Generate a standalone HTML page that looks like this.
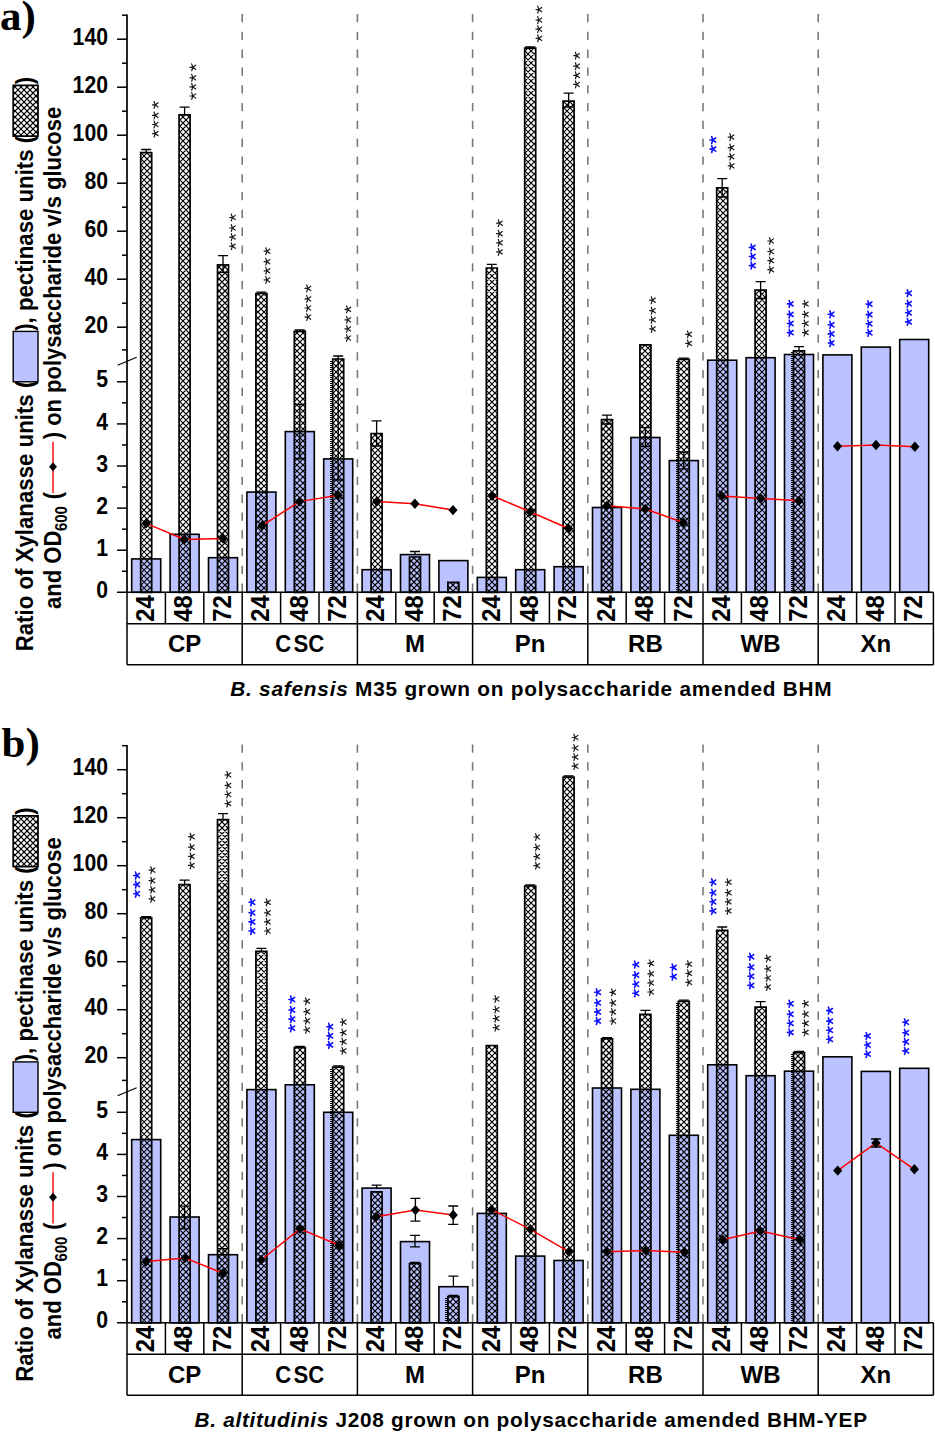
<!DOCTYPE html><html><head><meta charset="utf-8"><style>html,body{margin:0;padding:0;background:#fff;overflow:hidden;width:935px;height:1432px;}svg{display:block;}</style></head><body>
<svg width="935" height="1432" viewBox="0 0 935 1432">
<rect width="935" height="1432" fill="#fff"/>
<text x="0" y="29.6" font-family="'Liberation Serif', serif" font-weight="bold" font-size="43">a)</text>
<line x1="242.2" y1="14" x2="242.2" y2="592.3" stroke="#7a7a7a" stroke-width="1.6" stroke-dasharray="8.3 9.5"/>
<line x1="357.4" y1="14" x2="357.4" y2="592.3" stroke="#7a7a7a" stroke-width="1.6" stroke-dasharray="8.3 9.5"/>
<line x1="472.6" y1="14" x2="472.6" y2="592.3" stroke="#7a7a7a" stroke-width="1.6" stroke-dasharray="8.3 9.5"/>
<line x1="587.8" y1="14" x2="587.8" y2="592.3" stroke="#7a7a7a" stroke-width="1.6" stroke-dasharray="8.3 9.5"/>
<line x1="703" y1="14" x2="703" y2="592.3" stroke="#7a7a7a" stroke-width="1.6" stroke-dasharray="8.3 9.5"/>
<line x1="818.2" y1="14" x2="818.2" y2="592.3" stroke="#7a7a7a" stroke-width="1.6" stroke-dasharray="8.3 9.5"/>
<rect x="131.7" y="558.9" width="29" height="33.4" fill="#bac2ff" stroke="#000" stroke-width="1.6"/>
<rect x="170.1" y="534.3" width="29" height="58" fill="#bac2ff" stroke="#000" stroke-width="1.6"/>
<rect x="208.5" y="557.7" width="29" height="34.6" fill="#bac2ff" stroke="#000" stroke-width="1.6"/>
<rect x="246.9" y="492.1" width="29" height="100.2" fill="#bac2ff" stroke="#000" stroke-width="1.6"/>
<rect x="285.3" y="431.6" width="29" height="160.7" fill="#bac2ff" stroke="#000" stroke-width="1.6"/>
<path d="M294.8 404.3H304.8M299.8 404.3V431.6" stroke="#000" stroke-width="1.3" fill="none"/>
<path d="M294.8 458.9H304.8M299.8 458.9V431.6" stroke="#000" stroke-width="1.3" fill="none"/>
<rect x="323.7" y="458.9" width="29" height="133.4" fill="#bac2ff" stroke="#000" stroke-width="1.6"/>
<rect x="362.1" y="569.7" width="29" height="22.6" fill="#bac2ff" stroke="#000" stroke-width="1.6"/>
<rect x="400.5" y="554.6" width="29" height="37.7" fill="#bac2ff" stroke="#000" stroke-width="1.6"/>
<path d="M410 551.5H420M415 551.5V554.6" stroke="#000" stroke-width="1.3" fill="none"/>
<rect x="438.9" y="560.6" width="29" height="31.7" fill="#bac2ff" stroke="#000" stroke-width="1.6"/>
<rect x="477.3" y="577.4" width="29" height="14.9" fill="#bac2ff" stroke="#000" stroke-width="1.6"/>
<rect x="515.7" y="569.7" width="29" height="22.6" fill="#bac2ff" stroke="#000" stroke-width="1.6"/>
<rect x="554.1" y="566.7" width="29" height="25.6" fill="#bac2ff" stroke="#000" stroke-width="1.6"/>
<rect x="592.5" y="507.5" width="29" height="84.8" fill="#bac2ff" stroke="#000" stroke-width="1.6"/>
<rect x="630.9" y="437.5" width="29" height="154.8" fill="#bac2ff" stroke="#000" stroke-width="1.6"/>
<path d="M640.4 427.5H650.4M645.4 427.5V437.5" stroke="#000" stroke-width="1.3" fill="none"/>
<path d="M640.4 446.5H650.4M645.4 446.5V437.5" stroke="#000" stroke-width="1.3" fill="none"/>
<rect x="669.3" y="460.6" width="29" height="131.7" fill="#bac2ff" stroke="#000" stroke-width="1.6"/>
<path d="M678.8 452H688.8M683.8 452V460.6" stroke="#000" stroke-width="1.3" fill="none"/>
<path d="M678.8 468.8H688.8M683.8 468.8V460.6" stroke="#000" stroke-width="1.3" fill="none"/>
<rect x="707.7" y="360.2" width="29" height="232.1" fill="#bac2ff" stroke="#000" stroke-width="1.6"/>
<rect x="746.1" y="357.7" width="29" height="234.6" fill="#bac2ff" stroke="#000" stroke-width="1.6"/>
<rect x="784.5" y="354.5" width="29" height="237.8" fill="#bac2ff" stroke="#000" stroke-width="1.6"/>
<rect x="822.9" y="354.9" width="29" height="237.4" fill="#bac2ff" stroke="#000" stroke-width="1.6"/>
<rect x="861.3" y="347.1" width="29" height="245.2" fill="#bac2ff" stroke="#000" stroke-width="1.6"/>
<rect x="899.7" y="339.5" width="29" height="252.8" fill="#bac2ff" stroke="#000" stroke-width="1.6"/>
<path d="M141.2 149.5H151.2M146.2 149.5V152.6" stroke="#000" stroke-width="1.3" fill="none"/>
<path d="M179.6 107.2H189.6M184.6 107.2V114.9" stroke="#000" stroke-width="1.3" fill="none"/>
<path d="M218 255.7H228M223 255.7V264.8" stroke="#000" stroke-width="1.3" fill="none"/>
<path d="M218 272.4H228M223 272.4V264.8" stroke="#000" stroke-width="1.3" fill="none"/>
<path d="M256.4 292.2H266.4M261.4 292.2V293.5" stroke="#000" stroke-width="1.3" fill="none"/>
<path d="M294.8 330H304.8M299.8 330V331.3" stroke="#000" stroke-width="1.3" fill="none"/>
<path d="M333.2 356H343.2M338.2 356V359" stroke="#000" stroke-width="1.3" fill="none"/>
<path d="M333.2 480H343.2M338.2 480V359" stroke="#000" stroke-width="1.3" fill="none"/>
<path d="M371.6 420.8H381.6M376.6 420.8V433.5" stroke="#000" stroke-width="1.3" fill="none"/>
<path d="M371.6 446H381.6M376.6 446V433.5" stroke="#000" stroke-width="1.3" fill="none"/>
<path d="M486.8 264.3H496.8M491.8 264.3V268" stroke="#000" stroke-width="1.3" fill="none"/>
<path d="M525.2 47H535.2M530.2 47V48.2" stroke="#000" stroke-width="1.3" fill="none"/>
<path d="M563.6 93.2H573.6M568.6 93.2V101.2" stroke="#000" stroke-width="1.3" fill="none"/>
<path d="M563.6 107H573.6M568.6 107V101.2" stroke="#000" stroke-width="1.3" fill="none"/>
<path d="M602 415.2H612M607 415.2V419.7" stroke="#000" stroke-width="1.3" fill="none"/>
<path d="M602 424H612M607 424V419.7" stroke="#000" stroke-width="1.3" fill="none"/>
<path d="M678.8 358.1H688.8M683.8 358.1V359.3" stroke="#000" stroke-width="1.3" fill="none"/>
<path d="M717.2 178.7H727.2M722.2 178.7V187.9" stroke="#000" stroke-width="1.3" fill="none"/>
<path d="M717.2 197H727.2M722.2 197V187.9" stroke="#000" stroke-width="1.3" fill="none"/>
<path d="M755.6 281.7H765.6M760.6 281.7V290.1" stroke="#000" stroke-width="1.3" fill="none"/>
<path d="M755.6 298.5H765.6M760.6 298.5V290.1" stroke="#000" stroke-width="1.3" fill="none"/>
<path d="M794 346.6H804M799 346.6V350.8" stroke="#000" stroke-width="1.3" fill="none"/>
<path d="M140.7 153.3L141.4 152.6M140.7 159.3L147.4 152.6M140.7 165.3L151.7 154.3M140.7 171.3L151.7 160.3M140.7 177.3L151.7 166.3M140.7 183.3L151.7 172.3M140.7 189.3L151.7 178.3M140.7 195.3L151.7 184.3M140.7 201.3L151.7 190.3M140.7 207.3L151.7 196.3M140.7 213.3L151.7 202.3M140.7 219.3L151.7 208.3M140.7 225.3L151.7 214.3M140.7 231.3L151.7 220.3M140.7 237.3L151.7 226.3M140.7 243.3L151.7 232.3M140.7 249.3L151.7 238.3M140.7 255.3L151.7 244.3M140.7 261.3L151.7 250.3M140.7 267.3L151.7 256.3M140.7 273.3L151.7 262.3M140.7 279.3L151.7 268.3M140.7 285.3L151.7 274.3M140.7 291.3L151.7 280.3M140.7 297.3L151.7 286.3M140.7 303.3L151.7 292.3M140.7 309.3L151.7 298.3M140.7 315.3L151.7 304.3M140.7 321.3L151.7 310.3M140.7 327.3L151.7 316.3M140.7 333.3L151.7 322.3M140.7 339.3L151.7 328.3M140.7 345.3L151.7 334.3M140.7 351.3L151.7 340.3M140.7 357.3L151.7 346.3M140.7 363.3L151.7 352.3M140.7 369.3L151.7 358.3M140.7 375.3L151.7 364.3M140.7 381.3L151.7 370.3M140.7 387.3L151.7 376.3M140.7 393.3L151.7 382.3M140.7 399.3L151.7 388.3M140.7 405.3L151.7 394.3M140.7 411.3L151.7 400.3M140.7 417.3L151.7 406.3M140.7 423.3L151.7 412.3M140.7 429.3L151.7 418.3M140.7 435.3L151.7 424.3M140.7 441.3L151.7 430.3M140.7 447.3L151.7 436.3M140.7 453.3L151.7 442.3M140.7 459.3L151.7 448.3M140.7 465.3L151.7 454.3M140.7 471.3L151.7 460.3M140.7 477.3L151.7 466.3M140.7 483.3L151.7 472.3M140.7 489.3L151.7 478.3M140.7 495.3L151.7 484.3M140.7 501.3L151.7 490.3M140.7 507.3L151.7 496.3M140.7 513.3L151.7 502.3M140.7 519.3L151.7 508.3M140.7 525.3L151.7 514.3M140.7 531.3L151.7 520.3M140.7 537.3L151.7 526.3M140.7 543.3L151.7 532.3M140.7 549.3L151.7 538.3M140.7 555.3L151.7 544.3M140.7 561.3L151.7 550.3M140.7 567.3L151.7 556.3M140.7 573.3L151.7 562.3M140.7 579.3L151.7 568.3M140.7 585.3L151.7 574.3M140.7 591.3L151.7 580.3M145.7 592.3L151.7 586.3M140.7 590.7L142.3 592.3M140.7 584.7L148.3 592.3M140.7 578.7L151.7 589.7M140.7 572.7L151.7 583.7M140.7 566.7L151.7 577.7M140.7 560.7L151.7 571.7M140.7 554.7L151.7 565.7M140.7 548.7L151.7 559.7M140.7 542.7L151.7 553.7M140.7 536.7L151.7 547.7M140.7 530.7L151.7 541.7M140.7 524.7L151.7 535.7M140.7 518.7L151.7 529.7M140.7 512.7L151.7 523.7M140.7 506.7L151.7 517.7M140.7 500.7L151.7 511.7M140.7 494.7L151.7 505.7M140.7 488.7L151.7 499.7M140.7 482.7L151.7 493.7M140.7 476.7L151.7 487.7M140.7 470.7L151.7 481.7M140.7 464.7L151.7 475.7M140.7 458.7L151.7 469.7M140.7 452.7L151.7 463.7M140.7 446.7L151.7 457.7M140.7 440.7L151.7 451.7M140.7 434.7L151.7 445.7M140.7 428.7L151.7 439.7M140.7 422.7L151.7 433.7M140.7 416.7L151.7 427.7M140.7 410.7L151.7 421.7M140.7 404.7L151.7 415.7M140.7 398.7L151.7 409.7M140.7 392.7L151.7 403.7M140.7 386.7L151.7 397.7M140.7 380.7L151.7 391.7M140.7 374.7L151.7 385.7M140.7 368.7L151.7 379.7M140.7 362.7L151.7 373.7M140.7 356.7L151.7 367.7M140.7 350.7L151.7 361.7M140.7 344.7L151.7 355.7M140.7 338.7L151.7 349.7M140.7 332.7L151.7 343.7M140.7 326.7L151.7 337.7M140.7 320.7L151.7 331.7M140.7 314.7L151.7 325.7M140.7 308.7L151.7 319.7M140.7 302.7L151.7 313.7M140.7 296.7L151.7 307.7M140.7 290.7L151.7 301.7M140.7 284.7L151.7 295.7M140.7 278.7L151.7 289.7M140.7 272.7L151.7 283.7M140.7 266.7L151.7 277.7M140.7 260.7L151.7 271.7M140.7 254.7L151.7 265.7M140.7 248.7L151.7 259.7M140.7 242.7L151.7 253.7M140.7 236.7L151.7 247.7M140.7 230.7L151.7 241.7M140.7 224.7L151.7 235.7M140.7 218.7L151.7 229.7M140.7 212.7L151.7 223.7M140.7 206.7L151.7 217.7M140.7 200.7L151.7 211.7M140.7 194.7L151.7 205.7M140.7 188.7L151.7 199.7M140.7 182.7L151.7 193.7M140.7 176.7L151.7 187.7M140.7 170.7L151.7 181.7M140.7 164.7L151.7 175.7M140.7 158.7L151.7 169.7M140.7 152.7L151.7 163.7M146.6 152.6L151.7 157.7M179.1 120.9L185.1 114.9M179.1 126.9L190.1 115.9M179.1 132.9L190.1 121.9M179.1 138.9L190.1 127.9M179.1 144.9L190.1 133.9M179.1 150.9L190.1 139.9M179.1 156.9L190.1 145.9M179.1 162.9L190.1 151.9M179.1 168.9L190.1 157.9M179.1 174.9L190.1 163.9M179.1 180.9L190.1 169.9M179.1 186.9L190.1 175.9M179.1 192.9L190.1 181.9M179.1 198.9L190.1 187.9M179.1 204.9L190.1 193.9M179.1 210.9L190.1 199.9M179.1 216.9L190.1 205.9M179.1 222.9L190.1 211.9M179.1 228.9L190.1 217.9M179.1 234.9L190.1 223.9M179.1 240.9L190.1 229.9M179.1 246.9L190.1 235.9M179.1 252.9L190.1 241.9M179.1 258.9L190.1 247.9M179.1 264.9L190.1 253.9M179.1 270.9L190.1 259.9M179.1 276.9L190.1 265.9M179.1 282.9L190.1 271.9M179.1 288.9L190.1 277.9M179.1 294.9L190.1 283.9M179.1 300.9L190.1 289.9M179.1 306.9L190.1 295.9M179.1 312.9L190.1 301.9M179.1 318.9L190.1 307.9M179.1 324.9L190.1 313.9M179.1 330.9L190.1 319.9M179.1 336.9L190.1 325.9M179.1 342.9L190.1 331.9M179.1 348.9L190.1 337.9M179.1 354.9L190.1 343.9M179.1 360.9L190.1 349.9M179.1 366.9L190.1 355.9M179.1 372.9L190.1 361.9M179.1 378.9L190.1 367.9M179.1 384.9L190.1 373.9M179.1 390.9L190.1 379.9M179.1 396.9L190.1 385.9M179.1 402.9L190.1 391.9M179.1 408.9L190.1 397.9M179.1 414.9L190.1 403.9M179.1 420.9L190.1 409.9M179.1 426.9L190.1 415.9M179.1 432.9L190.1 421.9M179.1 438.9L190.1 427.9M179.1 444.9L190.1 433.9M179.1 450.9L190.1 439.9M179.1 456.9L190.1 445.9M179.1 462.9L190.1 451.9M179.1 468.9L190.1 457.9M179.1 474.9L190.1 463.9M179.1 480.9L190.1 469.9M179.1 486.9L190.1 475.9M179.1 492.9L190.1 481.9M179.1 498.9L190.1 487.9M179.1 504.9L190.1 493.9M179.1 510.9L190.1 499.9M179.1 516.9L190.1 505.9M179.1 522.9L190.1 511.9M179.1 528.9L190.1 517.9M179.1 534.9L190.1 523.9M179.1 540.9L190.1 529.9M179.1 546.9L190.1 535.9M179.1 552.9L190.1 541.9M179.1 558.9L190.1 547.9M179.1 564.9L190.1 553.9M179.1 570.9L190.1 559.9M179.1 576.9L190.1 565.9M179.1 582.9L190.1 571.9M179.1 588.9L190.1 577.9M181.7 592.3L190.1 583.9M187.7 592.3L190.1 589.9M179.1 587.1L184.3 592.3M179.1 581.1L190.1 592.1M179.1 575.1L190.1 586.1M179.1 569.1L190.1 580.1M179.1 563.1L190.1 574.1M179.1 557.1L190.1 568.1M179.1 551.1L190.1 562.1M179.1 545.1L190.1 556.1M179.1 539.1L190.1 550.1M179.1 533.1L190.1 544.1M179.1 527.1L190.1 538.1M179.1 521.1L190.1 532.1M179.1 515.1L190.1 526.1M179.1 509.1L190.1 520.1M179.1 503.1L190.1 514.1M179.1 497.1L190.1 508.1M179.1 491.1L190.1 502.1M179.1 485.1L190.1 496.1M179.1 479.1L190.1 490.1M179.1 473.1L190.1 484.1M179.1 467.1L190.1 478.1M179.1 461.1L190.1 472.1M179.1 455.1L190.1 466.1M179.1 449.1L190.1 460.1M179.1 443.1L190.1 454.1M179.1 437.1L190.1 448.1M179.1 431.1L190.1 442.1M179.1 425.1L190.1 436.1M179.1 419.1L190.1 430.1M179.1 413.1L190.1 424.1M179.1 407.1L190.1 418.1M179.1 401.1L190.1 412.1M179.1 395.1L190.1 406.1M179.1 389.1L190.1 400.1M179.1 383.1L190.1 394.1M179.1 377.1L190.1 388.1M179.1 371.1L190.1 382.1M179.1 365.1L190.1 376.1M179.1 359.1L190.1 370.1M179.1 353.1L190.1 364.1M179.1 347.1L190.1 358.1M179.1 341.1L190.1 352.1M179.1 335.1L190.1 346.1M179.1 329.1L190.1 340.1M179.1 323.1L190.1 334.1M179.1 317.1L190.1 328.1M179.1 311.1L190.1 322.1M179.1 305.1L190.1 316.1M179.1 299.1L190.1 310.1M179.1 293.1L190.1 304.1M179.1 287.1L190.1 298.1M179.1 281.1L190.1 292.1M179.1 275.1L190.1 286.1M179.1 269.1L190.1 280.1M179.1 263.1L190.1 274.1M179.1 257.1L190.1 268.1M179.1 251.1L190.1 262.1M179.1 245.1L190.1 256.1M179.1 239.1L190.1 250.1M179.1 233.1L190.1 244.1M179.1 227.1L190.1 238.1M179.1 221.1L190.1 232.1M179.1 215.1L190.1 226.1M179.1 209.1L190.1 220.1M179.1 203.1L190.1 214.1M179.1 197.1L190.1 208.1M179.1 191.1L190.1 202.1M179.1 185.1L190.1 196.1M179.1 179.1L190.1 190.1M179.1 173.1L190.1 184.1M179.1 167.1L190.1 178.1M179.1 161.1L190.1 172.1M179.1 155.1L190.1 166.1M179.1 149.1L190.1 160.1M179.1 143.1L190.1 154.1M179.1 137.1L190.1 148.1M179.1 131.1L190.1 142.1M179.1 125.1L190.1 136.1M179.1 119.1L190.1 130.1M180.9 114.9L190.1 124.1M186.9 114.9L190.1 118.1M217.5 268.5L221.2 264.8M217.5 274.5L227.2 264.8M217.5 280.5L228.5 269.5M217.5 286.5L228.5 275.5M217.5 292.5L228.5 281.5M217.5 298.5L228.5 287.5M217.5 304.5L228.5 293.5M217.5 310.5L228.5 299.5M217.5 316.5L228.5 305.5M217.5 322.5L228.5 311.5M217.5 328.5L228.5 317.5M217.5 334.5L228.5 323.5M217.5 340.5L228.5 329.5M217.5 346.5L228.5 335.5M217.5 352.5L228.5 341.5M217.5 358.5L228.5 347.5M217.5 364.5L228.5 353.5M217.5 370.5L228.5 359.5M217.5 376.5L228.5 365.5M217.5 382.5L228.5 371.5M217.5 388.5L228.5 377.5M217.5 394.5L228.5 383.5M217.5 400.5L228.5 389.5M217.5 406.5L228.5 395.5M217.5 412.5L228.5 401.5M217.5 418.5L228.5 407.5M217.5 424.5L228.5 413.5M217.5 430.5L228.5 419.5M217.5 436.5L228.5 425.5M217.5 442.5L228.5 431.5M217.5 448.5L228.5 437.5M217.5 454.5L228.5 443.5M217.5 460.5L228.5 449.5M217.5 466.5L228.5 455.5M217.5 472.5L228.5 461.5M217.5 478.5L228.5 467.5M217.5 484.5L228.5 473.5M217.5 490.5L228.5 479.5M217.5 496.5L228.5 485.5M217.5 502.5L228.5 491.5M217.5 508.5L228.5 497.5M217.5 514.5L228.5 503.5M217.5 520.5L228.5 509.5M217.5 526.5L228.5 515.5M217.5 532.5L228.5 521.5M217.5 538.5L228.5 527.5M217.5 544.5L228.5 533.5M217.5 550.5L228.5 539.5M217.5 556.5L228.5 545.5M217.5 562.5L228.5 551.5M217.5 568.5L228.5 557.5M217.5 574.5L228.5 563.5M217.5 580.5L228.5 569.5M217.5 586.5L228.5 575.5M217.7 592.3L228.5 581.5M223.7 592.3L228.5 587.5M217.5 589.5L220.3 592.3M217.5 583.5L226.3 592.3M217.5 577.5L228.5 588.5M217.5 571.5L228.5 582.5M217.5 565.5L228.5 576.5M217.5 559.5L228.5 570.5M217.5 553.5L228.5 564.5M217.5 547.5L228.5 558.5M217.5 541.5L228.5 552.5M217.5 535.5L228.5 546.5M217.5 529.5L228.5 540.5M217.5 523.5L228.5 534.5M217.5 517.5L228.5 528.5M217.5 511.5L228.5 522.5M217.5 505.5L228.5 516.5M217.5 499.5L228.5 510.5M217.5 493.5L228.5 504.5M217.5 487.5L228.5 498.5M217.5 481.5L228.5 492.5M217.5 475.5L228.5 486.5M217.5 469.5L228.5 480.5M217.5 463.5L228.5 474.5M217.5 457.5L228.5 468.5M217.5 451.5L228.5 462.5M217.5 445.5L228.5 456.5M217.5 439.5L228.5 450.5M217.5 433.5L228.5 444.5M217.5 427.5L228.5 438.5M217.5 421.5L228.5 432.5M217.5 415.5L228.5 426.5M217.5 409.5L228.5 420.5M217.5 403.5L228.5 414.5M217.5 397.5L228.5 408.5M217.5 391.5L228.5 402.5M217.5 385.5L228.5 396.5M217.5 379.5L228.5 390.5M217.5 373.5L228.5 384.5M217.5 367.5L228.5 378.5M217.5 361.5L228.5 372.5M217.5 355.5L228.5 366.5M217.5 349.5L228.5 360.5M217.5 343.5L228.5 354.5M217.5 337.5L228.5 348.5M217.5 331.5L228.5 342.5M217.5 325.5L228.5 336.5M217.5 319.5L228.5 330.5M217.5 313.5L228.5 324.5M217.5 307.5L228.5 318.5M217.5 301.5L228.5 312.5M217.5 295.5L228.5 306.5M217.5 289.5L228.5 300.5M217.5 283.5L228.5 294.5M217.5 277.5L228.5 288.5M217.5 271.5L228.5 282.5M217.5 265.5L228.5 276.5M222.8 264.8L228.5 270.5M255.9 296.1L258.5 293.5M255.9 302.1L264.5 293.5M255.9 308.1L266.9 297.1M255.9 314.1L266.9 303.1M255.9 320.1L266.9 309.1M255.9 326.1L266.9 315.1M255.9 332.1L266.9 321.1M255.9 338.1L266.9 327.1M255.9 344.1L266.9 333.1M255.9 350.1L266.9 339.1M255.9 356.1L266.9 345.1M255.9 362.1L266.9 351.1M255.9 368.1L266.9 357.1M255.9 374.1L266.9 363.1M255.9 380.1L266.9 369.1M255.9 386.1L266.9 375.1M255.9 392.1L266.9 381.1M255.9 398.1L266.9 387.1M255.9 404.1L266.9 393.1M255.9 410.1L266.9 399.1M255.9 416.1L266.9 405.1M255.9 422.1L266.9 411.1M255.9 428.1L266.9 417.1M255.9 434.1L266.9 423.1M255.9 440.1L266.9 429.1M255.9 446.1L266.9 435.1M255.9 452.1L266.9 441.1M255.9 458.1L266.9 447.1M255.9 464.1L266.9 453.1M255.9 470.1L266.9 459.1M255.9 476.1L266.9 465.1M255.9 482.1L266.9 471.1M255.9 488.1L266.9 477.1M255.9 494.1L266.9 483.1M255.9 500.1L266.9 489.1M255.9 506.1L266.9 495.1M255.9 512.1L266.9 501.1M255.9 518.1L266.9 507.1M255.9 524.1L266.9 513.1M255.9 530.1L266.9 519.1M255.9 536.1L266.9 525.1M255.9 542.1L266.9 531.1M255.9 548.1L266.9 537.1M255.9 554.1L266.9 543.1M255.9 560.1L266.9 549.1M255.9 566.1L266.9 555.1M255.9 572.1L266.9 561.1M255.9 578.1L266.9 567.1M255.9 584.1L266.9 573.1M255.9 590.1L266.9 579.1M259.7 592.3L266.9 585.1M265.7 592.3L266.9 591.1M255.9 591.9L256.3 592.3M255.9 585.9L262.3 592.3M255.9 579.9L266.9 590.9M255.9 573.9L266.9 584.9M255.9 567.9L266.9 578.9M255.9 561.9L266.9 572.9M255.9 555.9L266.9 566.9M255.9 549.9L266.9 560.9M255.9 543.9L266.9 554.9M255.9 537.9L266.9 548.9M255.9 531.9L266.9 542.9M255.9 525.9L266.9 536.9M255.9 519.9L266.9 530.9M255.9 513.9L266.9 524.9M255.9 507.9L266.9 518.9M255.9 501.9L266.9 512.9M255.9 495.9L266.9 506.9M255.9 489.9L266.9 500.9M255.9 483.9L266.9 494.9M255.9 477.9L266.9 488.9M255.9 471.9L266.9 482.9M255.9 465.9L266.9 476.9M255.9 459.9L266.9 470.9M255.9 453.9L266.9 464.9M255.9 447.9L266.9 458.9M255.9 441.9L266.9 452.9M255.9 435.9L266.9 446.9M255.9 429.9L266.9 440.9M255.9 423.9L266.9 434.9M255.9 417.9L266.9 428.9M255.9 411.9L266.9 422.9M255.9 405.9L266.9 416.9M255.9 399.9L266.9 410.9M255.9 393.9L266.9 404.9M255.9 387.9L266.9 398.9M255.9 381.9L266.9 392.9M255.9 375.9L266.9 386.9M255.9 369.9L266.9 380.9M255.9 363.9L266.9 374.9M255.9 357.9L266.9 368.9M255.9 351.9L266.9 362.9M255.9 345.9L266.9 356.9M255.9 339.9L266.9 350.9M255.9 333.9L266.9 344.9M255.9 327.9L266.9 338.9M255.9 321.9L266.9 332.9M255.9 315.9L266.9 326.9M255.9 309.9L266.9 320.9M255.9 303.9L266.9 314.9M255.9 297.9L266.9 308.9M257.5 293.5L266.9 302.9M263.5 293.5L266.9 296.9M294.3 335.7L298.7 331.3M294.3 341.7L304.7 331.3M294.3 347.7L305.3 336.7M294.3 353.7L305.3 342.7M294.3 359.7L305.3 348.7M294.3 365.7L305.3 354.7M294.3 371.7L305.3 360.7M294.3 377.7L305.3 366.7M294.3 383.7L305.3 372.7M294.3 389.7L305.3 378.7M294.3 395.7L305.3 384.7M294.3 401.7L305.3 390.7M294.3 407.7L305.3 396.7M294.3 413.7L305.3 402.7M294.3 419.7L305.3 408.7M294.3 425.7L305.3 414.7M294.3 431.7L305.3 420.7M294.3 437.7L305.3 426.7M294.3 443.7L305.3 432.7M294.3 449.7L305.3 438.7M294.3 455.7L305.3 444.7M294.3 461.7L305.3 450.7M294.3 467.7L305.3 456.7M294.3 473.7L305.3 462.7M294.3 479.7L305.3 468.7M294.3 485.7L305.3 474.7M294.3 491.7L305.3 480.7M294.3 497.7L305.3 486.7M294.3 503.7L305.3 492.7M294.3 509.7L305.3 498.7M294.3 515.7L305.3 504.7M294.3 521.7L305.3 510.7M294.3 527.7L305.3 516.7M294.3 533.7L305.3 522.7M294.3 539.7L305.3 528.7M294.3 545.7L305.3 534.7M294.3 551.7L305.3 540.7M294.3 557.7L305.3 546.7M294.3 563.7L305.3 552.7M294.3 569.7L305.3 558.7M294.3 575.7L305.3 564.7M294.3 581.7L305.3 570.7M294.3 587.7L305.3 576.7M295.7 592.3L305.3 582.7M301.7 592.3L305.3 588.7M294.3 588.3L298.3 592.3M294.3 582.3L304.3 592.3M294.3 576.3L305.3 587.3M294.3 570.3L305.3 581.3M294.3 564.3L305.3 575.3M294.3 558.3L305.3 569.3M294.3 552.3L305.3 563.3M294.3 546.3L305.3 557.3M294.3 540.3L305.3 551.3M294.3 534.3L305.3 545.3M294.3 528.3L305.3 539.3M294.3 522.3L305.3 533.3M294.3 516.3L305.3 527.3M294.3 510.3L305.3 521.3M294.3 504.3L305.3 515.3M294.3 498.3L305.3 509.3M294.3 492.3L305.3 503.3M294.3 486.3L305.3 497.3M294.3 480.3L305.3 491.3M294.3 474.3L305.3 485.3M294.3 468.3L305.3 479.3M294.3 462.3L305.3 473.3M294.3 456.3L305.3 467.3M294.3 450.3L305.3 461.3M294.3 444.3L305.3 455.3M294.3 438.3L305.3 449.3M294.3 432.3L305.3 443.3M294.3 426.3L305.3 437.3M294.3 420.3L305.3 431.3M294.3 414.3L305.3 425.3M294.3 408.3L305.3 419.3M294.3 402.3L305.3 413.3M294.3 396.3L305.3 407.3M294.3 390.3L305.3 401.3M294.3 384.3L305.3 395.3M294.3 378.3L305.3 389.3M294.3 372.3L305.3 383.3M294.3 366.3L305.3 377.3M294.3 360.3L305.3 371.3M294.3 354.3L305.3 365.3M294.3 348.3L305.3 359.3M294.3 342.3L305.3 353.3M294.3 336.3L305.3 347.3M295.3 331.3L305.3 341.3M301.3 331.3L305.3 335.3M332.7 363.3L337 359M332.7 369.3L343 359M332.7 375.3L343.7 364.3M332.7 381.3L343.7 370.3M332.7 387.3L343.7 376.3M332.7 393.3L343.7 382.3M332.7 399.3L343.7 388.3M332.7 405.3L343.7 394.3M332.7 411.3L343.7 400.3M332.7 417.3L343.7 406.3M332.7 423.3L343.7 412.3M332.7 429.3L343.7 418.3M332.7 435.3L343.7 424.3M332.7 441.3L343.7 430.3M332.7 447.3L343.7 436.3M332.7 453.3L343.7 442.3M332.7 459.3L343.7 448.3M332.7 465.3L343.7 454.3M332.7 471.3L343.7 460.3M332.7 477.3L343.7 466.3M332.7 483.3L343.7 472.3M332.7 489.3L343.7 478.3M332.7 495.3L343.7 484.3M332.7 501.3L343.7 490.3M332.7 507.3L343.7 496.3M332.7 513.3L343.7 502.3M332.7 519.3L343.7 508.3M332.7 525.3L343.7 514.3M332.7 531.3L343.7 520.3M332.7 537.3L343.7 526.3M332.7 543.3L343.7 532.3M332.7 549.3L343.7 538.3M332.7 555.3L343.7 544.3M332.7 561.3L343.7 550.3M332.7 567.3L343.7 556.3M332.7 573.3L343.7 562.3M332.7 579.3L343.7 568.3M332.7 585.3L343.7 574.3M332.7 591.3L343.7 580.3M337.7 592.3L343.7 586.3M332.7 590.7L334.3 592.3M332.7 584.7L340.3 592.3M332.7 578.7L343.7 589.7M332.7 572.7L343.7 583.7M332.7 566.7L343.7 577.7M332.7 560.7L343.7 571.7M332.7 554.7L343.7 565.7M332.7 548.7L343.7 559.7M332.7 542.7L343.7 553.7M332.7 536.7L343.7 547.7M332.7 530.7L343.7 541.7M332.7 524.7L343.7 535.7M332.7 518.7L343.7 529.7M332.7 512.7L343.7 523.7M332.7 506.7L343.7 517.7M332.7 500.7L343.7 511.7M332.7 494.7L343.7 505.7M332.7 488.7L343.7 499.7M332.7 482.7L343.7 493.7M332.7 476.7L343.7 487.7M332.7 470.7L343.7 481.7M332.7 464.7L343.7 475.7M332.7 458.7L343.7 469.7M332.7 452.7L343.7 463.7M332.7 446.7L343.7 457.7M332.7 440.7L343.7 451.7M332.7 434.7L343.7 445.7M332.7 428.7L343.7 439.7M332.7 422.7L343.7 433.7M332.7 416.7L343.7 427.7M332.7 410.7L343.7 421.7M332.7 404.7L343.7 415.7M332.7 398.7L343.7 409.7M332.7 392.7L343.7 403.7M332.7 386.7L343.7 397.7M332.7 380.7L343.7 391.7M332.7 374.7L343.7 385.7M332.7 368.7L343.7 379.7M332.7 362.7L343.7 373.7M335 359L343.7 367.7M341 359L343.7 361.7M371.1 438.9L376.5 433.5M371.1 444.9L382.1 433.9M371.1 450.9L382.1 439.9M371.1 456.9L382.1 445.9M371.1 462.9L382.1 451.9M371.1 468.9L382.1 457.9M371.1 474.9L382.1 463.9M371.1 480.9L382.1 469.9M371.1 486.9L382.1 475.9M371.1 492.9L382.1 481.9M371.1 498.9L382.1 487.9M371.1 504.9L382.1 493.9M371.1 510.9L382.1 499.9M371.1 516.9L382.1 505.9M371.1 522.9L382.1 511.9M371.1 528.9L382.1 517.9M371.1 534.9L382.1 523.9M371.1 540.9L382.1 529.9M371.1 546.9L382.1 535.9M371.1 552.9L382.1 541.9M371.1 558.9L382.1 547.9M371.1 564.9L382.1 553.9M371.1 570.9L382.1 559.9M371.1 576.9L382.1 565.9M371.1 582.9L382.1 571.9M371.1 588.9L382.1 577.9M373.7 592.3L382.1 583.9M379.7 592.3L382.1 589.9M371.1 587.1L376.3 592.3M371.1 581.1L382.1 592.1M371.1 575.1L382.1 586.1M371.1 569.1L382.1 580.1M371.1 563.1L382.1 574.1M371.1 557.1L382.1 568.1M371.1 551.1L382.1 562.1M371.1 545.1L382.1 556.1M371.1 539.1L382.1 550.1M371.1 533.1L382.1 544.1M371.1 527.1L382.1 538.1M371.1 521.1L382.1 532.1M371.1 515.1L382.1 526.1M371.1 509.1L382.1 520.1M371.1 503.1L382.1 514.1M371.1 497.1L382.1 508.1M371.1 491.1L382.1 502.1M371.1 485.1L382.1 496.1M371.1 479.1L382.1 490.1M371.1 473.1L382.1 484.1M371.1 467.1L382.1 478.1M371.1 461.1L382.1 472.1M371.1 455.1L382.1 466.1M371.1 449.1L382.1 460.1M371.1 443.1L382.1 454.1M371.1 437.1L382.1 448.1M373.5 433.5L382.1 442.1M379.5 433.5L382.1 436.1M409.5 562.5L415 557M409.5 568.5L420.5 557.5M409.5 574.5L420.5 563.5M409.5 580.5L420.5 569.5M409.5 586.5L420.5 575.5M409.7 592.3L420.5 581.5M415.7 592.3L420.5 587.5M409.5 589.5L412.3 592.3M409.5 583.5L418.3 592.3M409.5 577.5L420.5 588.5M409.5 571.5L420.5 582.5M409.5 565.5L420.5 576.5M409.5 559.5L420.5 570.5M413 557L420.5 564.5M419 557L420.5 558.5M447.9 584.1L449.6 582.4M447.9 590.1L455.6 582.4M451.7 592.3L458.9 585.1M457.7 592.3L458.9 591.1M447.9 591.9L448.3 592.3M447.9 585.9L454.3 592.3M450.4 582.4L458.9 590.9M456.4 582.4L458.9 584.9M486.3 269.7L488 268M486.3 275.7L494 268M486.3 281.7L497.3 270.7M486.3 287.7L497.3 276.7M486.3 293.7L497.3 282.7M486.3 299.7L497.3 288.7M486.3 305.7L497.3 294.7M486.3 311.7L497.3 300.7M486.3 317.7L497.3 306.7M486.3 323.7L497.3 312.7M486.3 329.7L497.3 318.7M486.3 335.7L497.3 324.7M486.3 341.7L497.3 330.7M486.3 347.7L497.3 336.7M486.3 353.7L497.3 342.7M486.3 359.7L497.3 348.7M486.3 365.7L497.3 354.7M486.3 371.7L497.3 360.7M486.3 377.7L497.3 366.7M486.3 383.7L497.3 372.7M486.3 389.7L497.3 378.7M486.3 395.7L497.3 384.7M486.3 401.7L497.3 390.7M486.3 407.7L497.3 396.7M486.3 413.7L497.3 402.7M486.3 419.7L497.3 408.7M486.3 425.7L497.3 414.7M486.3 431.7L497.3 420.7M486.3 437.7L497.3 426.7M486.3 443.7L497.3 432.7M486.3 449.7L497.3 438.7M486.3 455.7L497.3 444.7M486.3 461.7L497.3 450.7M486.3 467.7L497.3 456.7M486.3 473.7L497.3 462.7M486.3 479.7L497.3 468.7M486.3 485.7L497.3 474.7M486.3 491.7L497.3 480.7M486.3 497.7L497.3 486.7M486.3 503.7L497.3 492.7M486.3 509.7L497.3 498.7M486.3 515.7L497.3 504.7M486.3 521.7L497.3 510.7M486.3 527.7L497.3 516.7M486.3 533.7L497.3 522.7M486.3 539.7L497.3 528.7M486.3 545.7L497.3 534.7M486.3 551.7L497.3 540.7M486.3 557.7L497.3 546.7M486.3 563.7L497.3 552.7M486.3 569.7L497.3 558.7M486.3 575.7L497.3 564.7M486.3 581.7L497.3 570.7M486.3 587.7L497.3 576.7M487.7 592.3L497.3 582.7M493.7 592.3L497.3 588.7M486.3 588.3L490.3 592.3M486.3 582.3L496.3 592.3M486.3 576.3L497.3 587.3M486.3 570.3L497.3 581.3M486.3 564.3L497.3 575.3M486.3 558.3L497.3 569.3M486.3 552.3L497.3 563.3M486.3 546.3L497.3 557.3M486.3 540.3L497.3 551.3M486.3 534.3L497.3 545.3M486.3 528.3L497.3 539.3M486.3 522.3L497.3 533.3M486.3 516.3L497.3 527.3M486.3 510.3L497.3 521.3M486.3 504.3L497.3 515.3M486.3 498.3L497.3 509.3M486.3 492.3L497.3 503.3M486.3 486.3L497.3 497.3M486.3 480.3L497.3 491.3M486.3 474.3L497.3 485.3M486.3 468.3L497.3 479.3M486.3 462.3L497.3 473.3M486.3 456.3L497.3 467.3M486.3 450.3L497.3 461.3M486.3 444.3L497.3 455.3M486.3 438.3L497.3 449.3M486.3 432.3L497.3 443.3M486.3 426.3L497.3 437.3M486.3 420.3L497.3 431.3M486.3 414.3L497.3 425.3M486.3 408.3L497.3 419.3M486.3 402.3L497.3 413.3M486.3 396.3L497.3 407.3M486.3 390.3L497.3 401.3M486.3 384.3L497.3 395.3M486.3 378.3L497.3 389.3M486.3 372.3L497.3 383.3M486.3 366.3L497.3 377.3M486.3 360.3L497.3 371.3M486.3 354.3L497.3 365.3M486.3 348.3L497.3 359.3M486.3 342.3L497.3 353.3M486.3 336.3L497.3 347.3M486.3 330.3L497.3 341.3M486.3 324.3L497.3 335.3M486.3 318.3L497.3 329.3M486.3 312.3L497.3 323.3M486.3 306.3L497.3 317.3M486.3 300.3L497.3 311.3M486.3 294.3L497.3 305.3M486.3 288.3L497.3 299.3M486.3 282.3L497.3 293.3M486.3 276.3L497.3 287.3M486.3 270.3L497.3 281.3M490 268L497.3 275.3M496 268L497.3 269.3M524.7 51.3L527.8 48.2M524.7 57.3L533.8 48.2M524.7 63.3L535.7 52.3M524.7 69.3L535.7 58.3M524.7 75.3L535.7 64.3M524.7 81.3L535.7 70.3M524.7 87.3L535.7 76.3M524.7 93.3L535.7 82.3M524.7 99.3L535.7 88.3M524.7 105.3L535.7 94.3M524.7 111.3L535.7 100.3M524.7 117.3L535.7 106.3M524.7 123.3L535.7 112.3M524.7 129.3L535.7 118.3M524.7 135.3L535.7 124.3M524.7 141.3L535.7 130.3M524.7 147.3L535.7 136.3M524.7 153.3L535.7 142.3M524.7 159.3L535.7 148.3M524.7 165.3L535.7 154.3M524.7 171.3L535.7 160.3M524.7 177.3L535.7 166.3M524.7 183.3L535.7 172.3M524.7 189.3L535.7 178.3M524.7 195.3L535.7 184.3M524.7 201.3L535.7 190.3M524.7 207.3L535.7 196.3M524.7 213.3L535.7 202.3M524.7 219.3L535.7 208.3M524.7 225.3L535.7 214.3M524.7 231.3L535.7 220.3M524.7 237.3L535.7 226.3M524.7 243.3L535.7 232.3M524.7 249.3L535.7 238.3M524.7 255.3L535.7 244.3M524.7 261.3L535.7 250.3M524.7 267.3L535.7 256.3M524.7 273.3L535.7 262.3M524.7 279.3L535.7 268.3M524.7 285.3L535.7 274.3M524.7 291.3L535.7 280.3M524.7 297.3L535.7 286.3M524.7 303.3L535.7 292.3M524.7 309.3L535.7 298.3M524.7 315.3L535.7 304.3M524.7 321.3L535.7 310.3M524.7 327.3L535.7 316.3M524.7 333.3L535.7 322.3M524.7 339.3L535.7 328.3M524.7 345.3L535.7 334.3M524.7 351.3L535.7 340.3M524.7 357.3L535.7 346.3M524.7 363.3L535.7 352.3M524.7 369.3L535.7 358.3M524.7 375.3L535.7 364.3M524.7 381.3L535.7 370.3M524.7 387.3L535.7 376.3M524.7 393.3L535.7 382.3M524.7 399.3L535.7 388.3M524.7 405.3L535.7 394.3M524.7 411.3L535.7 400.3M524.7 417.3L535.7 406.3M524.7 423.3L535.7 412.3M524.7 429.3L535.7 418.3M524.7 435.3L535.7 424.3M524.7 441.3L535.7 430.3M524.7 447.3L535.7 436.3M524.7 453.3L535.7 442.3M524.7 459.3L535.7 448.3M524.7 465.3L535.7 454.3M524.7 471.3L535.7 460.3M524.7 477.3L535.7 466.3M524.7 483.3L535.7 472.3M524.7 489.3L535.7 478.3M524.7 495.3L535.7 484.3M524.7 501.3L535.7 490.3M524.7 507.3L535.7 496.3M524.7 513.3L535.7 502.3M524.7 519.3L535.7 508.3M524.7 525.3L535.7 514.3M524.7 531.3L535.7 520.3M524.7 537.3L535.7 526.3M524.7 543.3L535.7 532.3M524.7 549.3L535.7 538.3M524.7 555.3L535.7 544.3M524.7 561.3L535.7 550.3M524.7 567.3L535.7 556.3M524.7 573.3L535.7 562.3M524.7 579.3L535.7 568.3M524.7 585.3L535.7 574.3M524.7 591.3L535.7 580.3M529.7 592.3L535.7 586.3M524.7 590.7L526.3 592.3M524.7 584.7L532.3 592.3M524.7 578.7L535.7 589.7M524.7 572.7L535.7 583.7M524.7 566.7L535.7 577.7M524.7 560.7L535.7 571.7M524.7 554.7L535.7 565.7M524.7 548.7L535.7 559.7M524.7 542.7L535.7 553.7M524.7 536.7L535.7 547.7M524.7 530.7L535.7 541.7M524.7 524.7L535.7 535.7M524.7 518.7L535.7 529.7M524.7 512.7L535.7 523.7M524.7 506.7L535.7 517.7M524.7 500.7L535.7 511.7M524.7 494.7L535.7 505.7M524.7 488.7L535.7 499.7M524.7 482.7L535.7 493.7M524.7 476.7L535.7 487.7M524.7 470.7L535.7 481.7M524.7 464.7L535.7 475.7M524.7 458.7L535.7 469.7M524.7 452.7L535.7 463.7M524.7 446.7L535.7 457.7M524.7 440.7L535.7 451.7M524.7 434.7L535.7 445.7M524.7 428.7L535.7 439.7M524.7 422.7L535.7 433.7M524.7 416.7L535.7 427.7M524.7 410.7L535.7 421.7M524.7 404.7L535.7 415.7M524.7 398.7L535.7 409.7M524.7 392.7L535.7 403.7M524.7 386.7L535.7 397.7M524.7 380.7L535.7 391.7M524.7 374.7L535.7 385.7M524.7 368.7L535.7 379.7M524.7 362.7L535.7 373.7M524.7 356.7L535.7 367.7M524.7 350.7L535.7 361.7M524.7 344.7L535.7 355.7M524.7 338.7L535.7 349.7M524.7 332.7L535.7 343.7M524.7 326.7L535.7 337.7M524.7 320.7L535.7 331.7M524.7 314.7L535.7 325.7M524.7 308.7L535.7 319.7M524.7 302.7L535.7 313.7M524.7 296.7L535.7 307.7M524.7 290.7L535.7 301.7M524.7 284.7L535.7 295.7M524.7 278.7L535.7 289.7M524.7 272.7L535.7 283.7M524.7 266.7L535.7 277.7M524.7 260.7L535.7 271.7M524.7 254.7L535.7 265.7M524.7 248.7L535.7 259.7M524.7 242.7L535.7 253.7M524.7 236.7L535.7 247.7M524.7 230.7L535.7 241.7M524.7 224.7L535.7 235.7M524.7 218.7L535.7 229.7M524.7 212.7L535.7 223.7M524.7 206.7L535.7 217.7M524.7 200.7L535.7 211.7M524.7 194.7L535.7 205.7M524.7 188.7L535.7 199.7M524.7 182.7L535.7 193.7M524.7 176.7L535.7 187.7M524.7 170.7L535.7 181.7M524.7 164.7L535.7 175.7M524.7 158.7L535.7 169.7M524.7 152.7L535.7 163.7M524.7 146.7L535.7 157.7M524.7 140.7L535.7 151.7M524.7 134.7L535.7 145.7M524.7 128.7L535.7 139.7M524.7 122.7L535.7 133.7M524.7 116.7L535.7 127.7M524.7 110.7L535.7 121.7M524.7 104.7L535.7 115.7M524.7 98.7L535.7 109.7M524.7 92.7L535.7 103.7M524.7 86.7L535.7 97.7M524.7 80.7L535.7 91.7M524.7 74.7L535.7 85.7M524.7 68.7L535.7 79.7M524.7 62.7L535.7 73.7M524.7 56.7L535.7 67.7M524.7 50.7L535.7 61.7M528.2 48.2L535.7 55.7M534.2 48.2L535.7 49.7M563.1 102.9L564.8 101.2M563.1 108.9L570.8 101.2M563.1 114.9L574.1 103.9M563.1 120.9L574.1 109.9M563.1 126.9L574.1 115.9M563.1 132.9L574.1 121.9M563.1 138.9L574.1 127.9M563.1 144.9L574.1 133.9M563.1 150.9L574.1 139.9M563.1 156.9L574.1 145.9M563.1 162.9L574.1 151.9M563.1 168.9L574.1 157.9M563.1 174.9L574.1 163.9M563.1 180.9L574.1 169.9M563.1 186.9L574.1 175.9M563.1 192.9L574.1 181.9M563.1 198.9L574.1 187.9M563.1 204.9L574.1 193.9M563.1 210.9L574.1 199.9M563.1 216.9L574.1 205.9M563.1 222.9L574.1 211.9M563.1 228.9L574.1 217.9M563.1 234.9L574.1 223.9M563.1 240.9L574.1 229.9M563.1 246.9L574.1 235.9M563.1 252.9L574.1 241.9M563.1 258.9L574.1 247.9M563.1 264.9L574.1 253.9M563.1 270.9L574.1 259.9M563.1 276.9L574.1 265.9M563.1 282.9L574.1 271.9M563.1 288.9L574.1 277.9M563.1 294.9L574.1 283.9M563.1 300.9L574.1 289.9M563.1 306.9L574.1 295.9M563.1 312.9L574.1 301.9M563.1 318.9L574.1 307.9M563.1 324.9L574.1 313.9M563.1 330.9L574.1 319.9M563.1 336.9L574.1 325.9M563.1 342.9L574.1 331.9M563.1 348.9L574.1 337.9M563.1 354.9L574.1 343.9M563.1 360.9L574.1 349.9M563.1 366.9L574.1 355.9M563.1 372.9L574.1 361.9M563.1 378.9L574.1 367.9M563.1 384.9L574.1 373.9M563.1 390.9L574.1 379.9M563.1 396.9L574.1 385.9M563.1 402.9L574.1 391.9M563.1 408.9L574.1 397.9M563.1 414.9L574.1 403.9M563.1 420.9L574.1 409.9M563.1 426.9L574.1 415.9M563.1 432.9L574.1 421.9M563.1 438.9L574.1 427.9M563.1 444.9L574.1 433.9M563.1 450.9L574.1 439.9M563.1 456.9L574.1 445.9M563.1 462.9L574.1 451.9M563.1 468.9L574.1 457.9M563.1 474.9L574.1 463.9M563.1 480.9L574.1 469.9M563.1 486.9L574.1 475.9M563.1 492.9L574.1 481.9M563.1 498.9L574.1 487.9M563.1 504.9L574.1 493.9M563.1 510.9L574.1 499.9M563.1 516.9L574.1 505.9M563.1 522.9L574.1 511.9M563.1 528.9L574.1 517.9M563.1 534.9L574.1 523.9M563.1 540.9L574.1 529.9M563.1 546.9L574.1 535.9M563.1 552.9L574.1 541.9M563.1 558.9L574.1 547.9M563.1 564.9L574.1 553.9M563.1 570.9L574.1 559.9M563.1 576.9L574.1 565.9M563.1 582.9L574.1 571.9M563.1 588.9L574.1 577.9M565.7 592.3L574.1 583.9M571.7 592.3L574.1 589.9M563.1 587.1L568.3 592.3M563.1 581.1L574.1 592.1M563.1 575.1L574.1 586.1M563.1 569.1L574.1 580.1M563.1 563.1L574.1 574.1M563.1 557.1L574.1 568.1M563.1 551.1L574.1 562.1M563.1 545.1L574.1 556.1M563.1 539.1L574.1 550.1M563.1 533.1L574.1 544.1M563.1 527.1L574.1 538.1M563.1 521.1L574.1 532.1M563.1 515.1L574.1 526.1M563.1 509.1L574.1 520.1M563.1 503.1L574.1 514.1M563.1 497.1L574.1 508.1M563.1 491.1L574.1 502.1M563.1 485.1L574.1 496.1M563.1 479.1L574.1 490.1M563.1 473.1L574.1 484.1M563.1 467.1L574.1 478.1M563.1 461.1L574.1 472.1M563.1 455.1L574.1 466.1M563.1 449.1L574.1 460.1M563.1 443.1L574.1 454.1M563.1 437.1L574.1 448.1M563.1 431.1L574.1 442.1M563.1 425.1L574.1 436.1M563.1 419.1L574.1 430.1M563.1 413.1L574.1 424.1M563.1 407.1L574.1 418.1M563.1 401.1L574.1 412.1M563.1 395.1L574.1 406.1M563.1 389.1L574.1 400.1M563.1 383.1L574.1 394.1M563.1 377.1L574.1 388.1M563.1 371.1L574.1 382.1M563.1 365.1L574.1 376.1M563.1 359.1L574.1 370.1M563.1 353.1L574.1 364.1M563.1 347.1L574.1 358.1M563.1 341.1L574.1 352.1M563.1 335.1L574.1 346.1M563.1 329.1L574.1 340.1M563.1 323.1L574.1 334.1M563.1 317.1L574.1 328.1M563.1 311.1L574.1 322.1M563.1 305.1L574.1 316.1M563.1 299.1L574.1 310.1M563.1 293.1L574.1 304.1M563.1 287.1L574.1 298.1M563.1 281.1L574.1 292.1M563.1 275.1L574.1 286.1M563.1 269.1L574.1 280.1M563.1 263.1L574.1 274.1M563.1 257.1L574.1 268.1M563.1 251.1L574.1 262.1M563.1 245.1L574.1 256.1M563.1 239.1L574.1 250.1M563.1 233.1L574.1 244.1M563.1 227.1L574.1 238.1M563.1 221.1L574.1 232.1M563.1 215.1L574.1 226.1M563.1 209.1L574.1 220.1M563.1 203.1L574.1 214.1M563.1 197.1L574.1 208.1M563.1 191.1L574.1 202.1M563.1 185.1L574.1 196.1M563.1 179.1L574.1 190.1M563.1 173.1L574.1 184.1M563.1 167.1L574.1 178.1M563.1 161.1L574.1 172.1M563.1 155.1L574.1 166.1M563.1 149.1L574.1 160.1M563.1 143.1L574.1 154.1M563.1 137.1L574.1 148.1M563.1 131.1L574.1 142.1M563.1 125.1L574.1 136.1M563.1 119.1L574.1 130.1M563.1 113.1L574.1 124.1M563.1 107.1L574.1 118.1M563.2 101.2L574.1 112.1M569.2 101.2L574.1 106.1M601.5 424.5L606.3 419.7M601.5 430.5L612.3 419.7M601.5 436.5L612.5 425.5M601.5 442.5L612.5 431.5M601.5 448.5L612.5 437.5M601.5 454.5L612.5 443.5M601.5 460.5L612.5 449.5M601.5 466.5L612.5 455.5M601.5 472.5L612.5 461.5M601.5 478.5L612.5 467.5M601.5 484.5L612.5 473.5M601.5 490.5L612.5 479.5M601.5 496.5L612.5 485.5M601.5 502.5L612.5 491.5M601.5 508.5L612.5 497.5M601.5 514.5L612.5 503.5M601.5 520.5L612.5 509.5M601.5 526.5L612.5 515.5M601.5 532.5L612.5 521.5M601.5 538.5L612.5 527.5M601.5 544.5L612.5 533.5M601.5 550.5L612.5 539.5M601.5 556.5L612.5 545.5M601.5 562.5L612.5 551.5M601.5 568.5L612.5 557.5M601.5 574.5L612.5 563.5M601.5 580.5L612.5 569.5M601.5 586.5L612.5 575.5M601.7 592.3L612.5 581.5M607.7 592.3L612.5 587.5M601.5 589.5L604.3 592.3M601.5 583.5L610.3 592.3M601.5 577.5L612.5 588.5M601.5 571.5L612.5 582.5M601.5 565.5L612.5 576.5M601.5 559.5L612.5 570.5M601.5 553.5L612.5 564.5M601.5 547.5L612.5 558.5M601.5 541.5L612.5 552.5M601.5 535.5L612.5 546.5M601.5 529.5L612.5 540.5M601.5 523.5L612.5 534.5M601.5 517.5L612.5 528.5M601.5 511.5L612.5 522.5M601.5 505.5L612.5 516.5M601.5 499.5L612.5 510.5M601.5 493.5L612.5 504.5M601.5 487.5L612.5 498.5M601.5 481.5L612.5 492.5M601.5 475.5L612.5 486.5M601.5 469.5L612.5 480.5M601.5 463.5L612.5 474.5M601.5 457.5L612.5 468.5M601.5 451.5L612.5 462.5M601.5 445.5L612.5 456.5M601.5 439.5L612.5 450.5M601.5 433.5L612.5 444.5M601.5 427.5L612.5 438.5M601.5 421.5L612.5 432.5M605.7 419.7L612.5 426.5M611.7 419.7L612.5 420.5M639.9 350.1L645.2 344.8M639.9 356.1L650.9 345.1M639.9 362.1L650.9 351.1M639.9 368.1L650.9 357.1M639.9 374.1L650.9 363.1M639.9 380.1L650.9 369.1M639.9 386.1L650.9 375.1M639.9 392.1L650.9 381.1M639.9 398.1L650.9 387.1M639.9 404.1L650.9 393.1M639.9 410.1L650.9 399.1M639.9 416.1L650.9 405.1M639.9 422.1L650.9 411.1M639.9 428.1L650.9 417.1M639.9 434.1L650.9 423.1M639.9 440.1L650.9 429.1M639.9 446.1L650.9 435.1M639.9 452.1L650.9 441.1M639.9 458.1L650.9 447.1M639.9 464.1L650.9 453.1M639.9 470.1L650.9 459.1M639.9 476.1L650.9 465.1M639.9 482.1L650.9 471.1M639.9 488.1L650.9 477.1M639.9 494.1L650.9 483.1M639.9 500.1L650.9 489.1M639.9 506.1L650.9 495.1M639.9 512.1L650.9 501.1M639.9 518.1L650.9 507.1M639.9 524.1L650.9 513.1M639.9 530.1L650.9 519.1M639.9 536.1L650.9 525.1M639.9 542.1L650.9 531.1M639.9 548.1L650.9 537.1M639.9 554.1L650.9 543.1M639.9 560.1L650.9 549.1M639.9 566.1L650.9 555.1M639.9 572.1L650.9 561.1M639.9 578.1L650.9 567.1M639.9 584.1L650.9 573.1M639.9 590.1L650.9 579.1M643.7 592.3L650.9 585.1M649.7 592.3L650.9 591.1M639.9 591.9L640.3 592.3M639.9 585.9L646.3 592.3M639.9 579.9L650.9 590.9M639.9 573.9L650.9 584.9M639.9 567.9L650.9 578.9M639.9 561.9L650.9 572.9M639.9 555.9L650.9 566.9M639.9 549.9L650.9 560.9M639.9 543.9L650.9 554.9M639.9 537.9L650.9 548.9M639.9 531.9L650.9 542.9M639.9 525.9L650.9 536.9M639.9 519.9L650.9 530.9M639.9 513.9L650.9 524.9M639.9 507.9L650.9 518.9M639.9 501.9L650.9 512.9M639.9 495.9L650.9 506.9M639.9 489.9L650.9 500.9M639.9 483.9L650.9 494.9M639.9 477.9L650.9 488.9M639.9 471.9L650.9 482.9M639.9 465.9L650.9 476.9M639.9 459.9L650.9 470.9M639.9 453.9L650.9 464.9M639.9 447.9L650.9 458.9M639.9 441.9L650.9 452.9M639.9 435.9L650.9 446.9M639.9 429.9L650.9 440.9M639.9 423.9L650.9 434.9M639.9 417.9L650.9 428.9M639.9 411.9L650.9 422.9M639.9 405.9L650.9 416.9M639.9 399.9L650.9 410.9M639.9 393.9L650.9 404.9M639.9 387.9L650.9 398.9M639.9 381.9L650.9 392.9M639.9 375.9L650.9 386.9M639.9 369.9L650.9 380.9M639.9 363.9L650.9 374.9M639.9 357.9L650.9 368.9M639.9 351.9L650.9 362.9M639.9 345.9L650.9 356.9M644.8 344.8L650.9 350.9M650.8 344.8L650.9 344.9M678.3 359.7L678.7 359.3M678.3 365.7L684.7 359.3M678.3 371.7L689.3 360.7M678.3 377.7L689.3 366.7M678.3 383.7L689.3 372.7M678.3 389.7L689.3 378.7M678.3 395.7L689.3 384.7M678.3 401.7L689.3 390.7M678.3 407.7L689.3 396.7M678.3 413.7L689.3 402.7M678.3 419.7L689.3 408.7M678.3 425.7L689.3 414.7M678.3 431.7L689.3 420.7M678.3 437.7L689.3 426.7M678.3 443.7L689.3 432.7M678.3 449.7L689.3 438.7M678.3 455.7L689.3 444.7M678.3 461.7L689.3 450.7M678.3 467.7L689.3 456.7M678.3 473.7L689.3 462.7M678.3 479.7L689.3 468.7M678.3 485.7L689.3 474.7M678.3 491.7L689.3 480.7M678.3 497.7L689.3 486.7M678.3 503.7L689.3 492.7M678.3 509.7L689.3 498.7M678.3 515.7L689.3 504.7M678.3 521.7L689.3 510.7M678.3 527.7L689.3 516.7M678.3 533.7L689.3 522.7M678.3 539.7L689.3 528.7M678.3 545.7L689.3 534.7M678.3 551.7L689.3 540.7M678.3 557.7L689.3 546.7M678.3 563.7L689.3 552.7M678.3 569.7L689.3 558.7M678.3 575.7L689.3 564.7M678.3 581.7L689.3 570.7M678.3 587.7L689.3 576.7M679.7 592.3L689.3 582.7M685.7 592.3L689.3 588.7M678.3 588.3L682.3 592.3M678.3 582.3L688.3 592.3M678.3 576.3L689.3 587.3M678.3 570.3L689.3 581.3M678.3 564.3L689.3 575.3M678.3 558.3L689.3 569.3M678.3 552.3L689.3 563.3M678.3 546.3L689.3 557.3M678.3 540.3L689.3 551.3M678.3 534.3L689.3 545.3M678.3 528.3L689.3 539.3M678.3 522.3L689.3 533.3M678.3 516.3L689.3 527.3M678.3 510.3L689.3 521.3M678.3 504.3L689.3 515.3M678.3 498.3L689.3 509.3M678.3 492.3L689.3 503.3M678.3 486.3L689.3 497.3M678.3 480.3L689.3 491.3M678.3 474.3L689.3 485.3M678.3 468.3L689.3 479.3M678.3 462.3L689.3 473.3M678.3 456.3L689.3 467.3M678.3 450.3L689.3 461.3M678.3 444.3L689.3 455.3M678.3 438.3L689.3 449.3M678.3 432.3L689.3 443.3M678.3 426.3L689.3 437.3M678.3 420.3L689.3 431.3M678.3 414.3L689.3 425.3M678.3 408.3L689.3 419.3M678.3 402.3L689.3 413.3M678.3 396.3L689.3 407.3M678.3 390.3L689.3 401.3M678.3 384.3L689.3 395.3M678.3 378.3L689.3 389.3M678.3 372.3L689.3 383.3M678.3 366.3L689.3 377.3M678.3 360.3L689.3 371.3M683.3 359.3L689.3 365.3M716.7 189.3L718.1 187.9M716.7 195.3L724.1 187.9M716.7 201.3L727.7 190.3M716.7 207.3L727.7 196.3M716.7 213.3L727.7 202.3M716.7 219.3L727.7 208.3M716.7 225.3L727.7 214.3M716.7 231.3L727.7 220.3M716.7 237.3L727.7 226.3M716.7 243.3L727.7 232.3M716.7 249.3L727.7 238.3M716.7 255.3L727.7 244.3M716.7 261.3L727.7 250.3M716.7 267.3L727.7 256.3M716.7 273.3L727.7 262.3M716.7 279.3L727.7 268.3M716.7 285.3L727.7 274.3M716.7 291.3L727.7 280.3M716.7 297.3L727.7 286.3M716.7 303.3L727.7 292.3M716.7 309.3L727.7 298.3M716.7 315.3L727.7 304.3M716.7 321.3L727.7 310.3M716.7 327.3L727.7 316.3M716.7 333.3L727.7 322.3M716.7 339.3L727.7 328.3M716.7 345.3L727.7 334.3M716.7 351.3L727.7 340.3M716.7 357.3L727.7 346.3M716.7 363.3L727.7 352.3M716.7 369.3L727.7 358.3M716.7 375.3L727.7 364.3M716.7 381.3L727.7 370.3M716.7 387.3L727.7 376.3M716.7 393.3L727.7 382.3M716.7 399.3L727.7 388.3M716.7 405.3L727.7 394.3M716.7 411.3L727.7 400.3M716.7 417.3L727.7 406.3M716.7 423.3L727.7 412.3M716.7 429.3L727.7 418.3M716.7 435.3L727.7 424.3M716.7 441.3L727.7 430.3M716.7 447.3L727.7 436.3M716.7 453.3L727.7 442.3M716.7 459.3L727.7 448.3M716.7 465.3L727.7 454.3M716.7 471.3L727.7 460.3M716.7 477.3L727.7 466.3M716.7 483.3L727.7 472.3M716.7 489.3L727.7 478.3M716.7 495.3L727.7 484.3M716.7 501.3L727.7 490.3M716.7 507.3L727.7 496.3M716.7 513.3L727.7 502.3M716.7 519.3L727.7 508.3M716.7 525.3L727.7 514.3M716.7 531.3L727.7 520.3M716.7 537.3L727.7 526.3M716.7 543.3L727.7 532.3M716.7 549.3L727.7 538.3M716.7 555.3L727.7 544.3M716.7 561.3L727.7 550.3M716.7 567.3L727.7 556.3M716.7 573.3L727.7 562.3M716.7 579.3L727.7 568.3M716.7 585.3L727.7 574.3M716.7 591.3L727.7 580.3M721.7 592.3L727.7 586.3M716.7 590.7L718.3 592.3M716.7 584.7L724.3 592.3M716.7 578.7L727.7 589.7M716.7 572.7L727.7 583.7M716.7 566.7L727.7 577.7M716.7 560.7L727.7 571.7M716.7 554.7L727.7 565.7M716.7 548.7L727.7 559.7M716.7 542.7L727.7 553.7M716.7 536.7L727.7 547.7M716.7 530.7L727.7 541.7M716.7 524.7L727.7 535.7M716.7 518.7L727.7 529.7M716.7 512.7L727.7 523.7M716.7 506.7L727.7 517.7M716.7 500.7L727.7 511.7M716.7 494.7L727.7 505.7M716.7 488.7L727.7 499.7M716.7 482.7L727.7 493.7M716.7 476.7L727.7 487.7M716.7 470.7L727.7 481.7M716.7 464.7L727.7 475.7M716.7 458.7L727.7 469.7M716.7 452.7L727.7 463.7M716.7 446.7L727.7 457.7M716.7 440.7L727.7 451.7M716.7 434.7L727.7 445.7M716.7 428.7L727.7 439.7M716.7 422.7L727.7 433.7M716.7 416.7L727.7 427.7M716.7 410.7L727.7 421.7M716.7 404.7L727.7 415.7M716.7 398.7L727.7 409.7M716.7 392.7L727.7 403.7M716.7 386.7L727.7 397.7M716.7 380.7L727.7 391.7M716.7 374.7L727.7 385.7M716.7 368.7L727.7 379.7M716.7 362.7L727.7 373.7M716.7 356.7L727.7 367.7M716.7 350.7L727.7 361.7M716.7 344.7L727.7 355.7M716.7 338.7L727.7 349.7M716.7 332.7L727.7 343.7M716.7 326.7L727.7 337.7M716.7 320.7L727.7 331.7M716.7 314.7L727.7 325.7M716.7 308.7L727.7 319.7M716.7 302.7L727.7 313.7M716.7 296.7L727.7 307.7M716.7 290.7L727.7 301.7M716.7 284.7L727.7 295.7M716.7 278.7L727.7 289.7M716.7 272.7L727.7 283.7M716.7 266.7L727.7 277.7M716.7 260.7L727.7 271.7M716.7 254.7L727.7 265.7M716.7 248.7L727.7 259.7M716.7 242.7L727.7 253.7M716.7 236.7L727.7 247.7M716.7 230.7L727.7 241.7M716.7 224.7L727.7 235.7M716.7 218.7L727.7 229.7M716.7 212.7L727.7 223.7M716.7 206.7L727.7 217.7M716.7 200.7L727.7 211.7M716.7 194.7L727.7 205.7M716.7 188.7L727.7 199.7M721.9 187.9L727.7 193.7M755.1 294.9L759.9 290.1M755.1 300.9L765.9 290.1M755.1 306.9L766.1 295.9M755.1 312.9L766.1 301.9M755.1 318.9L766.1 307.9M755.1 324.9L766.1 313.9M755.1 330.9L766.1 319.9M755.1 336.9L766.1 325.9M755.1 342.9L766.1 331.9M755.1 348.9L766.1 337.9M755.1 354.9L766.1 343.9M755.1 360.9L766.1 349.9M755.1 366.9L766.1 355.9M755.1 372.9L766.1 361.9M755.1 378.9L766.1 367.9M755.1 384.9L766.1 373.9M755.1 390.9L766.1 379.9M755.1 396.9L766.1 385.9M755.1 402.9L766.1 391.9M755.1 408.9L766.1 397.9M755.1 414.9L766.1 403.9M755.1 420.9L766.1 409.9M755.1 426.9L766.1 415.9M755.1 432.9L766.1 421.9M755.1 438.9L766.1 427.9M755.1 444.9L766.1 433.9M755.1 450.9L766.1 439.9M755.1 456.9L766.1 445.9M755.1 462.9L766.1 451.9M755.1 468.9L766.1 457.9M755.1 474.9L766.1 463.9M755.1 480.9L766.1 469.9M755.1 486.9L766.1 475.9M755.1 492.9L766.1 481.9M755.1 498.9L766.1 487.9M755.1 504.9L766.1 493.9M755.1 510.9L766.1 499.9M755.1 516.9L766.1 505.9M755.1 522.9L766.1 511.9M755.1 528.9L766.1 517.9M755.1 534.9L766.1 523.9M755.1 540.9L766.1 529.9M755.1 546.9L766.1 535.9M755.1 552.9L766.1 541.9M755.1 558.9L766.1 547.9M755.1 564.9L766.1 553.9M755.1 570.9L766.1 559.9M755.1 576.9L766.1 565.9M755.1 582.9L766.1 571.9M755.1 588.9L766.1 577.9M757.7 592.3L766.1 583.9M763.7 592.3L766.1 589.9M755.1 587.1L760.3 592.3M755.1 581.1L766.1 592.1M755.1 575.1L766.1 586.1M755.1 569.1L766.1 580.1M755.1 563.1L766.1 574.1M755.1 557.1L766.1 568.1M755.1 551.1L766.1 562.1M755.1 545.1L766.1 556.1M755.1 539.1L766.1 550.1M755.1 533.1L766.1 544.1M755.1 527.1L766.1 538.1M755.1 521.1L766.1 532.1M755.1 515.1L766.1 526.1M755.1 509.1L766.1 520.1M755.1 503.1L766.1 514.1M755.1 497.1L766.1 508.1M755.1 491.1L766.1 502.1M755.1 485.1L766.1 496.1M755.1 479.1L766.1 490.1M755.1 473.1L766.1 484.1M755.1 467.1L766.1 478.1M755.1 461.1L766.1 472.1M755.1 455.1L766.1 466.1M755.1 449.1L766.1 460.1M755.1 443.1L766.1 454.1M755.1 437.1L766.1 448.1M755.1 431.1L766.1 442.1M755.1 425.1L766.1 436.1M755.1 419.1L766.1 430.1M755.1 413.1L766.1 424.1M755.1 407.1L766.1 418.1M755.1 401.1L766.1 412.1M755.1 395.1L766.1 406.1M755.1 389.1L766.1 400.1M755.1 383.1L766.1 394.1M755.1 377.1L766.1 388.1M755.1 371.1L766.1 382.1M755.1 365.1L766.1 376.1M755.1 359.1L766.1 370.1M755.1 353.1L766.1 364.1M755.1 347.1L766.1 358.1M755.1 341.1L766.1 352.1M755.1 335.1L766.1 346.1M755.1 329.1L766.1 340.1M755.1 323.1L766.1 334.1M755.1 317.1L766.1 328.1M755.1 311.1L766.1 322.1M755.1 305.1L766.1 316.1M755.1 299.1L766.1 310.1M755.1 293.1L766.1 304.1M758.1 290.1L766.1 298.1M764.1 290.1L766.1 292.1M793.5 352.5L795.2 350.8M793.5 358.5L801.2 350.8M793.5 364.5L804.5 353.5M793.5 370.5L804.5 359.5M793.5 376.5L804.5 365.5M793.5 382.5L804.5 371.5M793.5 388.5L804.5 377.5M793.5 394.5L804.5 383.5M793.5 400.5L804.5 389.5M793.5 406.5L804.5 395.5M793.5 412.5L804.5 401.5M793.5 418.5L804.5 407.5M793.5 424.5L804.5 413.5M793.5 430.5L804.5 419.5M793.5 436.5L804.5 425.5M793.5 442.5L804.5 431.5M793.5 448.5L804.5 437.5M793.5 454.5L804.5 443.5M793.5 460.5L804.5 449.5M793.5 466.5L804.5 455.5M793.5 472.5L804.5 461.5M793.5 478.5L804.5 467.5M793.5 484.5L804.5 473.5M793.5 490.5L804.5 479.5M793.5 496.5L804.5 485.5M793.5 502.5L804.5 491.5M793.5 508.5L804.5 497.5M793.5 514.5L804.5 503.5M793.5 520.5L804.5 509.5M793.5 526.5L804.5 515.5M793.5 532.5L804.5 521.5M793.5 538.5L804.5 527.5M793.5 544.5L804.5 533.5M793.5 550.5L804.5 539.5M793.5 556.5L804.5 545.5M793.5 562.5L804.5 551.5M793.5 568.5L804.5 557.5M793.5 574.5L804.5 563.5M793.5 580.5L804.5 569.5M793.5 586.5L804.5 575.5M793.7 592.3L804.5 581.5M799.7 592.3L804.5 587.5M793.5 589.5L796.3 592.3M793.5 583.5L802.3 592.3M793.5 577.5L804.5 588.5M793.5 571.5L804.5 582.5M793.5 565.5L804.5 576.5M793.5 559.5L804.5 570.5M793.5 553.5L804.5 564.5M793.5 547.5L804.5 558.5M793.5 541.5L804.5 552.5M793.5 535.5L804.5 546.5M793.5 529.5L804.5 540.5M793.5 523.5L804.5 534.5M793.5 517.5L804.5 528.5M793.5 511.5L804.5 522.5M793.5 505.5L804.5 516.5M793.5 499.5L804.5 510.5M793.5 493.5L804.5 504.5M793.5 487.5L804.5 498.5M793.5 481.5L804.5 492.5M793.5 475.5L804.5 486.5M793.5 469.5L804.5 480.5M793.5 463.5L804.5 474.5M793.5 457.5L804.5 468.5M793.5 451.5L804.5 462.5M793.5 445.5L804.5 456.5M793.5 439.5L804.5 450.5M793.5 433.5L804.5 444.5M793.5 427.5L804.5 438.5M793.5 421.5L804.5 432.5M793.5 415.5L804.5 426.5M793.5 409.5L804.5 420.5M793.5 403.5L804.5 414.5M793.5 397.5L804.5 408.5M793.5 391.5L804.5 402.5M793.5 385.5L804.5 396.5M793.5 379.5L804.5 390.5M793.5 373.5L804.5 384.5M793.5 367.5L804.5 378.5M793.5 361.5L804.5 372.5M793.5 355.5L804.5 366.5M794.8 350.8L804.5 360.5M800.8 350.8L804.5 354.5" stroke="#000" stroke-width="1.2" fill="none" shape-rendering="auto"/>
<path d="M140.7 152.6h11v439.7h-11zM179.1 114.9h11v477.4h-11zM217.5 264.8h11v327.5h-11zM255.9 293.5h11v298.8h-11zM294.3 331.3h11v261h-11zM332.7 359h11v233.3h-11zM371.1 433.5h11v158.8h-11zM409.5 557h11v35.3h-11zM447.9 582.4h11v9.9h-11zM486.3 268h11v324.3h-11zM524.7 48.2h11v544.1h-11zM563.1 101.2h11v491.1h-11zM601.5 419.7h11v172.6h-11zM639.9 344.8h11v247.5h-11zM678.3 359.3h11v233h-11zM716.7 187.9h11v404.4h-11zM755.1 290.1h11v302.2h-11zM793.5 350.8h11v241.5h-11z" stroke="#000" stroke-width="1.7" fill="none"/>
<path d="M331.5 361V592M677.5 361V592M792.5 352V592" stroke="#000" stroke-width="3" stroke-dasharray="1 1" fill="none" shape-rendering="crispEdges"/>
<polyline points="146.1,523.4 184.4,539.4 223.1,538.5" fill="none" stroke="#ff0000" stroke-width="1.5"/>
<polyline points="262.1,525.6 299.5,501.6 338,495.2" fill="none" stroke="#ff0000" stroke-width="1.5"/>
<polyline points="376.8,501.6 414.9,503.8 453,510.1" fill="none" stroke="#ff0000" stroke-width="1.5"/>
<polyline points="492.1,495.7 530.1,511.8 568.5,528.5" fill="none" stroke="#ff0000" stroke-width="1.5"/>
<polyline points="606.9,505.7 645.3,509 683.3,522.5" fill="none" stroke="#ff0000" stroke-width="1.5"/>
<polyline points="721.7,496 760.8,498.5 799,500.8" fill="none" stroke="#ff0000" stroke-width="1.5"/>
<polyline points="837.5,446.3 876,445 914.9,446.7" fill="none" stroke="#ff0000" stroke-width="1.5"/>
<path d="M146.1 518.2l4.6 5.2l-4.6 5.2l-4.6 -5.2z" fill="#000"/>
<path d="M184.4 534.2l4.6 5.2l-4.6 5.2l-4.6 -5.2z" fill="#000"/>
<path d="M223.1 533.3l4.6 5.2l-4.6 5.2l-4.6 -5.2z" fill="#000"/>
<path d="M262.1 520.4l4.6 5.2l-4.6 5.2l-4.6 -5.2z" fill="#000"/>
<path d="M299.5 496.4l4.6 5.2l-4.6 5.2l-4.6 -5.2z" fill="#000"/>
<path d="M338 490l4.6 5.2l-4.6 5.2l-4.6 -5.2z" fill="#000"/>
<path d="M376.8 496.4l4.6 5.2l-4.6 5.2l-4.6 -5.2z" fill="#000"/>
<path d="M414.9 498.6l4.6 5.2l-4.6 5.2l-4.6 -5.2z" fill="#000"/>
<path d="M453 504.9l4.6 5.2l-4.6 5.2l-4.6 -5.2z" fill="#000"/>
<path d="M492.1 490.5l4.6 5.2l-4.6 5.2l-4.6 -5.2z" fill="#000"/>
<path d="M530.1 506.6l4.6 5.2l-4.6 5.2l-4.6 -5.2z" fill="#000"/>
<path d="M568.5 523.3l4.6 5.2l-4.6 5.2l-4.6 -5.2z" fill="#000"/>
<path d="M606.9 500.5l4.6 5.2l-4.6 5.2l-4.6 -5.2z" fill="#000"/>
<path d="M645.3 503.8l4.6 5.2l-4.6 5.2l-4.6 -5.2z" fill="#000"/>
<path d="M683.3 517.3l4.6 5.2l-4.6 5.2l-4.6 -5.2z" fill="#000"/>
<path d="M721.7 490.8l4.6 5.2l-4.6 5.2l-4.6 -5.2z" fill="#000"/>
<path d="M760.8 493.3l4.6 5.2l-4.6 5.2l-4.6 -5.2z" fill="#000"/>
<path d="M799 495.6l4.6 5.2l-4.6 5.2l-4.6 -5.2z" fill="#000"/>
<path d="M837.5 441.1l4.6 5.2l-4.6 5.2l-4.6 -5.2z" fill="#000"/>
<path d="M876 439.8l4.6 5.2l-4.6 5.2l-4.6 -5.2z" fill="#000"/>
<path d="M914.9 441.5l4.6 5.2l-4.6 5.2l-4.6 -5.2z" fill="#000"/>
<path d="M155.2 133.6l-2.8 -0M155.2 133.6l-1.11 -3.42M155.2 133.6l-1.11 3.42M155.2 133.6l2.91 -2.12M155.2 133.6l2.91 2.12M155.2 124.5l-2.8 -0M155.2 124.5l-1.11 -3.42M155.2 124.5l-1.11 3.42M155.2 124.5l2.91 -2.12M155.2 124.5l2.91 2.12M155.2 115.4l-2.8 -0M155.2 115.4l-1.11 -3.42M155.2 115.4l-1.11 3.42M155.2 115.4l2.91 -2.12M155.2 115.4l2.91 2.12M155.2 104.9l-2.8 -0M155.2 104.9l-1.11 -3.42M155.2 104.9l-1.11 3.42M155.2 104.9l2.91 -2.12M155.2 104.9l2.91 2.12" stroke="#1a1a1a" stroke-width="1.2" stroke-linecap="round" fill="none"/>
<path d="M192.8 96l-2.8 -0M192.8 96l-1.11 -3.42M192.8 96l-1.11 3.42M192.8 96l2.91 -2.12M192.8 96l2.91 2.12M192.8 86.9l-2.8 -0M192.8 86.9l-1.11 -3.42M192.8 86.9l-1.11 3.42M192.8 86.9l2.91 -2.12M192.8 86.9l2.91 2.12M192.8 77.8l-2.8 -0M192.8 77.8l-1.11 -3.42M192.8 77.8l-1.11 3.42M192.8 77.8l2.91 -2.12M192.8 77.8l2.91 2.12M192.8 67.3l-2.8 -0M192.8 67.3l-1.11 -3.42M192.8 67.3l-1.11 3.42M192.8 67.3l2.91 -2.12M192.8 67.3l2.91 2.12" stroke="#1a1a1a" stroke-width="1.2" stroke-linecap="round" fill="none"/>
<path d="M232.4 246.2l-2.8 -0M232.4 246.2l-1.11 -3.42M232.4 246.2l-1.11 3.42M232.4 246.2l2.91 -2.12M232.4 246.2l2.91 2.12M232.4 237.1l-2.8 -0M232.4 237.1l-1.11 -3.42M232.4 237.1l-1.11 3.42M232.4 237.1l2.91 -2.12M232.4 237.1l2.91 2.12M232.4 228l-2.8 -0M232.4 228l-1.11 -3.42M232.4 228l-1.11 3.42M232.4 228l2.91 -2.12M232.4 228l2.91 2.12M232.4 217.5l-2.8 -0M232.4 217.5l-1.11 -3.42M232.4 217.5l-1.11 3.42M232.4 217.5l2.91 -2.12M232.4 217.5l2.91 2.12" stroke="#1a1a1a" stroke-width="1.2" stroke-linecap="round" fill="none"/>
<path d="M266.9 279.9l-2.8 -0M266.9 279.9l-1.11 -3.42M266.9 279.9l-1.11 3.42M266.9 279.9l2.91 -2.12M266.9 279.9l2.91 2.12M266.9 270.8l-2.8 -0M266.9 270.8l-1.11 -3.42M266.9 270.8l-1.11 3.42M266.9 270.8l2.91 -2.12M266.9 270.8l2.91 2.12M266.9 261.7l-2.8 -0M266.9 261.7l-1.11 -3.42M266.9 261.7l-1.11 3.42M266.9 261.7l2.91 -2.12M266.9 261.7l2.91 2.12M266.9 251.2l-2.8 -0M266.9 251.2l-1.11 -3.42M266.9 251.2l-1.11 3.42M266.9 251.2l2.91 -2.12M266.9 251.2l2.91 2.12" stroke="#1a1a1a" stroke-width="1.2" stroke-linecap="round" fill="none"/>
<path d="M307.8 317.1l-2.8 -0M307.8 317.1l-1.11 -3.42M307.8 317.1l-1.11 3.42M307.8 317.1l2.91 -2.12M307.8 317.1l2.91 2.12M307.8 308l-2.8 -0M307.8 308l-1.11 -3.42M307.8 308l-1.11 3.42M307.8 308l2.91 -2.12M307.8 308l2.91 2.12M307.8 298.9l-2.8 -0M307.8 298.9l-1.11 -3.42M307.8 298.9l-1.11 3.42M307.8 298.9l2.91 -2.12M307.8 298.9l2.91 2.12M307.8 288.4l-2.8 -0M307.8 288.4l-1.11 -3.42M307.8 288.4l-1.11 3.42M307.8 288.4l2.91 -2.12M307.8 288.4l2.91 2.12" stroke="#1a1a1a" stroke-width="1.2" stroke-linecap="round" fill="none"/>
<path d="M347.7 338l-2.8 -0M347.7 338l-1.11 -3.42M347.7 338l-1.11 3.42M347.7 338l2.91 -2.12M347.7 338l2.91 2.12M347.7 328.9l-2.8 -0M347.7 328.9l-1.11 -3.42M347.7 328.9l-1.11 3.42M347.7 328.9l2.91 -2.12M347.7 328.9l2.91 2.12M347.7 319.8l-2.8 -0M347.7 319.8l-1.11 -3.42M347.7 319.8l-1.11 3.42M347.7 319.8l2.91 -2.12M347.7 319.8l2.91 2.12M347.7 309.3l-2.8 -0M347.7 309.3l-1.11 -3.42M347.7 309.3l-1.11 3.42M347.7 309.3l2.91 -2.12M347.7 309.3l2.91 2.12" stroke="#1a1a1a" stroke-width="1.2" stroke-linecap="round" fill="none"/>
<path d="M499.4 251.9l-2.8 -0M499.4 251.9l-1.11 -3.42M499.4 251.9l-1.11 3.42M499.4 251.9l2.91 -2.12M499.4 251.9l2.91 2.12M499.4 242.8l-2.8 -0M499.4 242.8l-1.11 -3.42M499.4 242.8l-1.11 3.42M499.4 242.8l2.91 -2.12M499.4 242.8l2.91 2.12M499.4 233.7l-2.8 -0M499.4 233.7l-1.11 -3.42M499.4 233.7l-1.11 3.42M499.4 233.7l2.91 -2.12M499.4 233.7l2.91 2.12M499.4 223.2l-2.8 -0M499.4 223.2l-1.11 -3.42M499.4 223.2l-1.11 3.42M499.4 223.2l2.91 -2.12M499.4 223.2l2.91 2.12" stroke="#1a1a1a" stroke-width="1.2" stroke-linecap="round" fill="none"/>
<path d="M538.8 38.3l-2.8 -0M538.8 38.3l-1.11 -3.42M538.8 38.3l-1.11 3.42M538.8 38.3l2.91 -2.12M538.8 38.3l2.91 2.12M538.8 29.2l-2.8 -0M538.8 29.2l-1.11 -3.42M538.8 29.2l-1.11 3.42M538.8 29.2l2.91 -2.12M538.8 29.2l2.91 2.12M538.8 20.1l-2.8 -0M538.8 20.1l-1.11 -3.42M538.8 20.1l-1.11 3.42M538.8 20.1l2.91 -2.12M538.8 20.1l2.91 2.12M538.8 9.6l-2.8 -0M538.8 9.6l-1.11 -3.42M538.8 9.6l-1.11 3.42M538.8 9.6l2.91 -2.12M538.8 9.6l2.91 2.12" stroke="#1a1a1a" stroke-width="1.2" stroke-linecap="round" fill="none"/>
<path d="M576.5 84.4l-2.8 -0M576.5 84.4l-1.11 -3.42M576.5 84.4l-1.11 3.42M576.5 84.4l2.91 -2.12M576.5 84.4l2.91 2.12M576.5 75.3l-2.8 -0M576.5 75.3l-1.11 -3.42M576.5 75.3l-1.11 3.42M576.5 75.3l2.91 -2.12M576.5 75.3l2.91 2.12M576.5 66.2l-2.8 -0M576.5 66.2l-1.11 -3.42M576.5 66.2l-1.11 3.42M576.5 66.2l2.91 -2.12M576.5 66.2l2.91 2.12M576.5 55.7l-2.8 -0M576.5 55.7l-1.11 -3.42M576.5 55.7l-1.11 3.42M576.5 55.7l2.91 -2.12M576.5 55.7l2.91 2.12" stroke="#1a1a1a" stroke-width="1.2" stroke-linecap="round" fill="none"/>
<path d="M652.4 328.9l-2.8 -0M652.4 328.9l-1.11 -3.42M652.4 328.9l-1.11 3.42M652.4 328.9l2.91 -2.12M652.4 328.9l2.91 2.12M652.4 319.8l-2.8 -0M652.4 319.8l-1.11 -3.42M652.4 319.8l-1.11 3.42M652.4 319.8l2.91 -2.12M652.4 319.8l2.91 2.12M652.4 310.7l-2.8 -0M652.4 310.7l-1.11 -3.42M652.4 310.7l-1.11 3.42M652.4 310.7l2.91 -2.12M652.4 310.7l2.91 2.12M652.4 300.2l-2.8 -0M652.4 300.2l-1.11 -3.42M652.4 300.2l-1.11 3.42M652.4 300.2l2.91 -2.12M652.4 300.2l2.91 2.12" stroke="#1a1a1a" stroke-width="1.2" stroke-linecap="round" fill="none"/>
<path d="M688.6 343.4l-2.8 -0M688.6 343.4l-1.11 -3.42M688.6 343.4l-1.11 3.42M688.6 343.4l2.91 -2.12M688.6 343.4l2.91 2.12M688.6 334.3l-2.8 -0M688.6 334.3l-1.11 -3.42M688.6 334.3l-1.11 3.42M688.6 334.3l2.91 -2.12M688.6 334.3l2.91 2.12" stroke="#1a1a1a" stroke-width="1.2" stroke-linecap="round" fill="none"/>
<path d="M712.8 149.1l-2.8 -0M712.8 149.1l-1.11 -3.42M712.8 149.1l-1.11 3.42M712.8 149.1l2.91 -2.12M712.8 149.1l2.91 2.12M712.8 140l-2.8 -0M712.8 140l-1.11 -3.42M712.8 140l-1.11 3.42M712.8 140l2.91 -2.12M712.8 140l2.91 2.12" stroke="#1010ff" stroke-width="1.6" stroke-linecap="round" fill="none"/>
<path d="M731 165.8l-2.8 -0M731 165.8l-1.11 -3.42M731 165.8l-1.11 3.42M731 165.8l2.91 -2.12M731 165.8l2.91 2.12M731 156.7l-2.8 -0M731 156.7l-1.11 -3.42M731 156.7l-1.11 3.42M731 156.7l2.91 -2.12M731 156.7l2.91 2.12M731 147.6l-2.8 -0M731 147.6l-1.11 -3.42M731 147.6l-1.11 3.42M731 147.6l2.91 -2.12M731 147.6l2.91 2.12M731 137.1l-2.8 -0M731 137.1l-1.11 -3.42M731 137.1l-1.11 3.42M731 137.1l2.91 -2.12M731 137.1l2.91 2.12" stroke="#1a1a1a" stroke-width="1.2" stroke-linecap="round" fill="none"/>
<path d="M752.2 265.6l-2.8 -0M752.2 265.6l-1.11 -3.42M752.2 265.6l-1.11 3.42M752.2 265.6l2.91 -2.12M752.2 265.6l2.91 2.12M752.2 256.5l-2.8 -0M752.2 256.5l-1.11 -3.42M752.2 256.5l-1.11 3.42M752.2 256.5l2.91 -2.12M752.2 256.5l2.91 2.12M752.2 247.4l-2.8 -0M752.2 247.4l-1.11 -3.42M752.2 247.4l-1.11 3.42M752.2 247.4l2.91 -2.12M752.2 247.4l2.91 2.12" stroke="#1010ff" stroke-width="1.6" stroke-linecap="round" fill="none"/>
<path d="M770.6 269.7l-2.8 -0M770.6 269.7l-1.11 -3.42M770.6 269.7l-1.11 3.42M770.6 269.7l2.91 -2.12M770.6 269.7l2.91 2.12M770.6 260.6l-2.8 -0M770.6 260.6l-1.11 -3.42M770.6 260.6l-1.11 3.42M770.6 260.6l2.91 -2.12M770.6 260.6l2.91 2.12M770.6 251.5l-2.8 -0M770.6 251.5l-1.11 -3.42M770.6 251.5l-1.11 3.42M770.6 251.5l2.91 -2.12M770.6 251.5l2.91 2.12M770.6 241l-2.8 -0M770.6 241l-1.11 -3.42M770.6 241l-1.11 3.42M770.6 241l2.91 -2.12M770.6 241l2.91 2.12" stroke="#1a1a1a" stroke-width="1.2" stroke-linecap="round" fill="none"/>
<path d="M790.2 332.6l-2.8 -0M790.2 332.6l-1.11 -3.42M790.2 332.6l-1.11 3.42M790.2 332.6l2.91 -2.12M790.2 332.6l2.91 2.12M790.2 323.5l-2.8 -0M790.2 323.5l-1.11 -3.42M790.2 323.5l-1.11 3.42M790.2 323.5l2.91 -2.12M790.2 323.5l2.91 2.12M790.2 314.4l-2.8 -0M790.2 314.4l-1.11 -3.42M790.2 314.4l-1.11 3.42M790.2 314.4l2.91 -2.12M790.2 314.4l2.91 2.12M790.2 303.9l-2.8 -0M790.2 303.9l-1.11 -3.42M790.2 303.9l-1.11 3.42M790.2 303.9l2.91 -2.12M790.2 303.9l2.91 2.12" stroke="#1010ff" stroke-width="1.6" stroke-linecap="round" fill="none"/>
<path d="M805.3 332.6l-2.8 -0M805.3 332.6l-1.11 -3.42M805.3 332.6l-1.11 3.42M805.3 332.6l2.91 -2.12M805.3 332.6l2.91 2.12M805.3 323.5l-2.8 -0M805.3 323.5l-1.11 -3.42M805.3 323.5l-1.11 3.42M805.3 323.5l2.91 -2.12M805.3 323.5l2.91 2.12M805.3 314.4l-2.8 -0M805.3 314.4l-1.11 -3.42M805.3 314.4l-1.11 3.42M805.3 314.4l2.91 -2.12M805.3 314.4l2.91 2.12M805.3 303.9l-2.8 -0M805.3 303.9l-1.11 -3.42M805.3 303.9l-1.11 3.42M805.3 303.9l2.91 -2.12M805.3 303.9l2.91 2.12" stroke="#1a1a1a" stroke-width="1.2" stroke-linecap="round" fill="none"/>
<path d="M831 343l-2.8 -0M831 343l-1.11 -3.42M831 343l-1.11 3.42M831 343l2.91 -2.12M831 343l2.91 2.12M831 333.9l-2.8 -0M831 333.9l-1.11 -3.42M831 333.9l-1.11 3.42M831 333.9l2.91 -2.12M831 333.9l2.91 2.12M831 324.8l-2.8 -0M831 324.8l-1.11 -3.42M831 324.8l-1.11 3.42M831 324.8l2.91 -2.12M831 324.8l2.91 2.12M831 314.3l-2.8 -0M831 314.3l-1.11 -3.42M831 314.3l-1.11 3.42M831 314.3l2.91 -2.12M831 314.3l2.91 2.12" stroke="#1010ff" stroke-width="1.6" stroke-linecap="round" fill="none"/>
<path d="M869 332.8l-2.8 -0M869 332.8l-1.11 -3.42M869 332.8l-1.11 3.42M869 332.8l2.91 -2.12M869 332.8l2.91 2.12M869 323.7l-2.8 -0M869 323.7l-1.11 -3.42M869 323.7l-1.11 3.42M869 323.7l2.91 -2.12M869 323.7l2.91 2.12M869 314.6l-2.8 -0M869 314.6l-1.11 -3.42M869 314.6l-1.11 3.42M869 314.6l2.91 -2.12M869 314.6l2.91 2.12M869 304.1l-2.8 -0M869 304.1l-1.11 -3.42M869 304.1l-1.11 3.42M869 304.1l2.91 -2.12M869 304.1l2.91 2.12" stroke="#1010ff" stroke-width="1.6" stroke-linecap="round" fill="none"/>
<path d="M908.4 321.9l-2.8 -0M908.4 321.9l-1.11 -3.42M908.4 321.9l-1.11 3.42M908.4 321.9l2.91 -2.12M908.4 321.9l2.91 2.12M908.4 312.8l-2.8 -0M908.4 312.8l-1.11 -3.42M908.4 312.8l-1.11 3.42M908.4 312.8l2.91 -2.12M908.4 312.8l2.91 2.12M908.4 303.7l-2.8 -0M908.4 303.7l-1.11 -3.42M908.4 303.7l-1.11 3.42M908.4 303.7l2.91 -2.12M908.4 303.7l2.91 2.12M908.4 293.2l-2.8 -0M908.4 293.2l-1.11 -3.42M908.4 293.2l-1.11 3.42M908.4 293.2l2.91 -2.12M908.4 293.2l2.91 2.12" stroke="#1010ff" stroke-width="1.6" stroke-linecap="round" fill="none"/>
<line x1="127" y1="14.5" x2="127" y2="592.3" stroke="#000" stroke-width="1.7"/>
<line x1="122" y1="349.9" x2="127" y2="349.9" stroke="#000" stroke-width="1.5"/>
<line x1="117" y1="327.2" x2="127" y2="327.2" stroke="#000" stroke-width="1.5"/>
<text transform="translate(108 332.8) scale(0.9 1)" text-anchor="end" font-family="'Liberation Sans', sans-serif" font-weight="bold" font-size="23.6">20</text>
<line x1="122" y1="303.2" x2="127" y2="303.2" stroke="#000" stroke-width="1.5"/>
<line x1="117" y1="279.2" x2="127" y2="279.2" stroke="#000" stroke-width="1.5"/>
<text transform="translate(108 284.8) scale(0.9 1)" text-anchor="end" font-family="'Liberation Sans', sans-serif" font-weight="bold" font-size="23.6">40</text>
<line x1="122" y1="255.2" x2="127" y2="255.2" stroke="#000" stroke-width="1.5"/>
<line x1="117" y1="231.2" x2="127" y2="231.2" stroke="#000" stroke-width="1.5"/>
<text transform="translate(108 236.8) scale(0.9 1)" text-anchor="end" font-family="'Liberation Sans', sans-serif" font-weight="bold" font-size="23.6">60</text>
<line x1="122" y1="207.2" x2="127" y2="207.2" stroke="#000" stroke-width="1.5"/>
<line x1="117" y1="183.2" x2="127" y2="183.2" stroke="#000" stroke-width="1.5"/>
<text transform="translate(108 188.8) scale(0.9 1)" text-anchor="end" font-family="'Liberation Sans', sans-serif" font-weight="bold" font-size="23.6">80</text>
<line x1="122" y1="159.2" x2="127" y2="159.2" stroke="#000" stroke-width="1.5"/>
<line x1="117" y1="135.2" x2="127" y2="135.2" stroke="#000" stroke-width="1.5"/>
<text transform="translate(108 140.8) scale(0.9 1)" text-anchor="end" font-family="'Liberation Sans', sans-serif" font-weight="bold" font-size="23.6">100</text>
<line x1="122" y1="111.2" x2="127" y2="111.2" stroke="#000" stroke-width="1.5"/>
<line x1="117" y1="87.2" x2="127" y2="87.2" stroke="#000" stroke-width="1.5"/>
<text transform="translate(108 92.8) scale(0.9 1)" text-anchor="end" font-family="'Liberation Sans', sans-serif" font-weight="bold" font-size="23.6">120</text>
<line x1="122" y1="63.2" x2="127" y2="63.2" stroke="#000" stroke-width="1.5"/>
<line x1="117" y1="39.2" x2="127" y2="39.2" stroke="#000" stroke-width="1.5"/>
<text transform="translate(108 44.8) scale(0.9 1)" text-anchor="end" font-family="'Liberation Sans', sans-serif" font-weight="bold" font-size="23.6">140</text>
<line x1="122" y1="15.2" x2="127" y2="15.2" stroke="#000" stroke-width="1.5"/>
<line x1="122" y1="571.25" x2="127" y2="571.25" stroke="#000" stroke-width="1.5"/>
<line x1="117" y1="550.2" x2="127" y2="550.2" stroke="#000" stroke-width="1.5"/>
<line x1="122" y1="529.15" x2="127" y2="529.15" stroke="#000" stroke-width="1.5"/>
<line x1="117" y1="508.1" x2="127" y2="508.1" stroke="#000" stroke-width="1.5"/>
<line x1="122" y1="487.05" x2="127" y2="487.05" stroke="#000" stroke-width="1.5"/>
<line x1="117" y1="466" x2="127" y2="466" stroke="#000" stroke-width="1.5"/>
<line x1="122" y1="444.95" x2="127" y2="444.95" stroke="#000" stroke-width="1.5"/>
<line x1="117" y1="423.9" x2="127" y2="423.9" stroke="#000" stroke-width="1.5"/>
<line x1="122" y1="402.85" x2="127" y2="402.85" stroke="#000" stroke-width="1.5"/>
<line x1="117" y1="381.8" x2="127" y2="381.8" stroke="#000" stroke-width="1.5"/>
<text transform="translate(108 597.9) scale(0.9 1)" text-anchor="end" font-family="'Liberation Sans', sans-serif" font-weight="bold" font-size="23.6">0</text>
<text transform="translate(108 555.8) scale(0.9 1)" text-anchor="end" font-family="'Liberation Sans', sans-serif" font-weight="bold" font-size="23.6">1</text>
<text transform="translate(108 513.7) scale(0.9 1)" text-anchor="end" font-family="'Liberation Sans', sans-serif" font-weight="bold" font-size="23.6">2</text>
<text transform="translate(108 471.6) scale(0.9 1)" text-anchor="end" font-family="'Liberation Sans', sans-serif" font-weight="bold" font-size="23.6">3</text>
<text transform="translate(108 429.5) scale(0.9 1)" text-anchor="end" font-family="'Liberation Sans', sans-serif" font-weight="bold" font-size="23.6">4</text>
<text transform="translate(108 387.4) scale(0.9 1)" text-anchor="end" font-family="'Liberation Sans', sans-serif" font-weight="bold" font-size="23.6">5</text>
<line x1="117.6" y1="365.2" x2="136.7" y2="357.2" stroke="#000" stroke-width="1.2"/>
<line x1="117" y1="592.3" x2="933.4" y2="592.3" stroke="#000" stroke-width="1.6"/>
<path d="M127 623.8H933.4M127 664.8H933.4" stroke="#000" stroke-width="1.6"/>
<path d="M127 592.3V664.8M165.4 592.3V623.8M203.8 592.3V623.8M242.2 592.3V664.8M280.6 592.3V623.8M319 592.3V623.8M357.4 592.3V664.8M395.8 592.3V623.8M434.2 592.3V623.8M472.6 592.3V664.8M511 592.3V623.8M549.4 592.3V623.8M587.8 592.3V664.8M626.2 592.3V623.8M664.6 592.3V623.8M703 592.3V664.8M741.4 592.3V623.8M779.8 592.3V623.8M818.2 592.3V664.8M856.6 592.3V623.8M895 592.3V623.8M933.4 592.3V664.8" stroke="#000" stroke-width="1.5"/>
<text transform="translate(154 608.5) rotate(-90) scale(1 1.07)" text-anchor="middle" font-family="'Liberation Sans', sans-serif" font-weight="bold" font-size="24">24</text>
<text transform="translate(192.4 608.5) rotate(-90) scale(1 1.07)" text-anchor="middle" font-family="'Liberation Sans', sans-serif" font-weight="bold" font-size="24">48</text>
<text transform="translate(230.8 608.5) rotate(-90) scale(1 1.07)" text-anchor="middle" font-family="'Liberation Sans', sans-serif" font-weight="bold" font-size="24">72</text>
<text x="184.6" y="652" text-anchor="middle" font-family="'Liberation Sans', sans-serif" font-weight="bold" font-size="24">CP</text>
<text transform="translate(269.2 608.5) rotate(-90) scale(1 1.07)" text-anchor="middle" font-family="'Liberation Sans', sans-serif" font-weight="bold" font-size="24">24</text>
<text transform="translate(307.6 608.5) rotate(-90) scale(1 1.07)" text-anchor="middle" font-family="'Liberation Sans', sans-serif" font-weight="bold" font-size="24">48</text>
<text transform="translate(346 608.5) rotate(-90) scale(1 1.07)" text-anchor="middle" font-family="'Liberation Sans', sans-serif" font-weight="bold" font-size="24">72</text>
<text x="299.8" y="652" text-anchor="middle" font-family="'Liberation Sans', sans-serif" font-weight="bold" font-size="24" textLength="49" lengthAdjust="spacingAndGlyphs">C<tspan dx="2.5">SC</tspan></text>
<text transform="translate(384.4 608.5) rotate(-90) scale(1 1.07)" text-anchor="middle" font-family="'Liberation Sans', sans-serif" font-weight="bold" font-size="24">24</text>
<text transform="translate(422.8 608.5) rotate(-90) scale(1 1.07)" text-anchor="middle" font-family="'Liberation Sans', sans-serif" font-weight="bold" font-size="24">48</text>
<text transform="translate(461.2 608.5) rotate(-90) scale(1 1.07)" text-anchor="middle" font-family="'Liberation Sans', sans-serif" font-weight="bold" font-size="24">72</text>
<text x="415" y="652" text-anchor="middle" font-family="'Liberation Sans', sans-serif" font-weight="bold" font-size="24">M</text>
<text transform="translate(499.6 608.5) rotate(-90) scale(1 1.07)" text-anchor="middle" font-family="'Liberation Sans', sans-serif" font-weight="bold" font-size="24">24</text>
<text transform="translate(538 608.5) rotate(-90) scale(1 1.07)" text-anchor="middle" font-family="'Liberation Sans', sans-serif" font-weight="bold" font-size="24">48</text>
<text transform="translate(576.4 608.5) rotate(-90) scale(1 1.07)" text-anchor="middle" font-family="'Liberation Sans', sans-serif" font-weight="bold" font-size="24">72</text>
<text x="530.2" y="652" text-anchor="middle" font-family="'Liberation Sans', sans-serif" font-weight="bold" font-size="24">Pn</text>
<text transform="translate(614.8 608.5) rotate(-90) scale(1 1.07)" text-anchor="middle" font-family="'Liberation Sans', sans-serif" font-weight="bold" font-size="24">24</text>
<text transform="translate(653.2 608.5) rotate(-90) scale(1 1.07)" text-anchor="middle" font-family="'Liberation Sans', sans-serif" font-weight="bold" font-size="24">48</text>
<text transform="translate(691.6 608.5) rotate(-90) scale(1 1.07)" text-anchor="middle" font-family="'Liberation Sans', sans-serif" font-weight="bold" font-size="24">72</text>
<text x="645.4" y="652" text-anchor="middle" font-family="'Liberation Sans', sans-serif" font-weight="bold" font-size="24">RB</text>
<text transform="translate(730 608.5) rotate(-90) scale(1 1.07)" text-anchor="middle" font-family="'Liberation Sans', sans-serif" font-weight="bold" font-size="24">24</text>
<text transform="translate(768.4 608.5) rotate(-90) scale(1 1.07)" text-anchor="middle" font-family="'Liberation Sans', sans-serif" font-weight="bold" font-size="24">48</text>
<text transform="translate(806.8 608.5) rotate(-90) scale(1 1.07)" text-anchor="middle" font-family="'Liberation Sans', sans-serif" font-weight="bold" font-size="24">72</text>
<text x="760.6" y="652" text-anchor="middle" font-family="'Liberation Sans', sans-serif" font-weight="bold" font-size="24">WB</text>
<text transform="translate(845.2 608.5) rotate(-90) scale(1 1.07)" text-anchor="middle" font-family="'Liberation Sans', sans-serif" font-weight="bold" font-size="24">24</text>
<text transform="translate(883.6 608.5) rotate(-90) scale(1 1.07)" text-anchor="middle" font-family="'Liberation Sans', sans-serif" font-weight="bold" font-size="24">48</text>
<text transform="translate(922 608.5) rotate(-90) scale(1 1.07)" text-anchor="middle" font-family="'Liberation Sans', sans-serif" font-weight="bold" font-size="24">72</text>
<text x="875.8" y="652" text-anchor="middle" font-family="'Liberation Sans', sans-serif" font-weight="bold" font-size="24">Xn</text>
<text x="230.2" y="696.2" font-family="'Liberation Sans', sans-serif" font-weight="bold" font-size="20.8" textLength="601.5" lengthAdjust="spacing"><tspan font-style="italic">B. safensis</tspan> M35 grown on polysaccharide amended BHM</text>
<text transform="translate(32.6 651.3) rotate(-90) scale(1 1.05)" font-family="'Liberation Sans', sans-serif" font-weight="bold" font-size="22" textLength="270.6" lengthAdjust="spacingAndGlyphs">Ratio of Xylanasse units (</text>
<text transform="translate(32.6 330.8) rotate(-90) scale(1 1.05)" font-family="'Liberation Sans', sans-serif" font-weight="bold" font-size="22" textLength="194.9" lengthAdjust="spacingAndGlyphs">), pectinase units (</text>
<text transform="translate(32.6 84.2) rotate(-90) scale(1 1.05)" font-family="'Liberation Sans', sans-serif" font-weight="bold" font-size="22">)</text>
<rect x="13.2" y="331.4" width="24.8" height="50.4" fill="#bac2ff" stroke="#000" stroke-width="1.4"/>
<rect x="13.2" y="85.4" width="24.8" height="50.8" fill="#fff"/>
<path d="M13.2 88.8L16.6 85.4M13.2 94.8L22.6 85.4M13.2 100.8L28.6 85.4M13.2 106.8L34.6 85.4M13.2 112.8L38 88M13.2 118.8L38 94M13.2 124.8L38 100M13.2 130.8L38 106M13.8 136.2L38 112M19.8 136.2L38 118M25.8 136.2L38 124M31.8 136.2L38 130M37.8 136.2L38 136M13.2 133.2L16.2 136.2M13.2 127.2L22.2 136.2M13.2 121.2L28.2 136.2M13.2 115.2L34.2 136.2M13.2 109.2L38 134M13.2 103.2L38 128M13.2 97.2L38 122M13.2 91.2L38 116M13.4 85.4L38 110M19.4 85.4L38 104M25.4 85.4L38 98M31.4 85.4L38 92M37.4 85.4L38 86" stroke="#000" stroke-width="1.2" fill="none" shape-rendering="auto"/>
<path d="M13.2 85.4h24.8v50.8h-24.8z" stroke="#000" stroke-width="1.7" fill="none"/>
<text transform="translate(61 608.9) rotate(-90) scale(1 1.05)" font-family="'Liberation Sans', sans-serif" font-weight="bold" font-size="22">and OD</text>
<text transform="translate(67.3 531.1) rotate(-90) scale(1 1.05)" font-family="'Liberation Sans', sans-serif" font-weight="bold" font-size="15">600</text>
<text transform="translate(61 499.3) rotate(-90) scale(1 1.05)" font-family="'Liberation Sans', sans-serif" font-weight="bold" font-size="22">(</text>
<text transform="translate(61 439.3) rotate(-90) scale(1 1.05)" font-family="'Liberation Sans', sans-serif" font-weight="bold" font-size="22">) on polysaccharide v/s glucose</text>
<line x1="53" y1="441.7" x2="53" y2="493" stroke="#ff0000" stroke-width="1.4"/>
<path d="M53 462.2l4 4.5l-4 4.5l-4 -4.5z" fill="#000"/>
<text x="1.5" y="757.2" font-family="'Liberation Serif', serif" font-weight="bold" font-size="43">b)</text>
<line x1="242.2" y1="744.5" x2="242.2" y2="1322.8" stroke="#7a7a7a" stroke-width="1.6" stroke-dasharray="8.3 9.5"/>
<line x1="357.4" y1="744.5" x2="357.4" y2="1322.8" stroke="#7a7a7a" stroke-width="1.6" stroke-dasharray="8.3 9.5"/>
<line x1="472.6" y1="744.5" x2="472.6" y2="1322.8" stroke="#7a7a7a" stroke-width="1.6" stroke-dasharray="8.3 9.5"/>
<line x1="587.8" y1="744.5" x2="587.8" y2="1322.8" stroke="#7a7a7a" stroke-width="1.6" stroke-dasharray="8.3 9.5"/>
<line x1="703" y1="744.5" x2="703" y2="1322.8" stroke="#7a7a7a" stroke-width="1.6" stroke-dasharray="8.3 9.5"/>
<line x1="818.2" y1="744.5" x2="818.2" y2="1322.8" stroke="#7a7a7a" stroke-width="1.6" stroke-dasharray="8.3 9.5"/>
<rect x="131.7" y="1139.6" width="29" height="183.2" fill="#bac2ff" stroke="#000" stroke-width="1.6"/>
<rect x="170.1" y="1217" width="29" height="105.8" fill="#bac2ff" stroke="#000" stroke-width="1.6"/>
<path d="M179.6 1206.2H189.6M184.6 1206.2V1217" stroke="#000" stroke-width="1.3" fill="none"/>
<path d="M179.6 1228.9H189.6M184.6 1228.9V1217" stroke="#000" stroke-width="1.3" fill="none"/>
<rect x="208.5" y="1254.7" width="29" height="68.1" fill="#bac2ff" stroke="#000" stroke-width="1.6"/>
<path d="M218 1248.7H228M223 1248.7V1254.7" stroke="#000" stroke-width="1.3" fill="none"/>
<rect x="246.9" y="1089.6" width="29" height="233.2" fill="#bac2ff" stroke="#000" stroke-width="1.6"/>
<rect x="285.3" y="1084.8" width="29" height="238" fill="#bac2ff" stroke="#000" stroke-width="1.6"/>
<rect x="323.7" y="1112.3" width="29" height="210.5" fill="#bac2ff" stroke="#000" stroke-width="1.6"/>
<rect x="362.1" y="1188.1" width="29" height="134.7" fill="#bac2ff" stroke="#000" stroke-width="1.6"/>
<path d="M371.6 1185.1H381.6M376.6 1185.1V1188.1" stroke="#000" stroke-width="1.3" fill="none"/>
<rect x="400.5" y="1241.6" width="29" height="81.2" fill="#bac2ff" stroke="#000" stroke-width="1.6"/>
<path d="M410 1235.3H420M415 1235.3V1241.6" stroke="#000" stroke-width="1.3" fill="none"/>
<path d="M410 1246.9H420M415 1246.9V1241.6" stroke="#000" stroke-width="1.3" fill="none"/>
<rect x="438.9" y="1286.7" width="29" height="36.1" fill="#bac2ff" stroke="#000" stroke-width="1.6"/>
<path d="M448.4 1276.1H458.4M453.4 1276.1V1286.7" stroke="#000" stroke-width="1.3" fill="none"/>
<rect x="477.3" y="1213.4" width="29" height="109.4" fill="#bac2ff" stroke="#000" stroke-width="1.6"/>
<rect x="515.7" y="1256.1" width="29" height="66.7" fill="#bac2ff" stroke="#000" stroke-width="1.6"/>
<rect x="554.1" y="1260.5" width="29" height="62.3" fill="#bac2ff" stroke="#000" stroke-width="1.6"/>
<rect x="592.5" y="1088" width="29" height="234.8" fill="#bac2ff" stroke="#000" stroke-width="1.6"/>
<rect x="630.9" y="1089.3" width="29" height="233.5" fill="#bac2ff" stroke="#000" stroke-width="1.6"/>
<rect x="669.3" y="1135.3" width="29" height="187.5" fill="#bac2ff" stroke="#000" stroke-width="1.6"/>
<rect x="707.7" y="1064.8" width="29" height="258" fill="#bac2ff" stroke="#000" stroke-width="1.6"/>
<rect x="746.1" y="1075.7" width="29" height="247.1" fill="#bac2ff" stroke="#000" stroke-width="1.6"/>
<rect x="784.5" y="1071.2" width="29" height="251.6" fill="#bac2ff" stroke="#000" stroke-width="1.6"/>
<rect x="822.9" y="1056.8" width="29" height="266" fill="#bac2ff" stroke="#000" stroke-width="1.6"/>
<rect x="861.3" y="1071.4" width="29" height="251.4" fill="#bac2ff" stroke="#000" stroke-width="1.6"/>
<rect x="899.7" y="1068.3" width="29" height="254.5" fill="#bac2ff" stroke="#000" stroke-width="1.6"/>
<path d="M141.2 916.6H151.2M146.2 916.6V917.8" stroke="#000" stroke-width="1.3" fill="none"/>
<path d="M179.6 880.1H189.6M184.6 880.1V884.7" stroke="#000" stroke-width="1.3" fill="none"/>
<path d="M218 813.7H228M223 813.7V819.7" stroke="#000" stroke-width="1.3" fill="none"/>
<path d="M256.4 948.3H266.4M261.4 948.3V951.3" stroke="#000" stroke-width="1.3" fill="none"/>
<path d="M294.8 1046.5H304.8M299.8 1046.5V1047.7" stroke="#000" stroke-width="1.3" fill="none"/>
<path d="M333.2 1065.9H343.2M338.2 1065.9V1067.1" stroke="#000" stroke-width="1.3" fill="none"/>
<path d="M410 1262.3H420M415 1262.3V1263.5" stroke="#000" stroke-width="1.3" fill="none"/>
<path d="M448.4 1295.4H458.4M453.4 1295.4V1296.6" stroke="#000" stroke-width="1.3" fill="none"/>
<path d="M525.2 884.8H535.2M530.2 884.8V886" stroke="#000" stroke-width="1.3" fill="none"/>
<path d="M563.6 775.9H573.6M568.6 775.9V777.1" stroke="#000" stroke-width="1.3" fill="none"/>
<path d="M602 1037.7H612M607 1037.7V1038.9" stroke="#000" stroke-width="1.3" fill="none"/>
<path d="M640.4 1010.4H650.4M645.4 1010.4V1014.3" stroke="#000" stroke-width="1.3" fill="none"/>
<path d="M678.8 1000.2H688.8M683.8 1000.2V1001.4" stroke="#000" stroke-width="1.3" fill="none"/>
<path d="M717.2 927H727.2M722.2 927V930.4" stroke="#000" stroke-width="1.3" fill="none"/>
<path d="M755.6 1001.6H765.6M760.6 1001.6V1007.1" stroke="#000" stroke-width="1.3" fill="none"/>
<path d="M794 1051.5H804M799 1051.5V1052.7" stroke="#000" stroke-width="1.3" fill="none"/>
<path d="M140.7 921.3L144.2 917.8M140.7 927.3L150.2 917.8M140.7 933.3L151.7 922.3M140.7 939.3L151.7 928.3M140.7 945.3L151.7 934.3M140.7 951.3L151.7 940.3M140.7 957.3L151.7 946.3M140.7 963.3L151.7 952.3M140.7 969.3L151.7 958.3M140.7 975.3L151.7 964.3M140.7 981.3L151.7 970.3M140.7 987.3L151.7 976.3M140.7 993.3L151.7 982.3M140.7 999.3L151.7 988.3M140.7 1005.3L151.7 994.3M140.7 1011.3L151.7 1000.3M140.7 1017.3L151.7 1006.3M140.7 1023.3L151.7 1012.3M140.7 1029.3L151.7 1018.3M140.7 1035.3L151.7 1024.3M140.7 1041.3L151.7 1030.3M140.7 1047.3L151.7 1036.3M140.7 1053.3L151.7 1042.3M140.7 1059.3L151.7 1048.3M140.7 1065.3L151.7 1054.3M140.7 1071.3L151.7 1060.3M140.7 1077.3L151.7 1066.3M140.7 1083.3L151.7 1072.3M140.7 1089.3L151.7 1078.3M140.7 1095.3L151.7 1084.3M140.7 1101.3L151.7 1090.3M140.7 1107.3L151.7 1096.3M140.7 1113.3L151.7 1102.3M140.7 1119.3L151.7 1108.3M140.7 1125.3L151.7 1114.3M140.7 1131.3L151.7 1120.3M140.7 1137.3L151.7 1126.3M140.7 1143.3L151.7 1132.3M140.7 1149.3L151.7 1138.3M140.7 1155.3L151.7 1144.3M140.7 1161.3L151.7 1150.3M140.7 1167.3L151.7 1156.3M140.7 1173.3L151.7 1162.3M140.7 1179.3L151.7 1168.3M140.7 1185.3L151.7 1174.3M140.7 1191.3L151.7 1180.3M140.7 1197.3L151.7 1186.3M140.7 1203.3L151.7 1192.3M140.7 1209.3L151.7 1198.3M140.7 1215.3L151.7 1204.3M140.7 1221.3L151.7 1210.3M140.7 1227.3L151.7 1216.3M140.7 1233.3L151.7 1222.3M140.7 1239.3L151.7 1228.3M140.7 1245.3L151.7 1234.3M140.7 1251.3L151.7 1240.3M140.7 1257.3L151.7 1246.3M140.7 1263.3L151.7 1252.3M140.7 1269.3L151.7 1258.3M140.7 1275.3L151.7 1264.3M140.7 1281.3L151.7 1270.3M140.7 1287.3L151.7 1276.3M140.7 1293.3L151.7 1282.3M140.7 1299.3L151.7 1288.3M140.7 1305.3L151.7 1294.3M140.7 1311.3L151.7 1300.3M140.7 1317.3L151.7 1306.3M141.2 1322.8L151.7 1312.3M147.2 1322.8L151.7 1318.3M140.7 1322.7L140.8 1322.8M140.7 1316.7L146.8 1322.8M140.7 1310.7L151.7 1321.7M140.7 1304.7L151.7 1315.7M140.7 1298.7L151.7 1309.7M140.7 1292.7L151.7 1303.7M140.7 1286.7L151.7 1297.7M140.7 1280.7L151.7 1291.7M140.7 1274.7L151.7 1285.7M140.7 1268.7L151.7 1279.7M140.7 1262.7L151.7 1273.7M140.7 1256.7L151.7 1267.7M140.7 1250.7L151.7 1261.7M140.7 1244.7L151.7 1255.7M140.7 1238.7L151.7 1249.7M140.7 1232.7L151.7 1243.7M140.7 1226.7L151.7 1237.7M140.7 1220.7L151.7 1231.7M140.7 1214.7L151.7 1225.7M140.7 1208.7L151.7 1219.7M140.7 1202.7L151.7 1213.7M140.7 1196.7L151.7 1207.7M140.7 1190.7L151.7 1201.7M140.7 1184.7L151.7 1195.7M140.7 1178.7L151.7 1189.7M140.7 1172.7L151.7 1183.7M140.7 1166.7L151.7 1177.7M140.7 1160.7L151.7 1171.7M140.7 1154.7L151.7 1165.7M140.7 1148.7L151.7 1159.7M140.7 1142.7L151.7 1153.7M140.7 1136.7L151.7 1147.7M140.7 1130.7L151.7 1141.7M140.7 1124.7L151.7 1135.7M140.7 1118.7L151.7 1129.7M140.7 1112.7L151.7 1123.7M140.7 1106.7L151.7 1117.7M140.7 1100.7L151.7 1111.7M140.7 1094.7L151.7 1105.7M140.7 1088.7L151.7 1099.7M140.7 1082.7L151.7 1093.7M140.7 1076.7L151.7 1087.7M140.7 1070.7L151.7 1081.7M140.7 1064.7L151.7 1075.7M140.7 1058.7L151.7 1069.7M140.7 1052.7L151.7 1063.7M140.7 1046.7L151.7 1057.7M140.7 1040.7L151.7 1051.7M140.7 1034.7L151.7 1045.7M140.7 1028.7L151.7 1039.7M140.7 1022.7L151.7 1033.7M140.7 1016.7L151.7 1027.7M140.7 1010.7L151.7 1021.7M140.7 1004.7L151.7 1015.7M140.7 998.7L151.7 1009.7M140.7 992.7L151.7 1003.7M140.7 986.7L151.7 997.7M140.7 980.7L151.7 991.7M140.7 974.7L151.7 985.7M140.7 968.7L151.7 979.7M140.7 962.7L151.7 973.7M140.7 956.7L151.7 967.7M140.7 950.7L151.7 961.7M140.7 944.7L151.7 955.7M140.7 938.7L151.7 949.7M140.7 932.7L151.7 943.7M140.7 926.7L151.7 937.7M140.7 920.7L151.7 931.7M143.8 917.8L151.7 925.7M149.8 917.8L151.7 919.7M179.1 888.9L183.3 884.7M179.1 894.9L189.3 884.7M179.1 900.9L190.1 889.9M179.1 906.9L190.1 895.9M179.1 912.9L190.1 901.9M179.1 918.9L190.1 907.9M179.1 924.9L190.1 913.9M179.1 930.9L190.1 919.9M179.1 936.9L190.1 925.9M179.1 942.9L190.1 931.9M179.1 948.9L190.1 937.9M179.1 954.9L190.1 943.9M179.1 960.9L190.1 949.9M179.1 966.9L190.1 955.9M179.1 972.9L190.1 961.9M179.1 978.9L190.1 967.9M179.1 984.9L190.1 973.9M179.1 990.9L190.1 979.9M179.1 996.9L190.1 985.9M179.1 1002.9L190.1 991.9M179.1 1008.9L190.1 997.9M179.1 1014.9L190.1 1003.9M179.1 1020.9L190.1 1009.9M179.1 1026.9L190.1 1015.9M179.1 1032.9L190.1 1021.9M179.1 1038.9L190.1 1027.9M179.1 1044.9L190.1 1033.9M179.1 1050.9L190.1 1039.9M179.1 1056.9L190.1 1045.9M179.1 1062.9L190.1 1051.9M179.1 1068.9L190.1 1057.9M179.1 1074.9L190.1 1063.9M179.1 1080.9L190.1 1069.9M179.1 1086.9L190.1 1075.9M179.1 1092.9L190.1 1081.9M179.1 1098.9L190.1 1087.9M179.1 1104.9L190.1 1093.9M179.1 1110.9L190.1 1099.9M179.1 1116.9L190.1 1105.9M179.1 1122.9L190.1 1111.9M179.1 1128.9L190.1 1117.9M179.1 1134.9L190.1 1123.9M179.1 1140.9L190.1 1129.9M179.1 1146.9L190.1 1135.9M179.1 1152.9L190.1 1141.9M179.1 1158.9L190.1 1147.9M179.1 1164.9L190.1 1153.9M179.1 1170.9L190.1 1159.9M179.1 1176.9L190.1 1165.9M179.1 1182.9L190.1 1171.9M179.1 1188.9L190.1 1177.9M179.1 1194.9L190.1 1183.9M179.1 1200.9L190.1 1189.9M179.1 1206.9L190.1 1195.9M179.1 1212.9L190.1 1201.9M179.1 1218.9L190.1 1207.9M179.1 1224.9L190.1 1213.9M179.1 1230.9L190.1 1219.9M179.1 1236.9L190.1 1225.9M179.1 1242.9L190.1 1231.9M179.1 1248.9L190.1 1237.9M179.1 1254.9L190.1 1243.9M179.1 1260.9L190.1 1249.9M179.1 1266.9L190.1 1255.9M179.1 1272.9L190.1 1261.9M179.1 1278.9L190.1 1267.9M179.1 1284.9L190.1 1273.9M179.1 1290.9L190.1 1279.9M179.1 1296.9L190.1 1285.9M179.1 1302.9L190.1 1291.9M179.1 1308.9L190.1 1297.9M179.1 1314.9L190.1 1303.9M179.1 1320.9L190.1 1309.9M183.2 1322.8L190.1 1315.9M189.2 1322.8L190.1 1321.9M179.1 1319.1L182.8 1322.8M179.1 1313.1L188.8 1322.8M179.1 1307.1L190.1 1318.1M179.1 1301.1L190.1 1312.1M179.1 1295.1L190.1 1306.1M179.1 1289.1L190.1 1300.1M179.1 1283.1L190.1 1294.1M179.1 1277.1L190.1 1288.1M179.1 1271.1L190.1 1282.1M179.1 1265.1L190.1 1276.1M179.1 1259.1L190.1 1270.1M179.1 1253.1L190.1 1264.1M179.1 1247.1L190.1 1258.1M179.1 1241.1L190.1 1252.1M179.1 1235.1L190.1 1246.1M179.1 1229.1L190.1 1240.1M179.1 1223.1L190.1 1234.1M179.1 1217.1L190.1 1228.1M179.1 1211.1L190.1 1222.1M179.1 1205.1L190.1 1216.1M179.1 1199.1L190.1 1210.1M179.1 1193.1L190.1 1204.1M179.1 1187.1L190.1 1198.1M179.1 1181.1L190.1 1192.1M179.1 1175.1L190.1 1186.1M179.1 1169.1L190.1 1180.1M179.1 1163.1L190.1 1174.1M179.1 1157.1L190.1 1168.1M179.1 1151.1L190.1 1162.1M179.1 1145.1L190.1 1156.1M179.1 1139.1L190.1 1150.1M179.1 1133.1L190.1 1144.1M179.1 1127.1L190.1 1138.1M179.1 1121.1L190.1 1132.1M179.1 1115.1L190.1 1126.1M179.1 1109.1L190.1 1120.1M179.1 1103.1L190.1 1114.1M179.1 1097.1L190.1 1108.1M179.1 1091.1L190.1 1102.1M179.1 1085.1L190.1 1096.1M179.1 1079.1L190.1 1090.1M179.1 1073.1L190.1 1084.1M179.1 1067.1L190.1 1078.1M179.1 1061.1L190.1 1072.1M179.1 1055.1L190.1 1066.1M179.1 1049.1L190.1 1060.1M179.1 1043.1L190.1 1054.1M179.1 1037.1L190.1 1048.1M179.1 1031.1L190.1 1042.1M179.1 1025.1L190.1 1036.1M179.1 1019.1L190.1 1030.1M179.1 1013.1L190.1 1024.1M179.1 1007.1L190.1 1018.1M179.1 1001.1L190.1 1012.1M179.1 995.1L190.1 1006.1M179.1 989.1L190.1 1000.1M179.1 983.1L190.1 994.1M179.1 977.1L190.1 988.1M179.1 971.1L190.1 982.1M179.1 965.1L190.1 976.1M179.1 959.1L190.1 970.1M179.1 953.1L190.1 964.1M179.1 947.1L190.1 958.1M179.1 941.1L190.1 952.1M179.1 935.1L190.1 946.1M179.1 929.1L190.1 940.1M179.1 923.1L190.1 934.1M179.1 917.1L190.1 928.1M179.1 911.1L190.1 922.1M179.1 905.1L190.1 916.1M179.1 899.1L190.1 910.1M179.1 893.1L190.1 904.1M179.1 887.1L190.1 898.1M182.7 884.7L190.1 892.1M188.7 884.7L190.1 886.1M217.5 820.5L218.3 819.7M217.5 826.5L224.3 819.7M217.5 832.5L228.5 821.5M217.5 838.5L228.5 827.5M217.5 844.5L228.5 833.5M217.5 850.5L228.5 839.5M217.5 856.5L228.5 845.5M217.5 862.5L228.5 851.5M217.5 868.5L228.5 857.5M217.5 874.5L228.5 863.5M217.5 880.5L228.5 869.5M217.5 886.5L228.5 875.5M217.5 892.5L228.5 881.5M217.5 898.5L228.5 887.5M217.5 904.5L228.5 893.5M217.5 910.5L228.5 899.5M217.5 916.5L228.5 905.5M217.5 922.5L228.5 911.5M217.5 928.5L228.5 917.5M217.5 934.5L228.5 923.5M217.5 940.5L228.5 929.5M217.5 946.5L228.5 935.5M217.5 952.5L228.5 941.5M217.5 958.5L228.5 947.5M217.5 964.5L228.5 953.5M217.5 970.5L228.5 959.5M217.5 976.5L228.5 965.5M217.5 982.5L228.5 971.5M217.5 988.5L228.5 977.5M217.5 994.5L228.5 983.5M217.5 1000.5L228.5 989.5M217.5 1006.5L228.5 995.5M217.5 1012.5L228.5 1001.5M217.5 1018.5L228.5 1007.5M217.5 1024.5L228.5 1013.5M217.5 1030.5L228.5 1019.5M217.5 1036.5L228.5 1025.5M217.5 1042.5L228.5 1031.5M217.5 1048.5L228.5 1037.5M217.5 1054.5L228.5 1043.5M217.5 1060.5L228.5 1049.5M217.5 1066.5L228.5 1055.5M217.5 1072.5L228.5 1061.5M217.5 1078.5L228.5 1067.5M217.5 1084.5L228.5 1073.5M217.5 1090.5L228.5 1079.5M217.5 1096.5L228.5 1085.5M217.5 1102.5L228.5 1091.5M217.5 1108.5L228.5 1097.5M217.5 1114.5L228.5 1103.5M217.5 1120.5L228.5 1109.5M217.5 1126.5L228.5 1115.5M217.5 1132.5L228.5 1121.5M217.5 1138.5L228.5 1127.5M217.5 1144.5L228.5 1133.5M217.5 1150.5L228.5 1139.5M217.5 1156.5L228.5 1145.5M217.5 1162.5L228.5 1151.5M217.5 1168.5L228.5 1157.5M217.5 1174.5L228.5 1163.5M217.5 1180.5L228.5 1169.5M217.5 1186.5L228.5 1175.5M217.5 1192.5L228.5 1181.5M217.5 1198.5L228.5 1187.5M217.5 1204.5L228.5 1193.5M217.5 1210.5L228.5 1199.5M217.5 1216.5L228.5 1205.5M217.5 1222.5L228.5 1211.5M217.5 1228.5L228.5 1217.5M217.5 1234.5L228.5 1223.5M217.5 1240.5L228.5 1229.5M217.5 1246.5L228.5 1235.5M217.5 1252.5L228.5 1241.5M217.5 1258.5L228.5 1247.5M217.5 1264.5L228.5 1253.5M217.5 1270.5L228.5 1259.5M217.5 1276.5L228.5 1265.5M217.5 1282.5L228.5 1271.5M217.5 1288.5L228.5 1277.5M217.5 1294.5L228.5 1283.5M217.5 1300.5L228.5 1289.5M217.5 1306.5L228.5 1295.5M217.5 1312.5L228.5 1301.5M217.5 1318.5L228.5 1307.5M219.2 1322.8L228.5 1313.5M225.2 1322.8L228.5 1319.5M217.5 1321.5L218.8 1322.8M217.5 1315.5L224.8 1322.8M217.5 1309.5L228.5 1320.5M217.5 1303.5L228.5 1314.5M217.5 1297.5L228.5 1308.5M217.5 1291.5L228.5 1302.5M217.5 1285.5L228.5 1296.5M217.5 1279.5L228.5 1290.5M217.5 1273.5L228.5 1284.5M217.5 1267.5L228.5 1278.5M217.5 1261.5L228.5 1272.5M217.5 1255.5L228.5 1266.5M217.5 1249.5L228.5 1260.5M217.5 1243.5L228.5 1254.5M217.5 1237.5L228.5 1248.5M217.5 1231.5L228.5 1242.5M217.5 1225.5L228.5 1236.5M217.5 1219.5L228.5 1230.5M217.5 1213.5L228.5 1224.5M217.5 1207.5L228.5 1218.5M217.5 1201.5L228.5 1212.5M217.5 1195.5L228.5 1206.5M217.5 1189.5L228.5 1200.5M217.5 1183.5L228.5 1194.5M217.5 1177.5L228.5 1188.5M217.5 1171.5L228.5 1182.5M217.5 1165.5L228.5 1176.5M217.5 1159.5L228.5 1170.5M217.5 1153.5L228.5 1164.5M217.5 1147.5L228.5 1158.5M217.5 1141.5L228.5 1152.5M217.5 1135.5L228.5 1146.5M217.5 1129.5L228.5 1140.5M217.5 1123.5L228.5 1134.5M217.5 1117.5L228.5 1128.5M217.5 1111.5L228.5 1122.5M217.5 1105.5L228.5 1116.5M217.5 1099.5L228.5 1110.5M217.5 1093.5L228.5 1104.5M217.5 1087.5L228.5 1098.5M217.5 1081.5L228.5 1092.5M217.5 1075.5L228.5 1086.5M217.5 1069.5L228.5 1080.5M217.5 1063.5L228.5 1074.5M217.5 1057.5L228.5 1068.5M217.5 1051.5L228.5 1062.5M217.5 1045.5L228.5 1056.5M217.5 1039.5L228.5 1050.5M217.5 1033.5L228.5 1044.5M217.5 1027.5L228.5 1038.5M217.5 1021.5L228.5 1032.5M217.5 1015.5L228.5 1026.5M217.5 1009.5L228.5 1020.5M217.5 1003.5L228.5 1014.5M217.5 997.5L228.5 1008.5M217.5 991.5L228.5 1002.5M217.5 985.5L228.5 996.5M217.5 979.5L228.5 990.5M217.5 973.5L228.5 984.5M217.5 967.5L228.5 978.5M217.5 961.5L228.5 972.5M217.5 955.5L228.5 966.5M217.5 949.5L228.5 960.5M217.5 943.5L228.5 954.5M217.5 937.5L228.5 948.5M217.5 931.5L228.5 942.5M217.5 925.5L228.5 936.5M217.5 919.5L228.5 930.5M217.5 913.5L228.5 924.5M217.5 907.5L228.5 918.5M217.5 901.5L228.5 912.5M217.5 895.5L228.5 906.5M217.5 889.5L228.5 900.5M217.5 883.5L228.5 894.5M217.5 877.5L228.5 888.5M217.5 871.5L228.5 882.5M217.5 865.5L228.5 876.5M217.5 859.5L228.5 870.5M217.5 853.5L228.5 864.5M217.5 847.5L228.5 858.5M217.5 841.5L228.5 852.5M217.5 835.5L228.5 846.5M217.5 829.5L228.5 840.5M217.5 823.5L228.5 834.5M219.7 819.7L228.5 828.5M225.7 819.7L228.5 822.5M255.9 956.1L260.7 951.3M255.9 962.1L266.7 951.3M255.9 968.1L266.9 957.1M255.9 974.1L266.9 963.1M255.9 980.1L266.9 969.1M255.9 986.1L266.9 975.1M255.9 992.1L266.9 981.1M255.9 998.1L266.9 987.1M255.9 1004.1L266.9 993.1M255.9 1010.1L266.9 999.1M255.9 1016.1L266.9 1005.1M255.9 1022.1L266.9 1011.1M255.9 1028.1L266.9 1017.1M255.9 1034.1L266.9 1023.1M255.9 1040.1L266.9 1029.1M255.9 1046.1L266.9 1035.1M255.9 1052.1L266.9 1041.1M255.9 1058.1L266.9 1047.1M255.9 1064.1L266.9 1053.1M255.9 1070.1L266.9 1059.1M255.9 1076.1L266.9 1065.1M255.9 1082.1L266.9 1071.1M255.9 1088.1L266.9 1077.1M255.9 1094.1L266.9 1083.1M255.9 1100.1L266.9 1089.1M255.9 1106.1L266.9 1095.1M255.9 1112.1L266.9 1101.1M255.9 1118.1L266.9 1107.1M255.9 1124.1L266.9 1113.1M255.9 1130.1L266.9 1119.1M255.9 1136.1L266.9 1125.1M255.9 1142.1L266.9 1131.1M255.9 1148.1L266.9 1137.1M255.9 1154.1L266.9 1143.1M255.9 1160.1L266.9 1149.1M255.9 1166.1L266.9 1155.1M255.9 1172.1L266.9 1161.1M255.9 1178.1L266.9 1167.1M255.9 1184.1L266.9 1173.1M255.9 1190.1L266.9 1179.1M255.9 1196.1L266.9 1185.1M255.9 1202.1L266.9 1191.1M255.9 1208.1L266.9 1197.1M255.9 1214.1L266.9 1203.1M255.9 1220.1L266.9 1209.1M255.9 1226.1L266.9 1215.1M255.9 1232.1L266.9 1221.1M255.9 1238.1L266.9 1227.1M255.9 1244.1L266.9 1233.1M255.9 1250.1L266.9 1239.1M255.9 1256.1L266.9 1245.1M255.9 1262.1L266.9 1251.1M255.9 1268.1L266.9 1257.1M255.9 1274.1L266.9 1263.1M255.9 1280.1L266.9 1269.1M255.9 1286.1L266.9 1275.1M255.9 1292.1L266.9 1281.1M255.9 1298.1L266.9 1287.1M255.9 1304.1L266.9 1293.1M255.9 1310.1L266.9 1299.1M255.9 1316.1L266.9 1305.1M255.9 1322.1L266.9 1311.1M261.2 1322.8L266.9 1317.1M255.9 1317.9L260.8 1322.8M255.9 1311.9L266.8 1322.8M255.9 1305.9L266.9 1316.9M255.9 1299.9L266.9 1310.9M255.9 1293.9L266.9 1304.9M255.9 1287.9L266.9 1298.9M255.9 1281.9L266.9 1292.9M255.9 1275.9L266.9 1286.9M255.9 1269.9L266.9 1280.9M255.9 1263.9L266.9 1274.9M255.9 1257.9L266.9 1268.9M255.9 1251.9L266.9 1262.9M255.9 1245.9L266.9 1256.9M255.9 1239.9L266.9 1250.9M255.9 1233.9L266.9 1244.9M255.9 1227.9L266.9 1238.9M255.9 1221.9L266.9 1232.9M255.9 1215.9L266.9 1226.9M255.9 1209.9L266.9 1220.9M255.9 1203.9L266.9 1214.9M255.9 1197.9L266.9 1208.9M255.9 1191.9L266.9 1202.9M255.9 1185.9L266.9 1196.9M255.9 1179.9L266.9 1190.9M255.9 1173.9L266.9 1184.9M255.9 1167.9L266.9 1178.9M255.9 1161.9L266.9 1172.9M255.9 1155.9L266.9 1166.9M255.9 1149.9L266.9 1160.9M255.9 1143.9L266.9 1154.9M255.9 1137.9L266.9 1148.9M255.9 1131.9L266.9 1142.9M255.9 1125.9L266.9 1136.9M255.9 1119.9L266.9 1130.9M255.9 1113.9L266.9 1124.9M255.9 1107.9L266.9 1118.9M255.9 1101.9L266.9 1112.9M255.9 1095.9L266.9 1106.9M255.9 1089.9L266.9 1100.9M255.9 1083.9L266.9 1094.9M255.9 1077.9L266.9 1088.9M255.9 1071.9L266.9 1082.9M255.9 1065.9L266.9 1076.9M255.9 1059.9L266.9 1070.9M255.9 1053.9L266.9 1064.9M255.9 1047.9L266.9 1058.9M255.9 1041.9L266.9 1052.9M255.9 1035.9L266.9 1046.9M255.9 1029.9L266.9 1040.9M255.9 1023.9L266.9 1034.9M255.9 1017.9L266.9 1028.9M255.9 1011.9L266.9 1022.9M255.9 1005.9L266.9 1016.9M255.9 999.9L266.9 1010.9M255.9 993.9L266.9 1004.9M255.9 987.9L266.9 998.9M255.9 981.9L266.9 992.9M255.9 975.9L266.9 986.9M255.9 969.9L266.9 980.9M255.9 963.9L266.9 974.9M255.9 957.9L266.9 968.9M255.9 951.9L266.9 962.9M261.3 951.3L266.9 956.9M294.3 1049.7L296.3 1047.7M294.3 1055.7L302.3 1047.7M294.3 1061.7L305.3 1050.7M294.3 1067.7L305.3 1056.7M294.3 1073.7L305.3 1062.7M294.3 1079.7L305.3 1068.7M294.3 1085.7L305.3 1074.7M294.3 1091.7L305.3 1080.7M294.3 1097.7L305.3 1086.7M294.3 1103.7L305.3 1092.7M294.3 1109.7L305.3 1098.7M294.3 1115.7L305.3 1104.7M294.3 1121.7L305.3 1110.7M294.3 1127.7L305.3 1116.7M294.3 1133.7L305.3 1122.7M294.3 1139.7L305.3 1128.7M294.3 1145.7L305.3 1134.7M294.3 1151.7L305.3 1140.7M294.3 1157.7L305.3 1146.7M294.3 1163.7L305.3 1152.7M294.3 1169.7L305.3 1158.7M294.3 1175.7L305.3 1164.7M294.3 1181.7L305.3 1170.7M294.3 1187.7L305.3 1176.7M294.3 1193.7L305.3 1182.7M294.3 1199.7L305.3 1188.7M294.3 1205.7L305.3 1194.7M294.3 1211.7L305.3 1200.7M294.3 1217.7L305.3 1206.7M294.3 1223.7L305.3 1212.7M294.3 1229.7L305.3 1218.7M294.3 1235.7L305.3 1224.7M294.3 1241.7L305.3 1230.7M294.3 1247.7L305.3 1236.7M294.3 1253.7L305.3 1242.7M294.3 1259.7L305.3 1248.7M294.3 1265.7L305.3 1254.7M294.3 1271.7L305.3 1260.7M294.3 1277.7L305.3 1266.7M294.3 1283.7L305.3 1272.7M294.3 1289.7L305.3 1278.7M294.3 1295.7L305.3 1284.7M294.3 1301.7L305.3 1290.7M294.3 1307.7L305.3 1296.7M294.3 1313.7L305.3 1302.7M294.3 1319.7L305.3 1308.7M297.2 1322.8L305.3 1314.7M303.2 1322.8L305.3 1320.7M294.3 1320.3L296.8 1322.8M294.3 1314.3L302.8 1322.8M294.3 1308.3L305.3 1319.3M294.3 1302.3L305.3 1313.3M294.3 1296.3L305.3 1307.3M294.3 1290.3L305.3 1301.3M294.3 1284.3L305.3 1295.3M294.3 1278.3L305.3 1289.3M294.3 1272.3L305.3 1283.3M294.3 1266.3L305.3 1277.3M294.3 1260.3L305.3 1271.3M294.3 1254.3L305.3 1265.3M294.3 1248.3L305.3 1259.3M294.3 1242.3L305.3 1253.3M294.3 1236.3L305.3 1247.3M294.3 1230.3L305.3 1241.3M294.3 1224.3L305.3 1235.3M294.3 1218.3L305.3 1229.3M294.3 1212.3L305.3 1223.3M294.3 1206.3L305.3 1217.3M294.3 1200.3L305.3 1211.3M294.3 1194.3L305.3 1205.3M294.3 1188.3L305.3 1199.3M294.3 1182.3L305.3 1193.3M294.3 1176.3L305.3 1187.3M294.3 1170.3L305.3 1181.3M294.3 1164.3L305.3 1175.3M294.3 1158.3L305.3 1169.3M294.3 1152.3L305.3 1163.3M294.3 1146.3L305.3 1157.3M294.3 1140.3L305.3 1151.3M294.3 1134.3L305.3 1145.3M294.3 1128.3L305.3 1139.3M294.3 1122.3L305.3 1133.3M294.3 1116.3L305.3 1127.3M294.3 1110.3L305.3 1121.3M294.3 1104.3L305.3 1115.3M294.3 1098.3L305.3 1109.3M294.3 1092.3L305.3 1103.3M294.3 1086.3L305.3 1097.3M294.3 1080.3L305.3 1091.3M294.3 1074.3L305.3 1085.3M294.3 1068.3L305.3 1079.3M294.3 1062.3L305.3 1073.3M294.3 1056.3L305.3 1067.3M294.3 1050.3L305.3 1061.3M297.7 1047.7L305.3 1055.3M303.7 1047.7L305.3 1049.3M332.7 1071.3L336.9 1067.1M332.7 1077.3L342.9 1067.1M332.7 1083.3L343.7 1072.3M332.7 1089.3L343.7 1078.3M332.7 1095.3L343.7 1084.3M332.7 1101.3L343.7 1090.3M332.7 1107.3L343.7 1096.3M332.7 1113.3L343.7 1102.3M332.7 1119.3L343.7 1108.3M332.7 1125.3L343.7 1114.3M332.7 1131.3L343.7 1120.3M332.7 1137.3L343.7 1126.3M332.7 1143.3L343.7 1132.3M332.7 1149.3L343.7 1138.3M332.7 1155.3L343.7 1144.3M332.7 1161.3L343.7 1150.3M332.7 1167.3L343.7 1156.3M332.7 1173.3L343.7 1162.3M332.7 1179.3L343.7 1168.3M332.7 1185.3L343.7 1174.3M332.7 1191.3L343.7 1180.3M332.7 1197.3L343.7 1186.3M332.7 1203.3L343.7 1192.3M332.7 1209.3L343.7 1198.3M332.7 1215.3L343.7 1204.3M332.7 1221.3L343.7 1210.3M332.7 1227.3L343.7 1216.3M332.7 1233.3L343.7 1222.3M332.7 1239.3L343.7 1228.3M332.7 1245.3L343.7 1234.3M332.7 1251.3L343.7 1240.3M332.7 1257.3L343.7 1246.3M332.7 1263.3L343.7 1252.3M332.7 1269.3L343.7 1258.3M332.7 1275.3L343.7 1264.3M332.7 1281.3L343.7 1270.3M332.7 1287.3L343.7 1276.3M332.7 1293.3L343.7 1282.3M332.7 1299.3L343.7 1288.3M332.7 1305.3L343.7 1294.3M332.7 1311.3L343.7 1300.3M332.7 1317.3L343.7 1306.3M333.2 1322.8L343.7 1312.3M339.2 1322.8L343.7 1318.3M332.7 1322.7L332.8 1322.8M332.7 1316.7L338.8 1322.8M332.7 1310.7L343.7 1321.7M332.7 1304.7L343.7 1315.7M332.7 1298.7L343.7 1309.7M332.7 1292.7L343.7 1303.7M332.7 1286.7L343.7 1297.7M332.7 1280.7L343.7 1291.7M332.7 1274.7L343.7 1285.7M332.7 1268.7L343.7 1279.7M332.7 1262.7L343.7 1273.7M332.7 1256.7L343.7 1267.7M332.7 1250.7L343.7 1261.7M332.7 1244.7L343.7 1255.7M332.7 1238.7L343.7 1249.7M332.7 1232.7L343.7 1243.7M332.7 1226.7L343.7 1237.7M332.7 1220.7L343.7 1231.7M332.7 1214.7L343.7 1225.7M332.7 1208.7L343.7 1219.7M332.7 1202.7L343.7 1213.7M332.7 1196.7L343.7 1207.7M332.7 1190.7L343.7 1201.7M332.7 1184.7L343.7 1195.7M332.7 1178.7L343.7 1189.7M332.7 1172.7L343.7 1183.7M332.7 1166.7L343.7 1177.7M332.7 1160.7L343.7 1171.7M332.7 1154.7L343.7 1165.7M332.7 1148.7L343.7 1159.7M332.7 1142.7L343.7 1153.7M332.7 1136.7L343.7 1147.7M332.7 1130.7L343.7 1141.7M332.7 1124.7L343.7 1135.7M332.7 1118.7L343.7 1129.7M332.7 1112.7L343.7 1123.7M332.7 1106.7L343.7 1117.7M332.7 1100.7L343.7 1111.7M332.7 1094.7L343.7 1105.7M332.7 1088.7L343.7 1099.7M332.7 1082.7L343.7 1093.7M332.7 1076.7L343.7 1087.7M332.7 1070.7L343.7 1081.7M335.1 1067.1L343.7 1075.7M341.1 1067.1L343.7 1069.7M371.1 1194.9L374.2 1191.8M371.1 1200.9L380.2 1191.8M371.1 1206.9L382.1 1195.9M371.1 1212.9L382.1 1201.9M371.1 1218.9L382.1 1207.9M371.1 1224.9L382.1 1213.9M371.1 1230.9L382.1 1219.9M371.1 1236.9L382.1 1225.9M371.1 1242.9L382.1 1231.9M371.1 1248.9L382.1 1237.9M371.1 1254.9L382.1 1243.9M371.1 1260.9L382.1 1249.9M371.1 1266.9L382.1 1255.9M371.1 1272.9L382.1 1261.9M371.1 1278.9L382.1 1267.9M371.1 1284.9L382.1 1273.9M371.1 1290.9L382.1 1279.9M371.1 1296.9L382.1 1285.9M371.1 1302.9L382.1 1291.9M371.1 1308.9L382.1 1297.9M371.1 1314.9L382.1 1303.9M371.1 1320.9L382.1 1309.9M375.2 1322.8L382.1 1315.9M381.2 1322.8L382.1 1321.9M371.1 1319.1L374.8 1322.8M371.1 1313.1L380.8 1322.8M371.1 1307.1L382.1 1318.1M371.1 1301.1L382.1 1312.1M371.1 1295.1L382.1 1306.1M371.1 1289.1L382.1 1300.1M371.1 1283.1L382.1 1294.1M371.1 1277.1L382.1 1288.1M371.1 1271.1L382.1 1282.1M371.1 1265.1L382.1 1276.1M371.1 1259.1L382.1 1270.1M371.1 1253.1L382.1 1264.1M371.1 1247.1L382.1 1258.1M371.1 1241.1L382.1 1252.1M371.1 1235.1L382.1 1246.1M371.1 1229.1L382.1 1240.1M371.1 1223.1L382.1 1234.1M371.1 1217.1L382.1 1228.1M371.1 1211.1L382.1 1222.1M371.1 1205.1L382.1 1216.1M371.1 1199.1L382.1 1210.1M371.1 1193.1L382.1 1204.1M375.8 1191.8L382.1 1198.1M381.8 1191.8L382.1 1192.1M409.5 1264.5L410.5 1263.5M409.5 1270.5L416.5 1263.5M409.5 1276.5L420.5 1265.5M409.5 1282.5L420.5 1271.5M409.5 1288.5L420.5 1277.5M409.5 1294.5L420.5 1283.5M409.5 1300.5L420.5 1289.5M409.5 1306.5L420.5 1295.5M409.5 1312.5L420.5 1301.5M409.5 1318.5L420.5 1307.5M411.2 1322.8L420.5 1313.5M417.2 1322.8L420.5 1319.5M409.5 1321.5L410.8 1322.8M409.5 1315.5L416.8 1322.8M409.5 1309.5L420.5 1320.5M409.5 1303.5L420.5 1314.5M409.5 1297.5L420.5 1308.5M409.5 1291.5L420.5 1302.5M409.5 1285.5L420.5 1296.5M409.5 1279.5L420.5 1290.5M409.5 1273.5L420.5 1284.5M409.5 1267.5L420.5 1278.5M411.5 1263.5L420.5 1272.5M417.5 1263.5L420.5 1266.5M447.9 1298.1L449.4 1296.6M447.9 1304.1L455.4 1296.6M447.9 1310.1L458.9 1299.1M447.9 1316.1L458.9 1305.1M447.9 1322.1L458.9 1311.1M453.2 1322.8L458.9 1317.1M447.9 1317.9L452.8 1322.8M447.9 1311.9L458.8 1322.8M447.9 1305.9L458.9 1316.9M447.9 1299.9L458.9 1310.9M450.6 1296.6L458.9 1304.9M456.6 1296.6L458.9 1298.9M486.3 1049.7L490.5 1045.5M486.3 1055.7L496.5 1045.5M486.3 1061.7L497.3 1050.7M486.3 1067.7L497.3 1056.7M486.3 1073.7L497.3 1062.7M486.3 1079.7L497.3 1068.7M486.3 1085.7L497.3 1074.7M486.3 1091.7L497.3 1080.7M486.3 1097.7L497.3 1086.7M486.3 1103.7L497.3 1092.7M486.3 1109.7L497.3 1098.7M486.3 1115.7L497.3 1104.7M486.3 1121.7L497.3 1110.7M486.3 1127.7L497.3 1116.7M486.3 1133.7L497.3 1122.7M486.3 1139.7L497.3 1128.7M486.3 1145.7L497.3 1134.7M486.3 1151.7L497.3 1140.7M486.3 1157.7L497.3 1146.7M486.3 1163.7L497.3 1152.7M486.3 1169.7L497.3 1158.7M486.3 1175.7L497.3 1164.7M486.3 1181.7L497.3 1170.7M486.3 1187.7L497.3 1176.7M486.3 1193.7L497.3 1182.7M486.3 1199.7L497.3 1188.7M486.3 1205.7L497.3 1194.7M486.3 1211.7L497.3 1200.7M486.3 1217.7L497.3 1206.7M486.3 1223.7L497.3 1212.7M486.3 1229.7L497.3 1218.7M486.3 1235.7L497.3 1224.7M486.3 1241.7L497.3 1230.7M486.3 1247.7L497.3 1236.7M486.3 1253.7L497.3 1242.7M486.3 1259.7L497.3 1248.7M486.3 1265.7L497.3 1254.7M486.3 1271.7L497.3 1260.7M486.3 1277.7L497.3 1266.7M486.3 1283.7L497.3 1272.7M486.3 1289.7L497.3 1278.7M486.3 1295.7L497.3 1284.7M486.3 1301.7L497.3 1290.7M486.3 1307.7L497.3 1296.7M486.3 1313.7L497.3 1302.7M486.3 1319.7L497.3 1308.7M489.2 1322.8L497.3 1314.7M495.2 1322.8L497.3 1320.7M486.3 1320.3L488.8 1322.8M486.3 1314.3L494.8 1322.8M486.3 1308.3L497.3 1319.3M486.3 1302.3L497.3 1313.3M486.3 1296.3L497.3 1307.3M486.3 1290.3L497.3 1301.3M486.3 1284.3L497.3 1295.3M486.3 1278.3L497.3 1289.3M486.3 1272.3L497.3 1283.3M486.3 1266.3L497.3 1277.3M486.3 1260.3L497.3 1271.3M486.3 1254.3L497.3 1265.3M486.3 1248.3L497.3 1259.3M486.3 1242.3L497.3 1253.3M486.3 1236.3L497.3 1247.3M486.3 1230.3L497.3 1241.3M486.3 1224.3L497.3 1235.3M486.3 1218.3L497.3 1229.3M486.3 1212.3L497.3 1223.3M486.3 1206.3L497.3 1217.3M486.3 1200.3L497.3 1211.3M486.3 1194.3L497.3 1205.3M486.3 1188.3L497.3 1199.3M486.3 1182.3L497.3 1193.3M486.3 1176.3L497.3 1187.3M486.3 1170.3L497.3 1181.3M486.3 1164.3L497.3 1175.3M486.3 1158.3L497.3 1169.3M486.3 1152.3L497.3 1163.3M486.3 1146.3L497.3 1157.3M486.3 1140.3L497.3 1151.3M486.3 1134.3L497.3 1145.3M486.3 1128.3L497.3 1139.3M486.3 1122.3L497.3 1133.3M486.3 1116.3L497.3 1127.3M486.3 1110.3L497.3 1121.3M486.3 1104.3L497.3 1115.3M486.3 1098.3L497.3 1109.3M486.3 1092.3L497.3 1103.3M486.3 1086.3L497.3 1097.3M486.3 1080.3L497.3 1091.3M486.3 1074.3L497.3 1085.3M486.3 1068.3L497.3 1079.3M486.3 1062.3L497.3 1073.3M486.3 1056.3L497.3 1067.3M486.3 1050.3L497.3 1061.3M487.5 1045.5L497.3 1055.3M493.5 1045.5L497.3 1049.3M524.7 891.3L530 886M524.7 897.3L535.7 886.3M524.7 903.3L535.7 892.3M524.7 909.3L535.7 898.3M524.7 915.3L535.7 904.3M524.7 921.3L535.7 910.3M524.7 927.3L535.7 916.3M524.7 933.3L535.7 922.3M524.7 939.3L535.7 928.3M524.7 945.3L535.7 934.3M524.7 951.3L535.7 940.3M524.7 957.3L535.7 946.3M524.7 963.3L535.7 952.3M524.7 969.3L535.7 958.3M524.7 975.3L535.7 964.3M524.7 981.3L535.7 970.3M524.7 987.3L535.7 976.3M524.7 993.3L535.7 982.3M524.7 999.3L535.7 988.3M524.7 1005.3L535.7 994.3M524.7 1011.3L535.7 1000.3M524.7 1017.3L535.7 1006.3M524.7 1023.3L535.7 1012.3M524.7 1029.3L535.7 1018.3M524.7 1035.3L535.7 1024.3M524.7 1041.3L535.7 1030.3M524.7 1047.3L535.7 1036.3M524.7 1053.3L535.7 1042.3M524.7 1059.3L535.7 1048.3M524.7 1065.3L535.7 1054.3M524.7 1071.3L535.7 1060.3M524.7 1077.3L535.7 1066.3M524.7 1083.3L535.7 1072.3M524.7 1089.3L535.7 1078.3M524.7 1095.3L535.7 1084.3M524.7 1101.3L535.7 1090.3M524.7 1107.3L535.7 1096.3M524.7 1113.3L535.7 1102.3M524.7 1119.3L535.7 1108.3M524.7 1125.3L535.7 1114.3M524.7 1131.3L535.7 1120.3M524.7 1137.3L535.7 1126.3M524.7 1143.3L535.7 1132.3M524.7 1149.3L535.7 1138.3M524.7 1155.3L535.7 1144.3M524.7 1161.3L535.7 1150.3M524.7 1167.3L535.7 1156.3M524.7 1173.3L535.7 1162.3M524.7 1179.3L535.7 1168.3M524.7 1185.3L535.7 1174.3M524.7 1191.3L535.7 1180.3M524.7 1197.3L535.7 1186.3M524.7 1203.3L535.7 1192.3M524.7 1209.3L535.7 1198.3M524.7 1215.3L535.7 1204.3M524.7 1221.3L535.7 1210.3M524.7 1227.3L535.7 1216.3M524.7 1233.3L535.7 1222.3M524.7 1239.3L535.7 1228.3M524.7 1245.3L535.7 1234.3M524.7 1251.3L535.7 1240.3M524.7 1257.3L535.7 1246.3M524.7 1263.3L535.7 1252.3M524.7 1269.3L535.7 1258.3M524.7 1275.3L535.7 1264.3M524.7 1281.3L535.7 1270.3M524.7 1287.3L535.7 1276.3M524.7 1293.3L535.7 1282.3M524.7 1299.3L535.7 1288.3M524.7 1305.3L535.7 1294.3M524.7 1311.3L535.7 1300.3M524.7 1317.3L535.7 1306.3M525.2 1322.8L535.7 1312.3M531.2 1322.8L535.7 1318.3M524.7 1322.7L524.8 1322.8M524.7 1316.7L530.8 1322.8M524.7 1310.7L535.7 1321.7M524.7 1304.7L535.7 1315.7M524.7 1298.7L535.7 1309.7M524.7 1292.7L535.7 1303.7M524.7 1286.7L535.7 1297.7M524.7 1280.7L535.7 1291.7M524.7 1274.7L535.7 1285.7M524.7 1268.7L535.7 1279.7M524.7 1262.7L535.7 1273.7M524.7 1256.7L535.7 1267.7M524.7 1250.7L535.7 1261.7M524.7 1244.7L535.7 1255.7M524.7 1238.7L535.7 1249.7M524.7 1232.7L535.7 1243.7M524.7 1226.7L535.7 1237.7M524.7 1220.7L535.7 1231.7M524.7 1214.7L535.7 1225.7M524.7 1208.7L535.7 1219.7M524.7 1202.7L535.7 1213.7M524.7 1196.7L535.7 1207.7M524.7 1190.7L535.7 1201.7M524.7 1184.7L535.7 1195.7M524.7 1178.7L535.7 1189.7M524.7 1172.7L535.7 1183.7M524.7 1166.7L535.7 1177.7M524.7 1160.7L535.7 1171.7M524.7 1154.7L535.7 1165.7M524.7 1148.7L535.7 1159.7M524.7 1142.7L535.7 1153.7M524.7 1136.7L535.7 1147.7M524.7 1130.7L535.7 1141.7M524.7 1124.7L535.7 1135.7M524.7 1118.7L535.7 1129.7M524.7 1112.7L535.7 1123.7M524.7 1106.7L535.7 1117.7M524.7 1100.7L535.7 1111.7M524.7 1094.7L535.7 1105.7M524.7 1088.7L535.7 1099.7M524.7 1082.7L535.7 1093.7M524.7 1076.7L535.7 1087.7M524.7 1070.7L535.7 1081.7M524.7 1064.7L535.7 1075.7M524.7 1058.7L535.7 1069.7M524.7 1052.7L535.7 1063.7M524.7 1046.7L535.7 1057.7M524.7 1040.7L535.7 1051.7M524.7 1034.7L535.7 1045.7M524.7 1028.7L535.7 1039.7M524.7 1022.7L535.7 1033.7M524.7 1016.7L535.7 1027.7M524.7 1010.7L535.7 1021.7M524.7 1004.7L535.7 1015.7M524.7 998.7L535.7 1009.7M524.7 992.7L535.7 1003.7M524.7 986.7L535.7 997.7M524.7 980.7L535.7 991.7M524.7 974.7L535.7 985.7M524.7 968.7L535.7 979.7M524.7 962.7L535.7 973.7M524.7 956.7L535.7 967.7M524.7 950.7L535.7 961.7M524.7 944.7L535.7 955.7M524.7 938.7L535.7 949.7M524.7 932.7L535.7 943.7M524.7 926.7L535.7 937.7M524.7 920.7L535.7 931.7M524.7 914.7L535.7 925.7M524.7 908.7L535.7 919.7M524.7 902.7L535.7 913.7M524.7 896.7L535.7 907.7M524.7 890.7L535.7 901.7M526 886L535.7 895.7M532 886L535.7 889.7M563.1 780.9L566.9 777.1M563.1 786.9L572.9 777.1M563.1 792.9L574.1 781.9M563.1 798.9L574.1 787.9M563.1 804.9L574.1 793.9M563.1 810.9L574.1 799.9M563.1 816.9L574.1 805.9M563.1 822.9L574.1 811.9M563.1 828.9L574.1 817.9M563.1 834.9L574.1 823.9M563.1 840.9L574.1 829.9M563.1 846.9L574.1 835.9M563.1 852.9L574.1 841.9M563.1 858.9L574.1 847.9M563.1 864.9L574.1 853.9M563.1 870.9L574.1 859.9M563.1 876.9L574.1 865.9M563.1 882.9L574.1 871.9M563.1 888.9L574.1 877.9M563.1 894.9L574.1 883.9M563.1 900.9L574.1 889.9M563.1 906.9L574.1 895.9M563.1 912.9L574.1 901.9M563.1 918.9L574.1 907.9M563.1 924.9L574.1 913.9M563.1 930.9L574.1 919.9M563.1 936.9L574.1 925.9M563.1 942.9L574.1 931.9M563.1 948.9L574.1 937.9M563.1 954.9L574.1 943.9M563.1 960.9L574.1 949.9M563.1 966.9L574.1 955.9M563.1 972.9L574.1 961.9M563.1 978.9L574.1 967.9M563.1 984.9L574.1 973.9M563.1 990.9L574.1 979.9M563.1 996.9L574.1 985.9M563.1 1002.9L574.1 991.9M563.1 1008.9L574.1 997.9M563.1 1014.9L574.1 1003.9M563.1 1020.9L574.1 1009.9M563.1 1026.9L574.1 1015.9M563.1 1032.9L574.1 1021.9M563.1 1038.9L574.1 1027.9M563.1 1044.9L574.1 1033.9M563.1 1050.9L574.1 1039.9M563.1 1056.9L574.1 1045.9M563.1 1062.9L574.1 1051.9M563.1 1068.9L574.1 1057.9M563.1 1074.9L574.1 1063.9M563.1 1080.9L574.1 1069.9M563.1 1086.9L574.1 1075.9M563.1 1092.9L574.1 1081.9M563.1 1098.9L574.1 1087.9M563.1 1104.9L574.1 1093.9M563.1 1110.9L574.1 1099.9M563.1 1116.9L574.1 1105.9M563.1 1122.9L574.1 1111.9M563.1 1128.9L574.1 1117.9M563.1 1134.9L574.1 1123.9M563.1 1140.9L574.1 1129.9M563.1 1146.9L574.1 1135.9M563.1 1152.9L574.1 1141.9M563.1 1158.9L574.1 1147.9M563.1 1164.9L574.1 1153.9M563.1 1170.9L574.1 1159.9M563.1 1176.9L574.1 1165.9M563.1 1182.9L574.1 1171.9M563.1 1188.9L574.1 1177.9M563.1 1194.9L574.1 1183.9M563.1 1200.9L574.1 1189.9M563.1 1206.9L574.1 1195.9M563.1 1212.9L574.1 1201.9M563.1 1218.9L574.1 1207.9M563.1 1224.9L574.1 1213.9M563.1 1230.9L574.1 1219.9M563.1 1236.9L574.1 1225.9M563.1 1242.9L574.1 1231.9M563.1 1248.9L574.1 1237.9M563.1 1254.9L574.1 1243.9M563.1 1260.9L574.1 1249.9M563.1 1266.9L574.1 1255.9M563.1 1272.9L574.1 1261.9M563.1 1278.9L574.1 1267.9M563.1 1284.9L574.1 1273.9M563.1 1290.9L574.1 1279.9M563.1 1296.9L574.1 1285.9M563.1 1302.9L574.1 1291.9M563.1 1308.9L574.1 1297.9M563.1 1314.9L574.1 1303.9M563.1 1320.9L574.1 1309.9M567.2 1322.8L574.1 1315.9M573.2 1322.8L574.1 1321.9M563.1 1319.1L566.8 1322.8M563.1 1313.1L572.8 1322.8M563.1 1307.1L574.1 1318.1M563.1 1301.1L574.1 1312.1M563.1 1295.1L574.1 1306.1M563.1 1289.1L574.1 1300.1M563.1 1283.1L574.1 1294.1M563.1 1277.1L574.1 1288.1M563.1 1271.1L574.1 1282.1M563.1 1265.1L574.1 1276.1M563.1 1259.1L574.1 1270.1M563.1 1253.1L574.1 1264.1M563.1 1247.1L574.1 1258.1M563.1 1241.1L574.1 1252.1M563.1 1235.1L574.1 1246.1M563.1 1229.1L574.1 1240.1M563.1 1223.1L574.1 1234.1M563.1 1217.1L574.1 1228.1M563.1 1211.1L574.1 1222.1M563.1 1205.1L574.1 1216.1M563.1 1199.1L574.1 1210.1M563.1 1193.1L574.1 1204.1M563.1 1187.1L574.1 1198.1M563.1 1181.1L574.1 1192.1M563.1 1175.1L574.1 1186.1M563.1 1169.1L574.1 1180.1M563.1 1163.1L574.1 1174.1M563.1 1157.1L574.1 1168.1M563.1 1151.1L574.1 1162.1M563.1 1145.1L574.1 1156.1M563.1 1139.1L574.1 1150.1M563.1 1133.1L574.1 1144.1M563.1 1127.1L574.1 1138.1M563.1 1121.1L574.1 1132.1M563.1 1115.1L574.1 1126.1M563.1 1109.1L574.1 1120.1M563.1 1103.1L574.1 1114.1M563.1 1097.1L574.1 1108.1M563.1 1091.1L574.1 1102.1M563.1 1085.1L574.1 1096.1M563.1 1079.1L574.1 1090.1M563.1 1073.1L574.1 1084.1M563.1 1067.1L574.1 1078.1M563.1 1061.1L574.1 1072.1M563.1 1055.1L574.1 1066.1M563.1 1049.1L574.1 1060.1M563.1 1043.1L574.1 1054.1M563.1 1037.1L574.1 1048.1M563.1 1031.1L574.1 1042.1M563.1 1025.1L574.1 1036.1M563.1 1019.1L574.1 1030.1M563.1 1013.1L574.1 1024.1M563.1 1007.1L574.1 1018.1M563.1 1001.1L574.1 1012.1M563.1 995.1L574.1 1006.1M563.1 989.1L574.1 1000.1M563.1 983.1L574.1 994.1M563.1 977.1L574.1 988.1M563.1 971.1L574.1 982.1M563.1 965.1L574.1 976.1M563.1 959.1L574.1 970.1M563.1 953.1L574.1 964.1M563.1 947.1L574.1 958.1M563.1 941.1L574.1 952.1M563.1 935.1L574.1 946.1M563.1 929.1L574.1 940.1M563.1 923.1L574.1 934.1M563.1 917.1L574.1 928.1M563.1 911.1L574.1 922.1M563.1 905.1L574.1 916.1M563.1 899.1L574.1 910.1M563.1 893.1L574.1 904.1M563.1 887.1L574.1 898.1M563.1 881.1L574.1 892.1M563.1 875.1L574.1 886.1M563.1 869.1L574.1 880.1M563.1 863.1L574.1 874.1M563.1 857.1L574.1 868.1M563.1 851.1L574.1 862.1M563.1 845.1L574.1 856.1M563.1 839.1L574.1 850.1M563.1 833.1L574.1 844.1M563.1 827.1L574.1 838.1M563.1 821.1L574.1 832.1M563.1 815.1L574.1 826.1M563.1 809.1L574.1 820.1M563.1 803.1L574.1 814.1M563.1 797.1L574.1 808.1M563.1 791.1L574.1 802.1M563.1 785.1L574.1 796.1M563.1 779.1L574.1 790.1M567.1 777.1L574.1 784.1M573.1 777.1L574.1 778.1M601.5 1042.5L605.1 1038.9M601.5 1048.5L611.1 1038.9M601.5 1054.5L612.5 1043.5M601.5 1060.5L612.5 1049.5M601.5 1066.5L612.5 1055.5M601.5 1072.5L612.5 1061.5M601.5 1078.5L612.5 1067.5M601.5 1084.5L612.5 1073.5M601.5 1090.5L612.5 1079.5M601.5 1096.5L612.5 1085.5M601.5 1102.5L612.5 1091.5M601.5 1108.5L612.5 1097.5M601.5 1114.5L612.5 1103.5M601.5 1120.5L612.5 1109.5M601.5 1126.5L612.5 1115.5M601.5 1132.5L612.5 1121.5M601.5 1138.5L612.5 1127.5M601.5 1144.5L612.5 1133.5M601.5 1150.5L612.5 1139.5M601.5 1156.5L612.5 1145.5M601.5 1162.5L612.5 1151.5M601.5 1168.5L612.5 1157.5M601.5 1174.5L612.5 1163.5M601.5 1180.5L612.5 1169.5M601.5 1186.5L612.5 1175.5M601.5 1192.5L612.5 1181.5M601.5 1198.5L612.5 1187.5M601.5 1204.5L612.5 1193.5M601.5 1210.5L612.5 1199.5M601.5 1216.5L612.5 1205.5M601.5 1222.5L612.5 1211.5M601.5 1228.5L612.5 1217.5M601.5 1234.5L612.5 1223.5M601.5 1240.5L612.5 1229.5M601.5 1246.5L612.5 1235.5M601.5 1252.5L612.5 1241.5M601.5 1258.5L612.5 1247.5M601.5 1264.5L612.5 1253.5M601.5 1270.5L612.5 1259.5M601.5 1276.5L612.5 1265.5M601.5 1282.5L612.5 1271.5M601.5 1288.5L612.5 1277.5M601.5 1294.5L612.5 1283.5M601.5 1300.5L612.5 1289.5M601.5 1306.5L612.5 1295.5M601.5 1312.5L612.5 1301.5M601.5 1318.5L612.5 1307.5M603.2 1322.8L612.5 1313.5M609.2 1322.8L612.5 1319.5M601.5 1321.5L602.8 1322.8M601.5 1315.5L608.8 1322.8M601.5 1309.5L612.5 1320.5M601.5 1303.5L612.5 1314.5M601.5 1297.5L612.5 1308.5M601.5 1291.5L612.5 1302.5M601.5 1285.5L612.5 1296.5M601.5 1279.5L612.5 1290.5M601.5 1273.5L612.5 1284.5M601.5 1267.5L612.5 1278.5M601.5 1261.5L612.5 1272.5M601.5 1255.5L612.5 1266.5M601.5 1249.5L612.5 1260.5M601.5 1243.5L612.5 1254.5M601.5 1237.5L612.5 1248.5M601.5 1231.5L612.5 1242.5M601.5 1225.5L612.5 1236.5M601.5 1219.5L612.5 1230.5M601.5 1213.5L612.5 1224.5M601.5 1207.5L612.5 1218.5M601.5 1201.5L612.5 1212.5M601.5 1195.5L612.5 1206.5M601.5 1189.5L612.5 1200.5M601.5 1183.5L612.5 1194.5M601.5 1177.5L612.5 1188.5M601.5 1171.5L612.5 1182.5M601.5 1165.5L612.5 1176.5M601.5 1159.5L612.5 1170.5M601.5 1153.5L612.5 1164.5M601.5 1147.5L612.5 1158.5M601.5 1141.5L612.5 1152.5M601.5 1135.5L612.5 1146.5M601.5 1129.5L612.5 1140.5M601.5 1123.5L612.5 1134.5M601.5 1117.5L612.5 1128.5M601.5 1111.5L612.5 1122.5M601.5 1105.5L612.5 1116.5M601.5 1099.5L612.5 1110.5M601.5 1093.5L612.5 1104.5M601.5 1087.5L612.5 1098.5M601.5 1081.5L612.5 1092.5M601.5 1075.5L612.5 1086.5M601.5 1069.5L612.5 1080.5M601.5 1063.5L612.5 1074.5M601.5 1057.5L612.5 1068.5M601.5 1051.5L612.5 1062.5M601.5 1045.5L612.5 1056.5M601.5 1039.5L612.5 1050.5M606.9 1038.9L612.5 1044.5M639.9 1016.1L641.7 1014.3M639.9 1022.1L647.7 1014.3M639.9 1028.1L650.9 1017.1M639.9 1034.1L650.9 1023.1M639.9 1040.1L650.9 1029.1M639.9 1046.1L650.9 1035.1M639.9 1052.1L650.9 1041.1M639.9 1058.1L650.9 1047.1M639.9 1064.1L650.9 1053.1M639.9 1070.1L650.9 1059.1M639.9 1076.1L650.9 1065.1M639.9 1082.1L650.9 1071.1M639.9 1088.1L650.9 1077.1M639.9 1094.1L650.9 1083.1M639.9 1100.1L650.9 1089.1M639.9 1106.1L650.9 1095.1M639.9 1112.1L650.9 1101.1M639.9 1118.1L650.9 1107.1M639.9 1124.1L650.9 1113.1M639.9 1130.1L650.9 1119.1M639.9 1136.1L650.9 1125.1M639.9 1142.1L650.9 1131.1M639.9 1148.1L650.9 1137.1M639.9 1154.1L650.9 1143.1M639.9 1160.1L650.9 1149.1M639.9 1166.1L650.9 1155.1M639.9 1172.1L650.9 1161.1M639.9 1178.1L650.9 1167.1M639.9 1184.1L650.9 1173.1M639.9 1190.1L650.9 1179.1M639.9 1196.1L650.9 1185.1M639.9 1202.1L650.9 1191.1M639.9 1208.1L650.9 1197.1M639.9 1214.1L650.9 1203.1M639.9 1220.1L650.9 1209.1M639.9 1226.1L650.9 1215.1M639.9 1232.1L650.9 1221.1M639.9 1238.1L650.9 1227.1M639.9 1244.1L650.9 1233.1M639.9 1250.1L650.9 1239.1M639.9 1256.1L650.9 1245.1M639.9 1262.1L650.9 1251.1M639.9 1268.1L650.9 1257.1M639.9 1274.1L650.9 1263.1M639.9 1280.1L650.9 1269.1M639.9 1286.1L650.9 1275.1M639.9 1292.1L650.9 1281.1M639.9 1298.1L650.9 1287.1M639.9 1304.1L650.9 1293.1M639.9 1310.1L650.9 1299.1M639.9 1316.1L650.9 1305.1M639.9 1322.1L650.9 1311.1M645.2 1322.8L650.9 1317.1M639.9 1317.9L644.8 1322.8M639.9 1311.9L650.8 1322.8M639.9 1305.9L650.9 1316.9M639.9 1299.9L650.9 1310.9M639.9 1293.9L650.9 1304.9M639.9 1287.9L650.9 1298.9M639.9 1281.9L650.9 1292.9M639.9 1275.9L650.9 1286.9M639.9 1269.9L650.9 1280.9M639.9 1263.9L650.9 1274.9M639.9 1257.9L650.9 1268.9M639.9 1251.9L650.9 1262.9M639.9 1245.9L650.9 1256.9M639.9 1239.9L650.9 1250.9M639.9 1233.9L650.9 1244.9M639.9 1227.9L650.9 1238.9M639.9 1221.9L650.9 1232.9M639.9 1215.9L650.9 1226.9M639.9 1209.9L650.9 1220.9M639.9 1203.9L650.9 1214.9M639.9 1197.9L650.9 1208.9M639.9 1191.9L650.9 1202.9M639.9 1185.9L650.9 1196.9M639.9 1179.9L650.9 1190.9M639.9 1173.9L650.9 1184.9M639.9 1167.9L650.9 1178.9M639.9 1161.9L650.9 1172.9M639.9 1155.9L650.9 1166.9M639.9 1149.9L650.9 1160.9M639.9 1143.9L650.9 1154.9M639.9 1137.9L650.9 1148.9M639.9 1131.9L650.9 1142.9M639.9 1125.9L650.9 1136.9M639.9 1119.9L650.9 1130.9M639.9 1113.9L650.9 1124.9M639.9 1107.9L650.9 1118.9M639.9 1101.9L650.9 1112.9M639.9 1095.9L650.9 1106.9M639.9 1089.9L650.9 1100.9M639.9 1083.9L650.9 1094.9M639.9 1077.9L650.9 1088.9M639.9 1071.9L650.9 1082.9M639.9 1065.9L650.9 1076.9M639.9 1059.9L650.9 1070.9M639.9 1053.9L650.9 1064.9M639.9 1047.9L650.9 1058.9M639.9 1041.9L650.9 1052.9M639.9 1035.9L650.9 1046.9M639.9 1029.9L650.9 1040.9M639.9 1023.9L650.9 1034.9M639.9 1017.9L650.9 1028.9M642.3 1014.3L650.9 1022.9M648.3 1014.3L650.9 1016.9M678.3 1001.7L678.6 1001.4M678.3 1007.7L684.6 1001.4M678.3 1013.7L689.3 1002.7M678.3 1019.7L689.3 1008.7M678.3 1025.7L689.3 1014.7M678.3 1031.7L689.3 1020.7M678.3 1037.7L689.3 1026.7M678.3 1043.7L689.3 1032.7M678.3 1049.7L689.3 1038.7M678.3 1055.7L689.3 1044.7M678.3 1061.7L689.3 1050.7M678.3 1067.7L689.3 1056.7M678.3 1073.7L689.3 1062.7M678.3 1079.7L689.3 1068.7M678.3 1085.7L689.3 1074.7M678.3 1091.7L689.3 1080.7M678.3 1097.7L689.3 1086.7M678.3 1103.7L689.3 1092.7M678.3 1109.7L689.3 1098.7M678.3 1115.7L689.3 1104.7M678.3 1121.7L689.3 1110.7M678.3 1127.7L689.3 1116.7M678.3 1133.7L689.3 1122.7M678.3 1139.7L689.3 1128.7M678.3 1145.7L689.3 1134.7M678.3 1151.7L689.3 1140.7M678.3 1157.7L689.3 1146.7M678.3 1163.7L689.3 1152.7M678.3 1169.7L689.3 1158.7M678.3 1175.7L689.3 1164.7M678.3 1181.7L689.3 1170.7M678.3 1187.7L689.3 1176.7M678.3 1193.7L689.3 1182.7M678.3 1199.7L689.3 1188.7M678.3 1205.7L689.3 1194.7M678.3 1211.7L689.3 1200.7M678.3 1217.7L689.3 1206.7M678.3 1223.7L689.3 1212.7M678.3 1229.7L689.3 1218.7M678.3 1235.7L689.3 1224.7M678.3 1241.7L689.3 1230.7M678.3 1247.7L689.3 1236.7M678.3 1253.7L689.3 1242.7M678.3 1259.7L689.3 1248.7M678.3 1265.7L689.3 1254.7M678.3 1271.7L689.3 1260.7M678.3 1277.7L689.3 1266.7M678.3 1283.7L689.3 1272.7M678.3 1289.7L689.3 1278.7M678.3 1295.7L689.3 1284.7M678.3 1301.7L689.3 1290.7M678.3 1307.7L689.3 1296.7M678.3 1313.7L689.3 1302.7M678.3 1319.7L689.3 1308.7M681.2 1322.8L689.3 1314.7M687.2 1322.8L689.3 1320.7M678.3 1320.3L680.8 1322.8M678.3 1314.3L686.8 1322.8M678.3 1308.3L689.3 1319.3M678.3 1302.3L689.3 1313.3M678.3 1296.3L689.3 1307.3M678.3 1290.3L689.3 1301.3M678.3 1284.3L689.3 1295.3M678.3 1278.3L689.3 1289.3M678.3 1272.3L689.3 1283.3M678.3 1266.3L689.3 1277.3M678.3 1260.3L689.3 1271.3M678.3 1254.3L689.3 1265.3M678.3 1248.3L689.3 1259.3M678.3 1242.3L689.3 1253.3M678.3 1236.3L689.3 1247.3M678.3 1230.3L689.3 1241.3M678.3 1224.3L689.3 1235.3M678.3 1218.3L689.3 1229.3M678.3 1212.3L689.3 1223.3M678.3 1206.3L689.3 1217.3M678.3 1200.3L689.3 1211.3M678.3 1194.3L689.3 1205.3M678.3 1188.3L689.3 1199.3M678.3 1182.3L689.3 1193.3M678.3 1176.3L689.3 1187.3M678.3 1170.3L689.3 1181.3M678.3 1164.3L689.3 1175.3M678.3 1158.3L689.3 1169.3M678.3 1152.3L689.3 1163.3M678.3 1146.3L689.3 1157.3M678.3 1140.3L689.3 1151.3M678.3 1134.3L689.3 1145.3M678.3 1128.3L689.3 1139.3M678.3 1122.3L689.3 1133.3M678.3 1116.3L689.3 1127.3M678.3 1110.3L689.3 1121.3M678.3 1104.3L689.3 1115.3M678.3 1098.3L689.3 1109.3M678.3 1092.3L689.3 1103.3M678.3 1086.3L689.3 1097.3M678.3 1080.3L689.3 1091.3M678.3 1074.3L689.3 1085.3M678.3 1068.3L689.3 1079.3M678.3 1062.3L689.3 1073.3M678.3 1056.3L689.3 1067.3M678.3 1050.3L689.3 1061.3M678.3 1044.3L689.3 1055.3M678.3 1038.3L689.3 1049.3M678.3 1032.3L689.3 1043.3M678.3 1026.3L689.3 1037.3M678.3 1020.3L689.3 1031.3M678.3 1014.3L689.3 1025.3M678.3 1008.3L689.3 1019.3M678.3 1002.3L689.3 1013.3M683.4 1001.4L689.3 1007.3M716.7 933.3L719.6 930.4M716.7 939.3L725.6 930.4M716.7 945.3L727.7 934.3M716.7 951.3L727.7 940.3M716.7 957.3L727.7 946.3M716.7 963.3L727.7 952.3M716.7 969.3L727.7 958.3M716.7 975.3L727.7 964.3M716.7 981.3L727.7 970.3M716.7 987.3L727.7 976.3M716.7 993.3L727.7 982.3M716.7 999.3L727.7 988.3M716.7 1005.3L727.7 994.3M716.7 1011.3L727.7 1000.3M716.7 1017.3L727.7 1006.3M716.7 1023.3L727.7 1012.3M716.7 1029.3L727.7 1018.3M716.7 1035.3L727.7 1024.3M716.7 1041.3L727.7 1030.3M716.7 1047.3L727.7 1036.3M716.7 1053.3L727.7 1042.3M716.7 1059.3L727.7 1048.3M716.7 1065.3L727.7 1054.3M716.7 1071.3L727.7 1060.3M716.7 1077.3L727.7 1066.3M716.7 1083.3L727.7 1072.3M716.7 1089.3L727.7 1078.3M716.7 1095.3L727.7 1084.3M716.7 1101.3L727.7 1090.3M716.7 1107.3L727.7 1096.3M716.7 1113.3L727.7 1102.3M716.7 1119.3L727.7 1108.3M716.7 1125.3L727.7 1114.3M716.7 1131.3L727.7 1120.3M716.7 1137.3L727.7 1126.3M716.7 1143.3L727.7 1132.3M716.7 1149.3L727.7 1138.3M716.7 1155.3L727.7 1144.3M716.7 1161.3L727.7 1150.3M716.7 1167.3L727.7 1156.3M716.7 1173.3L727.7 1162.3M716.7 1179.3L727.7 1168.3M716.7 1185.3L727.7 1174.3M716.7 1191.3L727.7 1180.3M716.7 1197.3L727.7 1186.3M716.7 1203.3L727.7 1192.3M716.7 1209.3L727.7 1198.3M716.7 1215.3L727.7 1204.3M716.7 1221.3L727.7 1210.3M716.7 1227.3L727.7 1216.3M716.7 1233.3L727.7 1222.3M716.7 1239.3L727.7 1228.3M716.7 1245.3L727.7 1234.3M716.7 1251.3L727.7 1240.3M716.7 1257.3L727.7 1246.3M716.7 1263.3L727.7 1252.3M716.7 1269.3L727.7 1258.3M716.7 1275.3L727.7 1264.3M716.7 1281.3L727.7 1270.3M716.7 1287.3L727.7 1276.3M716.7 1293.3L727.7 1282.3M716.7 1299.3L727.7 1288.3M716.7 1305.3L727.7 1294.3M716.7 1311.3L727.7 1300.3M716.7 1317.3L727.7 1306.3M717.2 1322.8L727.7 1312.3M723.2 1322.8L727.7 1318.3M716.7 1322.7L716.8 1322.8M716.7 1316.7L722.8 1322.8M716.7 1310.7L727.7 1321.7M716.7 1304.7L727.7 1315.7M716.7 1298.7L727.7 1309.7M716.7 1292.7L727.7 1303.7M716.7 1286.7L727.7 1297.7M716.7 1280.7L727.7 1291.7M716.7 1274.7L727.7 1285.7M716.7 1268.7L727.7 1279.7M716.7 1262.7L727.7 1273.7M716.7 1256.7L727.7 1267.7M716.7 1250.7L727.7 1261.7M716.7 1244.7L727.7 1255.7M716.7 1238.7L727.7 1249.7M716.7 1232.7L727.7 1243.7M716.7 1226.7L727.7 1237.7M716.7 1220.7L727.7 1231.7M716.7 1214.7L727.7 1225.7M716.7 1208.7L727.7 1219.7M716.7 1202.7L727.7 1213.7M716.7 1196.7L727.7 1207.7M716.7 1190.7L727.7 1201.7M716.7 1184.7L727.7 1195.7M716.7 1178.7L727.7 1189.7M716.7 1172.7L727.7 1183.7M716.7 1166.7L727.7 1177.7M716.7 1160.7L727.7 1171.7M716.7 1154.7L727.7 1165.7M716.7 1148.7L727.7 1159.7M716.7 1142.7L727.7 1153.7M716.7 1136.7L727.7 1147.7M716.7 1130.7L727.7 1141.7M716.7 1124.7L727.7 1135.7M716.7 1118.7L727.7 1129.7M716.7 1112.7L727.7 1123.7M716.7 1106.7L727.7 1117.7M716.7 1100.7L727.7 1111.7M716.7 1094.7L727.7 1105.7M716.7 1088.7L727.7 1099.7M716.7 1082.7L727.7 1093.7M716.7 1076.7L727.7 1087.7M716.7 1070.7L727.7 1081.7M716.7 1064.7L727.7 1075.7M716.7 1058.7L727.7 1069.7M716.7 1052.7L727.7 1063.7M716.7 1046.7L727.7 1057.7M716.7 1040.7L727.7 1051.7M716.7 1034.7L727.7 1045.7M716.7 1028.7L727.7 1039.7M716.7 1022.7L727.7 1033.7M716.7 1016.7L727.7 1027.7M716.7 1010.7L727.7 1021.7M716.7 1004.7L727.7 1015.7M716.7 998.7L727.7 1009.7M716.7 992.7L727.7 1003.7M716.7 986.7L727.7 997.7M716.7 980.7L727.7 991.7M716.7 974.7L727.7 985.7M716.7 968.7L727.7 979.7M716.7 962.7L727.7 973.7M716.7 956.7L727.7 967.7M716.7 950.7L727.7 961.7M716.7 944.7L727.7 955.7M716.7 938.7L727.7 949.7M716.7 932.7L727.7 943.7M720.4 930.4L727.7 937.7M726.4 930.4L727.7 931.7M755.1 1008.9L756.9 1007.1M755.1 1014.9L762.9 1007.1M755.1 1020.9L766.1 1009.9M755.1 1026.9L766.1 1015.9M755.1 1032.9L766.1 1021.9M755.1 1038.9L766.1 1027.9M755.1 1044.9L766.1 1033.9M755.1 1050.9L766.1 1039.9M755.1 1056.9L766.1 1045.9M755.1 1062.9L766.1 1051.9M755.1 1068.9L766.1 1057.9M755.1 1074.9L766.1 1063.9M755.1 1080.9L766.1 1069.9M755.1 1086.9L766.1 1075.9M755.1 1092.9L766.1 1081.9M755.1 1098.9L766.1 1087.9M755.1 1104.9L766.1 1093.9M755.1 1110.9L766.1 1099.9M755.1 1116.9L766.1 1105.9M755.1 1122.9L766.1 1111.9M755.1 1128.9L766.1 1117.9M755.1 1134.9L766.1 1123.9M755.1 1140.9L766.1 1129.9M755.1 1146.9L766.1 1135.9M755.1 1152.9L766.1 1141.9M755.1 1158.9L766.1 1147.9M755.1 1164.9L766.1 1153.9M755.1 1170.9L766.1 1159.9M755.1 1176.9L766.1 1165.9M755.1 1182.9L766.1 1171.9M755.1 1188.9L766.1 1177.9M755.1 1194.9L766.1 1183.9M755.1 1200.9L766.1 1189.9M755.1 1206.9L766.1 1195.9M755.1 1212.9L766.1 1201.9M755.1 1218.9L766.1 1207.9M755.1 1224.9L766.1 1213.9M755.1 1230.9L766.1 1219.9M755.1 1236.9L766.1 1225.9M755.1 1242.9L766.1 1231.9M755.1 1248.9L766.1 1237.9M755.1 1254.9L766.1 1243.9M755.1 1260.9L766.1 1249.9M755.1 1266.9L766.1 1255.9M755.1 1272.9L766.1 1261.9M755.1 1278.9L766.1 1267.9M755.1 1284.9L766.1 1273.9M755.1 1290.9L766.1 1279.9M755.1 1296.9L766.1 1285.9M755.1 1302.9L766.1 1291.9M755.1 1308.9L766.1 1297.9M755.1 1314.9L766.1 1303.9M755.1 1320.9L766.1 1309.9M759.2 1322.8L766.1 1315.9M765.2 1322.8L766.1 1321.9M755.1 1319.1L758.8 1322.8M755.1 1313.1L764.8 1322.8M755.1 1307.1L766.1 1318.1M755.1 1301.1L766.1 1312.1M755.1 1295.1L766.1 1306.1M755.1 1289.1L766.1 1300.1M755.1 1283.1L766.1 1294.1M755.1 1277.1L766.1 1288.1M755.1 1271.1L766.1 1282.1M755.1 1265.1L766.1 1276.1M755.1 1259.1L766.1 1270.1M755.1 1253.1L766.1 1264.1M755.1 1247.1L766.1 1258.1M755.1 1241.1L766.1 1252.1M755.1 1235.1L766.1 1246.1M755.1 1229.1L766.1 1240.1M755.1 1223.1L766.1 1234.1M755.1 1217.1L766.1 1228.1M755.1 1211.1L766.1 1222.1M755.1 1205.1L766.1 1216.1M755.1 1199.1L766.1 1210.1M755.1 1193.1L766.1 1204.1M755.1 1187.1L766.1 1198.1M755.1 1181.1L766.1 1192.1M755.1 1175.1L766.1 1186.1M755.1 1169.1L766.1 1180.1M755.1 1163.1L766.1 1174.1M755.1 1157.1L766.1 1168.1M755.1 1151.1L766.1 1162.1M755.1 1145.1L766.1 1156.1M755.1 1139.1L766.1 1150.1M755.1 1133.1L766.1 1144.1M755.1 1127.1L766.1 1138.1M755.1 1121.1L766.1 1132.1M755.1 1115.1L766.1 1126.1M755.1 1109.1L766.1 1120.1M755.1 1103.1L766.1 1114.1M755.1 1097.1L766.1 1108.1M755.1 1091.1L766.1 1102.1M755.1 1085.1L766.1 1096.1M755.1 1079.1L766.1 1090.1M755.1 1073.1L766.1 1084.1M755.1 1067.1L766.1 1078.1M755.1 1061.1L766.1 1072.1M755.1 1055.1L766.1 1066.1M755.1 1049.1L766.1 1060.1M755.1 1043.1L766.1 1054.1M755.1 1037.1L766.1 1048.1M755.1 1031.1L766.1 1042.1M755.1 1025.1L766.1 1036.1M755.1 1019.1L766.1 1030.1M755.1 1013.1L766.1 1024.1M755.1 1007.1L766.1 1018.1M761.1 1007.1L766.1 1012.1M793.5 1054.5L795.3 1052.7M793.5 1060.5L801.3 1052.7M793.5 1066.5L804.5 1055.5M793.5 1072.5L804.5 1061.5M793.5 1078.5L804.5 1067.5M793.5 1084.5L804.5 1073.5M793.5 1090.5L804.5 1079.5M793.5 1096.5L804.5 1085.5M793.5 1102.5L804.5 1091.5M793.5 1108.5L804.5 1097.5M793.5 1114.5L804.5 1103.5M793.5 1120.5L804.5 1109.5M793.5 1126.5L804.5 1115.5M793.5 1132.5L804.5 1121.5M793.5 1138.5L804.5 1127.5M793.5 1144.5L804.5 1133.5M793.5 1150.5L804.5 1139.5M793.5 1156.5L804.5 1145.5M793.5 1162.5L804.5 1151.5M793.5 1168.5L804.5 1157.5M793.5 1174.5L804.5 1163.5M793.5 1180.5L804.5 1169.5M793.5 1186.5L804.5 1175.5M793.5 1192.5L804.5 1181.5M793.5 1198.5L804.5 1187.5M793.5 1204.5L804.5 1193.5M793.5 1210.5L804.5 1199.5M793.5 1216.5L804.5 1205.5M793.5 1222.5L804.5 1211.5M793.5 1228.5L804.5 1217.5M793.5 1234.5L804.5 1223.5M793.5 1240.5L804.5 1229.5M793.5 1246.5L804.5 1235.5M793.5 1252.5L804.5 1241.5M793.5 1258.5L804.5 1247.5M793.5 1264.5L804.5 1253.5M793.5 1270.5L804.5 1259.5M793.5 1276.5L804.5 1265.5M793.5 1282.5L804.5 1271.5M793.5 1288.5L804.5 1277.5M793.5 1294.5L804.5 1283.5M793.5 1300.5L804.5 1289.5M793.5 1306.5L804.5 1295.5M793.5 1312.5L804.5 1301.5M793.5 1318.5L804.5 1307.5M795.2 1322.8L804.5 1313.5M801.2 1322.8L804.5 1319.5M793.5 1321.5L794.8 1322.8M793.5 1315.5L800.8 1322.8M793.5 1309.5L804.5 1320.5M793.5 1303.5L804.5 1314.5M793.5 1297.5L804.5 1308.5M793.5 1291.5L804.5 1302.5M793.5 1285.5L804.5 1296.5M793.5 1279.5L804.5 1290.5M793.5 1273.5L804.5 1284.5M793.5 1267.5L804.5 1278.5M793.5 1261.5L804.5 1272.5M793.5 1255.5L804.5 1266.5M793.5 1249.5L804.5 1260.5M793.5 1243.5L804.5 1254.5M793.5 1237.5L804.5 1248.5M793.5 1231.5L804.5 1242.5M793.5 1225.5L804.5 1236.5M793.5 1219.5L804.5 1230.5M793.5 1213.5L804.5 1224.5M793.5 1207.5L804.5 1218.5M793.5 1201.5L804.5 1212.5M793.5 1195.5L804.5 1206.5M793.5 1189.5L804.5 1200.5M793.5 1183.5L804.5 1194.5M793.5 1177.5L804.5 1188.5M793.5 1171.5L804.5 1182.5M793.5 1165.5L804.5 1176.5M793.5 1159.5L804.5 1170.5M793.5 1153.5L804.5 1164.5M793.5 1147.5L804.5 1158.5M793.5 1141.5L804.5 1152.5M793.5 1135.5L804.5 1146.5M793.5 1129.5L804.5 1140.5M793.5 1123.5L804.5 1134.5M793.5 1117.5L804.5 1128.5M793.5 1111.5L804.5 1122.5M793.5 1105.5L804.5 1116.5M793.5 1099.5L804.5 1110.5M793.5 1093.5L804.5 1104.5M793.5 1087.5L804.5 1098.5M793.5 1081.5L804.5 1092.5M793.5 1075.5L804.5 1086.5M793.5 1069.5L804.5 1080.5M793.5 1063.5L804.5 1074.5M793.5 1057.5L804.5 1068.5M794.7 1052.7L804.5 1062.5M800.7 1052.7L804.5 1056.5" stroke="#000" stroke-width="1.2" fill="none" shape-rendering="auto"/>
<path d="M140.7 917.8h11v405h-11zM179.1 884.7h11v438.1h-11zM217.5 819.7h11v503.1h-11zM255.9 951.3h11v371.5h-11zM294.3 1047.7h11v275.1h-11zM332.7 1067.1h11v255.7h-11zM371.1 1191.8h11v131h-11zM409.5 1263.5h11v59.3h-11zM447.9 1296.6h11v26.2h-11zM486.3 1045.5h11v277.3h-11zM524.7 886h11v436.8h-11zM563.1 777.1h11v545.7h-11zM601.5 1038.9h11v283.9h-11zM639.9 1014.3h11v308.5h-11zM678.3 1001.4h11v321.4h-11zM716.7 930.4h11v392.4h-11zM755.1 1007.1h11v315.7h-11zM793.5 1052.7h11v270.1h-11z" stroke="#000" stroke-width="1.7" fill="none"/>
<path d="M331.5 1069V1322M446.5 1298V1322M677.5 1003V1322M792.5 1054V1322" stroke="#000" stroke-width="3" stroke-dasharray="1 1" fill="none" shape-rendering="crispEdges"/>
<polyline points="146.1,1261.5 185,1258.1 223.1,1273.2" fill="none" stroke="#ff0000" stroke-width="1.5"/>
<polyline points="261.1,1260 300,1228.9 339.1,1245.3" fill="none" stroke="#ff0000" stroke-width="1.5"/>
<polyline points="376.2,1216.7 415.4,1210.1 453.2,1215" fill="none" stroke="#ff0000" stroke-width="1.5"/>
<polyline points="491.5,1209.7 530.4,1229.3 569,1251.8" fill="none" stroke="#ff0000" stroke-width="1.5"/>
<polyline points="607,1251.7 645.8,1250.4 684.6,1252.2" fill="none" stroke="#ff0000" stroke-width="1.5"/>
<polyline points="722.6,1239.7 760.3,1230.9 799.8,1239.7" fill="none" stroke="#ff0000" stroke-width="1.5"/>
<polyline points="837.7,1170.6 875.9,1142.9 914.4,1169.3" fill="none" stroke="#ff0000" stroke-width="1.5"/>
<path d="M410.4 1198.4H420.4M410.4 1221.2H420.4M415.4 1198.4V1221.2" stroke="#000" stroke-width="1.3" fill="none"/>
<path d="M448.2 1206H458.2M448.2 1224.3H458.2M453.2 1206V1224.3" stroke="#000" stroke-width="1.3" fill="none"/>
<path d="M870.9 1139H880.9M870.9 1147H880.9M875.9 1139V1147" stroke="#000" stroke-width="1.3" fill="none"/>
<path d="M146.1 1256.3l4.6 5.2l-4.6 5.2l-4.6 -5.2z" fill="#000"/>
<path d="M185 1252.9l4.6 5.2l-4.6 5.2l-4.6 -5.2z" fill="#000"/>
<path d="M223.1 1268l4.6 5.2l-4.6 5.2l-4.6 -5.2z" fill="#000"/>
<path d="M261.1 1254.8l4.6 5.2l-4.6 5.2l-4.6 -5.2z" fill="#000"/>
<path d="M300 1223.7l4.6 5.2l-4.6 5.2l-4.6 -5.2z" fill="#000"/>
<path d="M339.1 1240.1l4.6 5.2l-4.6 5.2l-4.6 -5.2z" fill="#000"/>
<path d="M376.2 1211.5l4.6 5.2l-4.6 5.2l-4.6 -5.2z" fill="#000"/>
<path d="M415.4 1204.9l4.6 5.2l-4.6 5.2l-4.6 -5.2z" fill="#000"/>
<path d="M453.2 1209.8l4.6 5.2l-4.6 5.2l-4.6 -5.2z" fill="#000"/>
<path d="M491.5 1204.5l4.6 5.2l-4.6 5.2l-4.6 -5.2z" fill="#000"/>
<path d="M530.4 1224.1l4.6 5.2l-4.6 5.2l-4.6 -5.2z" fill="#000"/>
<path d="M569 1246.6l4.6 5.2l-4.6 5.2l-4.6 -5.2z" fill="#000"/>
<path d="M607 1246.5l4.6 5.2l-4.6 5.2l-4.6 -5.2z" fill="#000"/>
<path d="M645.8 1245.2l4.6 5.2l-4.6 5.2l-4.6 -5.2z" fill="#000"/>
<path d="M684.6 1247l4.6 5.2l-4.6 5.2l-4.6 -5.2z" fill="#000"/>
<path d="M722.6 1234.5l4.6 5.2l-4.6 5.2l-4.6 -5.2z" fill="#000"/>
<path d="M760.3 1225.7l4.6 5.2l-4.6 5.2l-4.6 -5.2z" fill="#000"/>
<path d="M799.8 1234.5l4.6 5.2l-4.6 5.2l-4.6 -5.2z" fill="#000"/>
<path d="M837.7 1165.4l4.6 5.2l-4.6 5.2l-4.6 -5.2z" fill="#000"/>
<path d="M875.9 1137.7l4.6 5.2l-4.6 5.2l-4.6 -5.2z" fill="#000"/>
<path d="M914.4 1164.1l4.6 5.2l-4.6 5.2l-4.6 -5.2z" fill="#000"/>
<path d="M136.6 893.7l-2.8 -0M136.6 893.7l-1.11 -3.42M136.6 893.7l-1.11 3.42M136.6 893.7l2.91 -2.12M136.6 893.7l2.91 2.12M136.6 884.6l-2.8 -0M136.6 884.6l-1.11 -3.42M136.6 884.6l-1.11 3.42M136.6 884.6l2.91 -2.12M136.6 884.6l2.91 2.12M136.6 875.5l-2.8 -0M136.6 875.5l-1.11 -3.42M136.6 875.5l-1.11 3.42M136.6 875.5l2.91 -2.12M136.6 875.5l2.91 2.12" stroke="#1010ff" stroke-width="1.6" stroke-linecap="round" fill="none"/>
<path d="M151.9 898.9l-2.8 -0M151.9 898.9l-1.11 -3.42M151.9 898.9l-1.11 3.42M151.9 898.9l2.91 -2.12M151.9 898.9l2.91 2.12M151.9 889.8l-2.8 -0M151.9 889.8l-1.11 -3.42M151.9 889.8l-1.11 3.42M151.9 889.8l2.91 -2.12M151.9 889.8l2.91 2.12M151.9 880.7l-2.8 -0M151.9 880.7l-1.11 -3.42M151.9 880.7l-1.11 3.42M151.9 880.7l2.91 -2.12M151.9 880.7l2.91 2.12M151.9 870.2l-2.8 -0M151.9 870.2l-1.11 -3.42M151.9 870.2l-1.11 3.42M151.9 870.2l2.91 -2.12M151.9 870.2l2.91 2.12" stroke="#1a1a1a" stroke-width="1.2" stroke-linecap="round" fill="none"/>
<path d="M191.3 865.4l-2.8 -0M191.3 865.4l-1.11 -3.42M191.3 865.4l-1.11 3.42M191.3 865.4l2.91 -2.12M191.3 865.4l2.91 2.12M191.3 856.3l-2.8 -0M191.3 856.3l-1.11 -3.42M191.3 856.3l-1.11 3.42M191.3 856.3l2.91 -2.12M191.3 856.3l2.91 2.12M191.3 847.2l-2.8 -0M191.3 847.2l-1.11 -3.42M191.3 847.2l-1.11 3.42M191.3 847.2l2.91 -2.12M191.3 847.2l2.91 2.12M191.3 836.7l-2.8 -0M191.3 836.7l-1.11 -3.42M191.3 836.7l-1.11 3.42M191.3 836.7l2.91 -2.12M191.3 836.7l2.91 2.12" stroke="#1a1a1a" stroke-width="1.2" stroke-linecap="round" fill="none"/>
<path d="M227.9 803.6l-2.8 -0M227.9 803.6l-1.11 -3.42M227.9 803.6l-1.11 3.42M227.9 803.6l2.91 -2.12M227.9 803.6l2.91 2.12M227.9 794.5l-2.8 -0M227.9 794.5l-1.11 -3.42M227.9 794.5l-1.11 3.42M227.9 794.5l2.91 -2.12M227.9 794.5l2.91 2.12M227.9 785.4l-2.8 -0M227.9 785.4l-1.11 -3.42M227.9 785.4l-1.11 3.42M227.9 785.4l2.91 -2.12M227.9 785.4l2.91 2.12M227.9 774.9l-2.8 -0M227.9 774.9l-1.11 -3.42M227.9 774.9l-1.11 3.42M227.9 774.9l2.91 -2.12M227.9 774.9l2.91 2.12" stroke="#1a1a1a" stroke-width="1.2" stroke-linecap="round" fill="none"/>
<path d="M251.8 931l-2.8 -0M251.8 931l-1.11 -3.42M251.8 931l-1.11 3.42M251.8 931l2.91 -2.12M251.8 931l2.91 2.12M251.8 921.9l-2.8 -0M251.8 921.9l-1.11 -3.42M251.8 921.9l-1.11 3.42M251.8 921.9l2.91 -2.12M251.8 921.9l2.91 2.12M251.8 912.8l-2.8 -0M251.8 912.8l-1.11 -3.42M251.8 912.8l-1.11 3.42M251.8 912.8l2.91 -2.12M251.8 912.8l2.91 2.12M251.8 902.3l-2.8 -0M251.8 902.3l-1.11 -3.42M251.8 902.3l-1.11 3.42M251.8 902.3l2.91 -2.12M251.8 902.3l2.91 2.12" stroke="#1010ff" stroke-width="1.6" stroke-linecap="round" fill="none"/>
<path d="M267.4 931l-2.8 -0M267.4 931l-1.11 -3.42M267.4 931l-1.11 3.42M267.4 931l2.91 -2.12M267.4 931l2.91 2.12M267.4 921.9l-2.8 -0M267.4 921.9l-1.11 -3.42M267.4 921.9l-1.11 3.42M267.4 921.9l2.91 -2.12M267.4 921.9l2.91 2.12M267.4 912.8l-2.8 -0M267.4 912.8l-1.11 -3.42M267.4 912.8l-1.11 3.42M267.4 912.8l2.91 -2.12M267.4 912.8l2.91 2.12M267.4 902.3l-2.8 -0M267.4 902.3l-1.11 -3.42M267.4 902.3l-1.11 3.42M267.4 902.3l2.91 -2.12M267.4 902.3l2.91 2.12" stroke="#1a1a1a" stroke-width="1.2" stroke-linecap="round" fill="none"/>
<path d="M291.7 1028.2l-2.8 -0M291.7 1028.2l-1.11 -3.42M291.7 1028.2l-1.11 3.42M291.7 1028.2l2.91 -2.12M291.7 1028.2l2.91 2.12M291.7 1019.1l-2.8 -0M291.7 1019.1l-1.11 -3.42M291.7 1019.1l-1.11 3.42M291.7 1019.1l2.91 -2.12M291.7 1019.1l2.91 2.12M291.7 1010l-2.8 -0M291.7 1010l-1.11 -3.42M291.7 1010l-1.11 3.42M291.7 1010l2.91 -2.12M291.7 1010l2.91 2.12M291.7 999.5l-2.8 -0M291.7 999.5l-1.11 -3.42M291.7 999.5l-1.11 3.42M291.7 999.5l2.91 -2.12M291.7 999.5l2.91 2.12" stroke="#1010ff" stroke-width="1.6" stroke-linecap="round" fill="none"/>
<path d="M306.7 1029.9l-2.8 -0M306.7 1029.9l-1.11 -3.42M306.7 1029.9l-1.11 3.42M306.7 1029.9l2.91 -2.12M306.7 1029.9l2.91 2.12M306.7 1020.8l-2.8 -0M306.7 1020.8l-1.11 -3.42M306.7 1020.8l-1.11 3.42M306.7 1020.8l2.91 -2.12M306.7 1020.8l2.91 2.12M306.7 1011.7l-2.8 -0M306.7 1011.7l-1.11 -3.42M306.7 1011.7l-1.11 3.42M306.7 1011.7l2.91 -2.12M306.7 1011.7l2.91 2.12M306.7 1001.2l-2.8 -0M306.7 1001.2l-1.11 -3.42M306.7 1001.2l-1.11 3.42M306.7 1001.2l2.91 -2.12M306.7 1001.2l2.91 2.12" stroke="#1a1a1a" stroke-width="1.2" stroke-linecap="round" fill="none"/>
<path d="M329.7 1044.9l-2.8 -0M329.7 1044.9l-1.11 -3.42M329.7 1044.9l-1.11 3.42M329.7 1044.9l2.91 -2.12M329.7 1044.9l2.91 2.12M329.7 1035.8l-2.8 -0M329.7 1035.8l-1.11 -3.42M329.7 1035.8l-1.11 3.42M329.7 1035.8l2.91 -2.12M329.7 1035.8l2.91 2.12M329.7 1026.7l-2.8 -0M329.7 1026.7l-1.11 -3.42M329.7 1026.7l-1.11 3.42M329.7 1026.7l2.91 -2.12M329.7 1026.7l2.91 2.12" stroke="#1010ff" stroke-width="1.6" stroke-linecap="round" fill="none"/>
<path d="M343.1 1050.8l-2.8 -0M343.1 1050.8l-1.11 -3.42M343.1 1050.8l-1.11 3.42M343.1 1050.8l2.91 -2.12M343.1 1050.8l2.91 2.12M343.1 1041.7l-2.8 -0M343.1 1041.7l-1.11 -3.42M343.1 1041.7l-1.11 3.42M343.1 1041.7l2.91 -2.12M343.1 1041.7l2.91 2.12M343.1 1032.6l-2.8 -0M343.1 1032.6l-1.11 -3.42M343.1 1032.6l-1.11 3.42M343.1 1032.6l2.91 -2.12M343.1 1032.6l2.91 2.12M343.1 1022.1l-2.8 -0M343.1 1022.1l-1.11 -3.42M343.1 1022.1l-1.11 3.42M343.1 1022.1l2.91 -2.12M343.1 1022.1l2.91 2.12" stroke="#1a1a1a" stroke-width="1.2" stroke-linecap="round" fill="none"/>
<path d="M496.1 1027.7l-2.8 -0M496.1 1027.7l-1.11 -3.42M496.1 1027.7l-1.11 3.42M496.1 1027.7l2.91 -2.12M496.1 1027.7l2.91 2.12M496.1 1018.6l-2.8 -0M496.1 1018.6l-1.11 -3.42M496.1 1018.6l-1.11 3.42M496.1 1018.6l2.91 -2.12M496.1 1018.6l2.91 2.12M496.1 1009.5l-2.8 -0M496.1 1009.5l-1.11 -3.42M496.1 1009.5l-1.11 3.42M496.1 1009.5l2.91 -2.12M496.1 1009.5l2.91 2.12M496.1 999l-2.8 -0M496.1 999l-1.11 -3.42M496.1 999l-1.11 3.42M496.1 999l2.91 -2.12M496.1 999l2.91 2.12" stroke="#1a1a1a" stroke-width="1.2" stroke-linecap="round" fill="none"/>
<path d="M536.7 865.7l-2.8 -0M536.7 865.7l-1.11 -3.42M536.7 865.7l-1.11 3.42M536.7 865.7l2.91 -2.12M536.7 865.7l2.91 2.12M536.7 856.6l-2.8 -0M536.7 856.6l-1.11 -3.42M536.7 856.6l-1.11 3.42M536.7 856.6l2.91 -2.12M536.7 856.6l2.91 2.12M536.7 847.5l-2.8 -0M536.7 847.5l-1.11 -3.42M536.7 847.5l-1.11 3.42M536.7 847.5l2.91 -2.12M536.7 847.5l2.91 2.12M536.7 837l-2.8 -0M536.7 837l-1.11 -3.42M536.7 837l-1.11 3.42M536.7 837l2.91 -2.12M536.7 837l2.91 2.12" stroke="#1a1a1a" stroke-width="1.2" stroke-linecap="round" fill="none"/>
<path d="M575 766.2l-2.8 -0M575 766.2l-1.11 -3.42M575 766.2l-1.11 3.42M575 766.2l2.91 -2.12M575 766.2l2.91 2.12M575 757.1l-2.8 -0M575 757.1l-1.11 -3.42M575 757.1l-1.11 3.42M575 757.1l2.91 -2.12M575 757.1l2.91 2.12M575 748l-2.8 -0M575 748l-1.11 -3.42M575 748l-1.11 3.42M575 748l2.91 -2.12M575 748l2.91 2.12M575 737.5l-2.8 -0M575 737.5l-1.11 -3.42M575 737.5l-1.11 3.42M575 737.5l2.91 -2.12M575 737.5l2.91 2.12" stroke="#1a1a1a" stroke-width="1.2" stroke-linecap="round" fill="none"/>
<path d="M597.5 1021l-2.8 -0M597.5 1021l-1.11 -3.42M597.5 1021l-1.11 3.42M597.5 1021l2.91 -2.12M597.5 1021l2.91 2.12M597.5 1011.9l-2.8 -0M597.5 1011.9l-1.11 -3.42M597.5 1011.9l-1.11 3.42M597.5 1011.9l2.91 -2.12M597.5 1011.9l2.91 2.12M597.5 1002.8l-2.8 -0M597.5 1002.8l-1.11 -3.42M597.5 1002.8l-1.11 3.42M597.5 1002.8l2.91 -2.12M597.5 1002.8l2.91 2.12M597.5 992.3l-2.8 -0M597.5 992.3l-1.11 -3.42M597.5 992.3l-1.11 3.42M597.5 992.3l2.91 -2.12M597.5 992.3l2.91 2.12" stroke="#1010ff" stroke-width="1.6" stroke-linecap="round" fill="none"/>
<path d="M612.7 1021l-2.8 -0M612.7 1021l-1.11 -3.42M612.7 1021l-1.11 3.42M612.7 1021l2.91 -2.12M612.7 1021l2.91 2.12M612.7 1011.9l-2.8 -0M612.7 1011.9l-1.11 -3.42M612.7 1011.9l-1.11 3.42M612.7 1011.9l2.91 -2.12M612.7 1011.9l2.91 2.12M612.7 1002.8l-2.8 -0M612.7 1002.8l-1.11 -3.42M612.7 1002.8l-1.11 3.42M612.7 1002.8l2.91 -2.12M612.7 1002.8l2.91 2.12M612.7 992.3l-2.8 -0M612.7 992.3l-1.11 -3.42M612.7 992.3l-1.11 3.42M612.7 992.3l2.91 -2.12M612.7 992.3l2.91 2.12" stroke="#1a1a1a" stroke-width="1.2" stroke-linecap="round" fill="none"/>
<path d="M635.7 993.3l-2.8 -0M635.7 993.3l-1.11 -3.42M635.7 993.3l-1.11 3.42M635.7 993.3l2.91 -2.12M635.7 993.3l2.91 2.12M635.7 984.2l-2.8 -0M635.7 984.2l-1.11 -3.42M635.7 984.2l-1.11 3.42M635.7 984.2l2.91 -2.12M635.7 984.2l2.91 2.12M635.7 975.1l-2.8 -0M635.7 975.1l-1.11 -3.42M635.7 975.1l-1.11 3.42M635.7 975.1l2.91 -2.12M635.7 975.1l2.91 2.12M635.7 964.6l-2.8 -0M635.7 964.6l-1.11 -3.42M635.7 964.6l-1.11 3.42M635.7 964.6l2.91 -2.12M635.7 964.6l2.91 2.12" stroke="#1010ff" stroke-width="1.6" stroke-linecap="round" fill="none"/>
<path d="M650.6 992l-2.8 -0M650.6 992l-1.11 -3.42M650.6 992l-1.11 3.42M650.6 992l2.91 -2.12M650.6 992l2.91 2.12M650.6 982.9l-2.8 -0M650.6 982.9l-1.11 -3.42M650.6 982.9l-1.11 3.42M650.6 982.9l2.91 -2.12M650.6 982.9l2.91 2.12M650.6 973.8l-2.8 -0M650.6 973.8l-1.11 -3.42M650.6 973.8l-1.11 3.42M650.6 973.8l2.91 -2.12M650.6 973.8l2.91 2.12M650.6 963.3l-2.8 -0M650.6 963.3l-1.11 -3.42M650.6 963.3l-1.11 3.42M650.6 963.3l2.91 -2.12M650.6 963.3l2.91 2.12" stroke="#1a1a1a" stroke-width="1.2" stroke-linecap="round" fill="none"/>
<path d="M673.3 976.6l-2.8 -0M673.3 976.6l-1.11 -3.42M673.3 976.6l-1.11 3.42M673.3 976.6l2.91 -2.12M673.3 976.6l2.91 2.12M673.3 967.5l-2.8 -0M673.3 967.5l-1.11 -3.42M673.3 967.5l-1.11 3.42M673.3 967.5l2.91 -2.12M673.3 967.5l2.91 2.12" stroke="#1010ff" stroke-width="1.6" stroke-linecap="round" fill="none"/>
<path d="M688.7 982.4l-2.8 -0M688.7 982.4l-1.11 -3.42M688.7 982.4l-1.11 3.42M688.7 982.4l2.91 -2.12M688.7 982.4l2.91 2.12M688.7 973.3l-2.8 -0M688.7 973.3l-1.11 -3.42M688.7 973.3l-1.11 3.42M688.7 973.3l2.91 -2.12M688.7 973.3l2.91 2.12M688.7 964.2l-2.8 -0M688.7 964.2l-1.11 -3.42M688.7 964.2l-1.11 3.42M688.7 964.2l2.91 -2.12M688.7 964.2l2.91 2.12" stroke="#1a1a1a" stroke-width="1.2" stroke-linecap="round" fill="none"/>
<path d="M712.8 910.9l-2.8 -0M712.8 910.9l-1.11 -3.42M712.8 910.9l-1.11 3.42M712.8 910.9l2.91 -2.12M712.8 910.9l2.91 2.12M712.8 901.8l-2.8 -0M712.8 901.8l-1.11 -3.42M712.8 901.8l-1.11 3.42M712.8 901.8l2.91 -2.12M712.8 901.8l2.91 2.12M712.8 892.7l-2.8 -0M712.8 892.7l-1.11 -3.42M712.8 892.7l-1.11 3.42M712.8 892.7l2.91 -2.12M712.8 892.7l2.91 2.12M712.8 882.2l-2.8 -0M712.8 882.2l-1.11 -3.42M712.8 882.2l-1.11 3.42M712.8 882.2l2.91 -2.12M712.8 882.2l2.91 2.12" stroke="#1010ff" stroke-width="1.6" stroke-linecap="round" fill="none"/>
<path d="M728.2 910.9l-2.8 -0M728.2 910.9l-1.11 -3.42M728.2 910.9l-1.11 3.42M728.2 910.9l2.91 -2.12M728.2 910.9l2.91 2.12M728.2 901.8l-2.8 -0M728.2 901.8l-1.11 -3.42M728.2 901.8l-1.11 3.42M728.2 901.8l2.91 -2.12M728.2 901.8l2.91 2.12M728.2 892.7l-2.8 -0M728.2 892.7l-1.11 -3.42M728.2 892.7l-1.11 3.42M728.2 892.7l2.91 -2.12M728.2 892.7l2.91 2.12M728.2 882.2l-2.8 -0M728.2 882.2l-1.11 -3.42M728.2 882.2l-1.11 3.42M728.2 882.2l2.91 -2.12M728.2 882.2l2.91 2.12" stroke="#1a1a1a" stroke-width="1.2" stroke-linecap="round" fill="none"/>
<path d="M750.8 985.4l-2.8 -0M750.8 985.4l-1.11 -3.42M750.8 985.4l-1.11 3.42M750.8 985.4l2.91 -2.12M750.8 985.4l2.91 2.12M750.8 976.3l-2.8 -0M750.8 976.3l-1.11 -3.42M750.8 976.3l-1.11 3.42M750.8 976.3l2.91 -2.12M750.8 976.3l2.91 2.12M750.8 967.2l-2.8 -0M750.8 967.2l-1.11 -3.42M750.8 967.2l-1.11 3.42M750.8 967.2l2.91 -2.12M750.8 967.2l2.91 2.12M750.8 956.7l-2.8 -0M750.8 956.7l-1.11 -3.42M750.8 956.7l-1.11 3.42M750.8 956.7l2.91 -2.12M750.8 956.7l2.91 2.12" stroke="#1010ff" stroke-width="1.6" stroke-linecap="round" fill="none"/>
<path d="M767.6 987.1l-2.8 -0M767.6 987.1l-1.11 -3.42M767.6 987.1l-1.11 3.42M767.6 987.1l2.91 -2.12M767.6 987.1l2.91 2.12M767.6 978l-2.8 -0M767.6 978l-1.11 -3.42M767.6 978l-1.11 3.42M767.6 978l2.91 -2.12M767.6 978l2.91 2.12M767.6 968.9l-2.8 -0M767.6 968.9l-1.11 -3.42M767.6 968.9l-1.11 3.42M767.6 968.9l2.91 -2.12M767.6 968.9l2.91 2.12M767.6 958.4l-2.8 -0M767.6 958.4l-1.11 -3.42M767.6 958.4l-1.11 3.42M767.6 958.4l2.91 -2.12M767.6 958.4l2.91 2.12" stroke="#1a1a1a" stroke-width="1.2" stroke-linecap="round" fill="none"/>
<path d="M790.2 1032.4l-2.8 -0M790.2 1032.4l-1.11 -3.42M790.2 1032.4l-1.11 3.42M790.2 1032.4l2.91 -2.12M790.2 1032.4l2.91 2.12M790.2 1023.3l-2.8 -0M790.2 1023.3l-1.11 -3.42M790.2 1023.3l-1.11 3.42M790.2 1023.3l2.91 -2.12M790.2 1023.3l2.91 2.12M790.2 1014.2l-2.8 -0M790.2 1014.2l-1.11 -3.42M790.2 1014.2l-1.11 3.42M790.2 1014.2l2.91 -2.12M790.2 1014.2l2.91 2.12M790.2 1003.7l-2.8 -0M790.2 1003.7l-1.11 -3.42M790.2 1003.7l-1.11 3.42M790.2 1003.7l2.91 -2.12M790.2 1003.7l2.91 2.12" stroke="#1010ff" stroke-width="1.6" stroke-linecap="round" fill="none"/>
<path d="M805.3 1032.4l-2.8 -0M805.3 1032.4l-1.11 -3.42M805.3 1032.4l-1.11 3.42M805.3 1032.4l2.91 -2.12M805.3 1032.4l2.91 2.12M805.3 1023.3l-2.8 -0M805.3 1023.3l-1.11 -3.42M805.3 1023.3l-1.11 3.42M805.3 1023.3l2.91 -2.12M805.3 1023.3l2.91 2.12M805.3 1014.2l-2.8 -0M805.3 1014.2l-1.11 -3.42M805.3 1014.2l-1.11 3.42M805.3 1014.2l2.91 -2.12M805.3 1014.2l2.91 2.12M805.3 1003.7l-2.8 -0M805.3 1003.7l-1.11 -3.42M805.3 1003.7l-1.11 3.42M805.3 1003.7l2.91 -2.12M805.3 1003.7l2.91 2.12" stroke="#1a1a1a" stroke-width="1.2" stroke-linecap="round" fill="none"/>
<path d="M829.5 1039.3l-2.8 -0M829.5 1039.3l-1.11 -3.42M829.5 1039.3l-1.11 3.42M829.5 1039.3l2.91 -2.12M829.5 1039.3l2.91 2.12M829.5 1030.2l-2.8 -0M829.5 1030.2l-1.11 -3.42M829.5 1030.2l-1.11 3.42M829.5 1030.2l2.91 -2.12M829.5 1030.2l2.91 2.12M829.5 1021.1l-2.8 -0M829.5 1021.1l-1.11 -3.42M829.5 1021.1l-1.11 3.42M829.5 1021.1l2.91 -2.12M829.5 1021.1l2.91 2.12M829.5 1010.6l-2.8 -0M829.5 1010.6l-1.11 -3.42M829.5 1010.6l-1.11 3.42M829.5 1010.6l2.91 -2.12M829.5 1010.6l2.91 2.12" stroke="#1010ff" stroke-width="1.6" stroke-linecap="round" fill="none"/>
<path d="M867.3 1054.1l-2.8 -0M867.3 1054.1l-1.11 -3.42M867.3 1054.1l-1.11 3.42M867.3 1054.1l2.91 -2.12M867.3 1054.1l2.91 2.12M867.3 1045l-2.8 -0M867.3 1045l-1.11 -3.42M867.3 1045l-1.11 3.42M867.3 1045l2.91 -2.12M867.3 1045l2.91 2.12M867.3 1035.9l-2.8 -0M867.3 1035.9l-1.11 -3.42M867.3 1035.9l-1.11 3.42M867.3 1035.9l2.91 -2.12M867.3 1035.9l2.91 2.12" stroke="#1010ff" stroke-width="1.6" stroke-linecap="round" fill="none"/>
<path d="M905.6 1050.9l-2.8 -0M905.6 1050.9l-1.11 -3.42M905.6 1050.9l-1.11 3.42M905.6 1050.9l2.91 -2.12M905.6 1050.9l2.91 2.12M905.6 1041.8l-2.8 -0M905.6 1041.8l-1.11 -3.42M905.6 1041.8l-1.11 3.42M905.6 1041.8l2.91 -2.12M905.6 1041.8l2.91 2.12M905.6 1032.7l-2.8 -0M905.6 1032.7l-1.11 -3.42M905.6 1032.7l-1.11 3.42M905.6 1032.7l2.91 -2.12M905.6 1032.7l2.91 2.12M905.6 1022.2l-2.8 -0M905.6 1022.2l-1.11 -3.42M905.6 1022.2l-1.11 3.42M905.6 1022.2l2.91 -2.12M905.6 1022.2l2.91 2.12" stroke="#1010ff" stroke-width="1.6" stroke-linecap="round" fill="none"/>
<line x1="127" y1="745" x2="127" y2="1322.8" stroke="#000" stroke-width="1.7"/>
<line x1="122" y1="1080.4" x2="127" y2="1080.4" stroke="#000" stroke-width="1.5"/>
<line x1="117" y1="1057.7" x2="127" y2="1057.7" stroke="#000" stroke-width="1.5"/>
<text transform="translate(108 1063.3) scale(0.9 1)" text-anchor="end" font-family="'Liberation Sans', sans-serif" font-weight="bold" font-size="23.6">20</text>
<line x1="122" y1="1033.7" x2="127" y2="1033.7" stroke="#000" stroke-width="1.5"/>
<line x1="117" y1="1009.7" x2="127" y2="1009.7" stroke="#000" stroke-width="1.5"/>
<text transform="translate(108 1015.3) scale(0.9 1)" text-anchor="end" font-family="'Liberation Sans', sans-serif" font-weight="bold" font-size="23.6">40</text>
<line x1="122" y1="985.7" x2="127" y2="985.7" stroke="#000" stroke-width="1.5"/>
<line x1="117" y1="961.7" x2="127" y2="961.7" stroke="#000" stroke-width="1.5"/>
<text transform="translate(108 967.3) scale(0.9 1)" text-anchor="end" font-family="'Liberation Sans', sans-serif" font-weight="bold" font-size="23.6">60</text>
<line x1="122" y1="937.7" x2="127" y2="937.7" stroke="#000" stroke-width="1.5"/>
<line x1="117" y1="913.7" x2="127" y2="913.7" stroke="#000" stroke-width="1.5"/>
<text transform="translate(108 919.3) scale(0.9 1)" text-anchor="end" font-family="'Liberation Sans', sans-serif" font-weight="bold" font-size="23.6">80</text>
<line x1="122" y1="889.7" x2="127" y2="889.7" stroke="#000" stroke-width="1.5"/>
<line x1="117" y1="865.7" x2="127" y2="865.7" stroke="#000" stroke-width="1.5"/>
<text transform="translate(108 871.3) scale(0.9 1)" text-anchor="end" font-family="'Liberation Sans', sans-serif" font-weight="bold" font-size="23.6">100</text>
<line x1="122" y1="841.7" x2="127" y2="841.7" stroke="#000" stroke-width="1.5"/>
<line x1="117" y1="817.7" x2="127" y2="817.7" stroke="#000" stroke-width="1.5"/>
<text transform="translate(108 823.3) scale(0.9 1)" text-anchor="end" font-family="'Liberation Sans', sans-serif" font-weight="bold" font-size="23.6">120</text>
<line x1="122" y1="793.7" x2="127" y2="793.7" stroke="#000" stroke-width="1.5"/>
<line x1="117" y1="769.7" x2="127" y2="769.7" stroke="#000" stroke-width="1.5"/>
<text transform="translate(108 775.3) scale(0.9 1)" text-anchor="end" font-family="'Liberation Sans', sans-serif" font-weight="bold" font-size="23.6">140</text>
<line x1="122" y1="745.7" x2="127" y2="745.7" stroke="#000" stroke-width="1.5"/>
<line x1="122" y1="1301.75" x2="127" y2="1301.75" stroke="#000" stroke-width="1.5"/>
<line x1="117" y1="1280.7" x2="127" y2="1280.7" stroke="#000" stroke-width="1.5"/>
<line x1="122" y1="1259.65" x2="127" y2="1259.65" stroke="#000" stroke-width="1.5"/>
<line x1="117" y1="1238.6" x2="127" y2="1238.6" stroke="#000" stroke-width="1.5"/>
<line x1="122" y1="1217.55" x2="127" y2="1217.55" stroke="#000" stroke-width="1.5"/>
<line x1="117" y1="1196.5" x2="127" y2="1196.5" stroke="#000" stroke-width="1.5"/>
<line x1="122" y1="1175.45" x2="127" y2="1175.45" stroke="#000" stroke-width="1.5"/>
<line x1="117" y1="1154.4" x2="127" y2="1154.4" stroke="#000" stroke-width="1.5"/>
<line x1="122" y1="1133.35" x2="127" y2="1133.35" stroke="#000" stroke-width="1.5"/>
<line x1="117" y1="1112.3" x2="127" y2="1112.3" stroke="#000" stroke-width="1.5"/>
<text transform="translate(108 1328.4) scale(0.9 1)" text-anchor="end" font-family="'Liberation Sans', sans-serif" font-weight="bold" font-size="23.6">0</text>
<text transform="translate(108 1286.3) scale(0.9 1)" text-anchor="end" font-family="'Liberation Sans', sans-serif" font-weight="bold" font-size="23.6">1</text>
<text transform="translate(108 1244.2) scale(0.9 1)" text-anchor="end" font-family="'Liberation Sans', sans-serif" font-weight="bold" font-size="23.6">2</text>
<text transform="translate(108 1202.1) scale(0.9 1)" text-anchor="end" font-family="'Liberation Sans', sans-serif" font-weight="bold" font-size="23.6">3</text>
<text transform="translate(108 1160) scale(0.9 1)" text-anchor="end" font-family="'Liberation Sans', sans-serif" font-weight="bold" font-size="23.6">4</text>
<text transform="translate(108 1117.9) scale(0.9 1)" text-anchor="end" font-family="'Liberation Sans', sans-serif" font-weight="bold" font-size="23.6">5</text>
<line x1="117.6" y1="1095.7" x2="136.7" y2="1087.7" stroke="#000" stroke-width="1.2"/>
<line x1="117" y1="1322.8" x2="933.4" y2="1322.8" stroke="#000" stroke-width="1.6"/>
<path d="M127 1354.3H933.4M127 1395.3H933.4" stroke="#000" stroke-width="1.6"/>
<path d="M127 1322.8V1395.3M165.4 1322.8V1354.3M203.8 1322.8V1354.3M242.2 1322.8V1395.3M280.6 1322.8V1354.3M319 1322.8V1354.3M357.4 1322.8V1395.3M395.8 1322.8V1354.3M434.2 1322.8V1354.3M472.6 1322.8V1395.3M511 1322.8V1354.3M549.4 1322.8V1354.3M587.8 1322.8V1395.3M626.2 1322.8V1354.3M664.6 1322.8V1354.3M703 1322.8V1395.3M741.4 1322.8V1354.3M779.8 1322.8V1354.3M818.2 1322.8V1395.3M856.6 1322.8V1354.3M895 1322.8V1354.3M933.4 1322.8V1395.3" stroke="#000" stroke-width="1.5"/>
<text transform="translate(154 1339) rotate(-90) scale(1 1.07)" text-anchor="middle" font-family="'Liberation Sans', sans-serif" font-weight="bold" font-size="24">24</text>
<text transform="translate(192.4 1339) rotate(-90) scale(1 1.07)" text-anchor="middle" font-family="'Liberation Sans', sans-serif" font-weight="bold" font-size="24">48</text>
<text transform="translate(230.8 1339) rotate(-90) scale(1 1.07)" text-anchor="middle" font-family="'Liberation Sans', sans-serif" font-weight="bold" font-size="24">72</text>
<text x="184.6" y="1382.5" text-anchor="middle" font-family="'Liberation Sans', sans-serif" font-weight="bold" font-size="24">CP</text>
<text transform="translate(269.2 1339) rotate(-90) scale(1 1.07)" text-anchor="middle" font-family="'Liberation Sans', sans-serif" font-weight="bold" font-size="24">24</text>
<text transform="translate(307.6 1339) rotate(-90) scale(1 1.07)" text-anchor="middle" font-family="'Liberation Sans', sans-serif" font-weight="bold" font-size="24">48</text>
<text transform="translate(346 1339) rotate(-90) scale(1 1.07)" text-anchor="middle" font-family="'Liberation Sans', sans-serif" font-weight="bold" font-size="24">72</text>
<text x="299.8" y="1382.5" text-anchor="middle" font-family="'Liberation Sans', sans-serif" font-weight="bold" font-size="24" textLength="49" lengthAdjust="spacingAndGlyphs">C<tspan dx="2.5">SC</tspan></text>
<text transform="translate(384.4 1339) rotate(-90) scale(1 1.07)" text-anchor="middle" font-family="'Liberation Sans', sans-serif" font-weight="bold" font-size="24">24</text>
<text transform="translate(422.8 1339) rotate(-90) scale(1 1.07)" text-anchor="middle" font-family="'Liberation Sans', sans-serif" font-weight="bold" font-size="24">48</text>
<text transform="translate(461.2 1339) rotate(-90) scale(1 1.07)" text-anchor="middle" font-family="'Liberation Sans', sans-serif" font-weight="bold" font-size="24">72</text>
<text x="415" y="1382.5" text-anchor="middle" font-family="'Liberation Sans', sans-serif" font-weight="bold" font-size="24">M</text>
<text transform="translate(499.6 1339) rotate(-90) scale(1 1.07)" text-anchor="middle" font-family="'Liberation Sans', sans-serif" font-weight="bold" font-size="24">24</text>
<text transform="translate(538 1339) rotate(-90) scale(1 1.07)" text-anchor="middle" font-family="'Liberation Sans', sans-serif" font-weight="bold" font-size="24">48</text>
<text transform="translate(576.4 1339) rotate(-90) scale(1 1.07)" text-anchor="middle" font-family="'Liberation Sans', sans-serif" font-weight="bold" font-size="24">72</text>
<text x="530.2" y="1382.5" text-anchor="middle" font-family="'Liberation Sans', sans-serif" font-weight="bold" font-size="24">Pn</text>
<text transform="translate(614.8 1339) rotate(-90) scale(1 1.07)" text-anchor="middle" font-family="'Liberation Sans', sans-serif" font-weight="bold" font-size="24">24</text>
<text transform="translate(653.2 1339) rotate(-90) scale(1 1.07)" text-anchor="middle" font-family="'Liberation Sans', sans-serif" font-weight="bold" font-size="24">48</text>
<text transform="translate(691.6 1339) rotate(-90) scale(1 1.07)" text-anchor="middle" font-family="'Liberation Sans', sans-serif" font-weight="bold" font-size="24">72</text>
<text x="645.4" y="1382.5" text-anchor="middle" font-family="'Liberation Sans', sans-serif" font-weight="bold" font-size="24">RB</text>
<text transform="translate(730 1339) rotate(-90) scale(1 1.07)" text-anchor="middle" font-family="'Liberation Sans', sans-serif" font-weight="bold" font-size="24">24</text>
<text transform="translate(768.4 1339) rotate(-90) scale(1 1.07)" text-anchor="middle" font-family="'Liberation Sans', sans-serif" font-weight="bold" font-size="24">48</text>
<text transform="translate(806.8 1339) rotate(-90) scale(1 1.07)" text-anchor="middle" font-family="'Liberation Sans', sans-serif" font-weight="bold" font-size="24">72</text>
<text x="760.6" y="1382.5" text-anchor="middle" font-family="'Liberation Sans', sans-serif" font-weight="bold" font-size="24">WB</text>
<text transform="translate(845.2 1339) rotate(-90) scale(1 1.07)" text-anchor="middle" font-family="'Liberation Sans', sans-serif" font-weight="bold" font-size="24">24</text>
<text transform="translate(883.6 1339) rotate(-90) scale(1 1.07)" text-anchor="middle" font-family="'Liberation Sans', sans-serif" font-weight="bold" font-size="24">48</text>
<text transform="translate(922 1339) rotate(-90) scale(1 1.07)" text-anchor="middle" font-family="'Liberation Sans', sans-serif" font-weight="bold" font-size="24">72</text>
<text x="875.8" y="1382.5" text-anchor="middle" font-family="'Liberation Sans', sans-serif" font-weight="bold" font-size="24">Xn</text>
<text x="194.5" y="1426.7" font-family="'Liberation Sans', sans-serif" font-weight="bold" font-size="20.8" textLength="672.5" lengthAdjust="spacing"><tspan font-style="italic">B. altitudinis</tspan> J208 grown on polysaccharide amended BHM-YEP</text>
<text transform="translate(32.6 1381.8) rotate(-90) scale(1 1.05)" font-family="'Liberation Sans', sans-serif" font-weight="bold" font-size="22" textLength="270.6" lengthAdjust="spacingAndGlyphs">Ratio of Xylanasse units (</text>
<text transform="translate(32.6 1061.3) rotate(-90) scale(1 1.05)" font-family="'Liberation Sans', sans-serif" font-weight="bold" font-size="22" textLength="194.9" lengthAdjust="spacingAndGlyphs">), pectinase units (</text>
<text transform="translate(32.6 814.7) rotate(-90) scale(1 1.05)" font-family="'Liberation Sans', sans-serif" font-weight="bold" font-size="22">)</text>
<rect x="13.2" y="1061.9" width="24.8" height="50.4" fill="#bac2ff" stroke="#000" stroke-width="1.4"/>
<rect x="13.2" y="815.9" width="24.8" height="50.8" fill="#fff"/>
<path d="M13.2 820.8L18.1 815.9M13.2 826.8L24.1 815.9M13.2 832.8L30.1 815.9M13.2 838.8L36.1 815.9M13.2 844.8L38 820M13.2 850.8L38 826M13.2 856.8L38 832M13.2 862.8L38 838M15.3 866.7L38 844M21.3 866.7L38 850M27.3 866.7L38 856M33.3 866.7L38 862M13.2 865.2L14.7 866.7M13.2 859.2L20.7 866.7M13.2 853.2L26.7 866.7M13.2 847.2L32.7 866.7M13.2 841.2L38 866M13.2 835.2L38 860M13.2 829.2L38 854M13.2 823.2L38 848M13.2 817.2L38 842M17.9 815.9L38 836M23.9 815.9L38 830M29.9 815.9L38 824M35.9 815.9L38 818" stroke="#000" stroke-width="1.2" fill="none" shape-rendering="auto"/>
<path d="M13.2 815.9h24.8v50.8h-24.8z" stroke="#000" stroke-width="1.7" fill="none"/>
<text transform="translate(61 1339.4) rotate(-90) scale(1 1.05)" font-family="'Liberation Sans', sans-serif" font-weight="bold" font-size="22">and OD</text>
<text transform="translate(67.3 1261.6) rotate(-90) scale(1 1.05)" font-family="'Liberation Sans', sans-serif" font-weight="bold" font-size="15">600</text>
<text transform="translate(61 1229.8) rotate(-90) scale(1 1.05)" font-family="'Liberation Sans', sans-serif" font-weight="bold" font-size="22">(</text>
<text transform="translate(61 1169.8) rotate(-90) scale(1 1.05)" font-family="'Liberation Sans', sans-serif" font-weight="bold" font-size="22">) on polysaccharide v/s glucose</text>
<line x1="53" y1="1172.2" x2="53" y2="1223.5" stroke="#ff0000" stroke-width="1.4"/>
<path d="M53 1192.7l4 4.5l-4 4.5l-4 -4.5z" fill="#000"/>
</svg></body></html>
